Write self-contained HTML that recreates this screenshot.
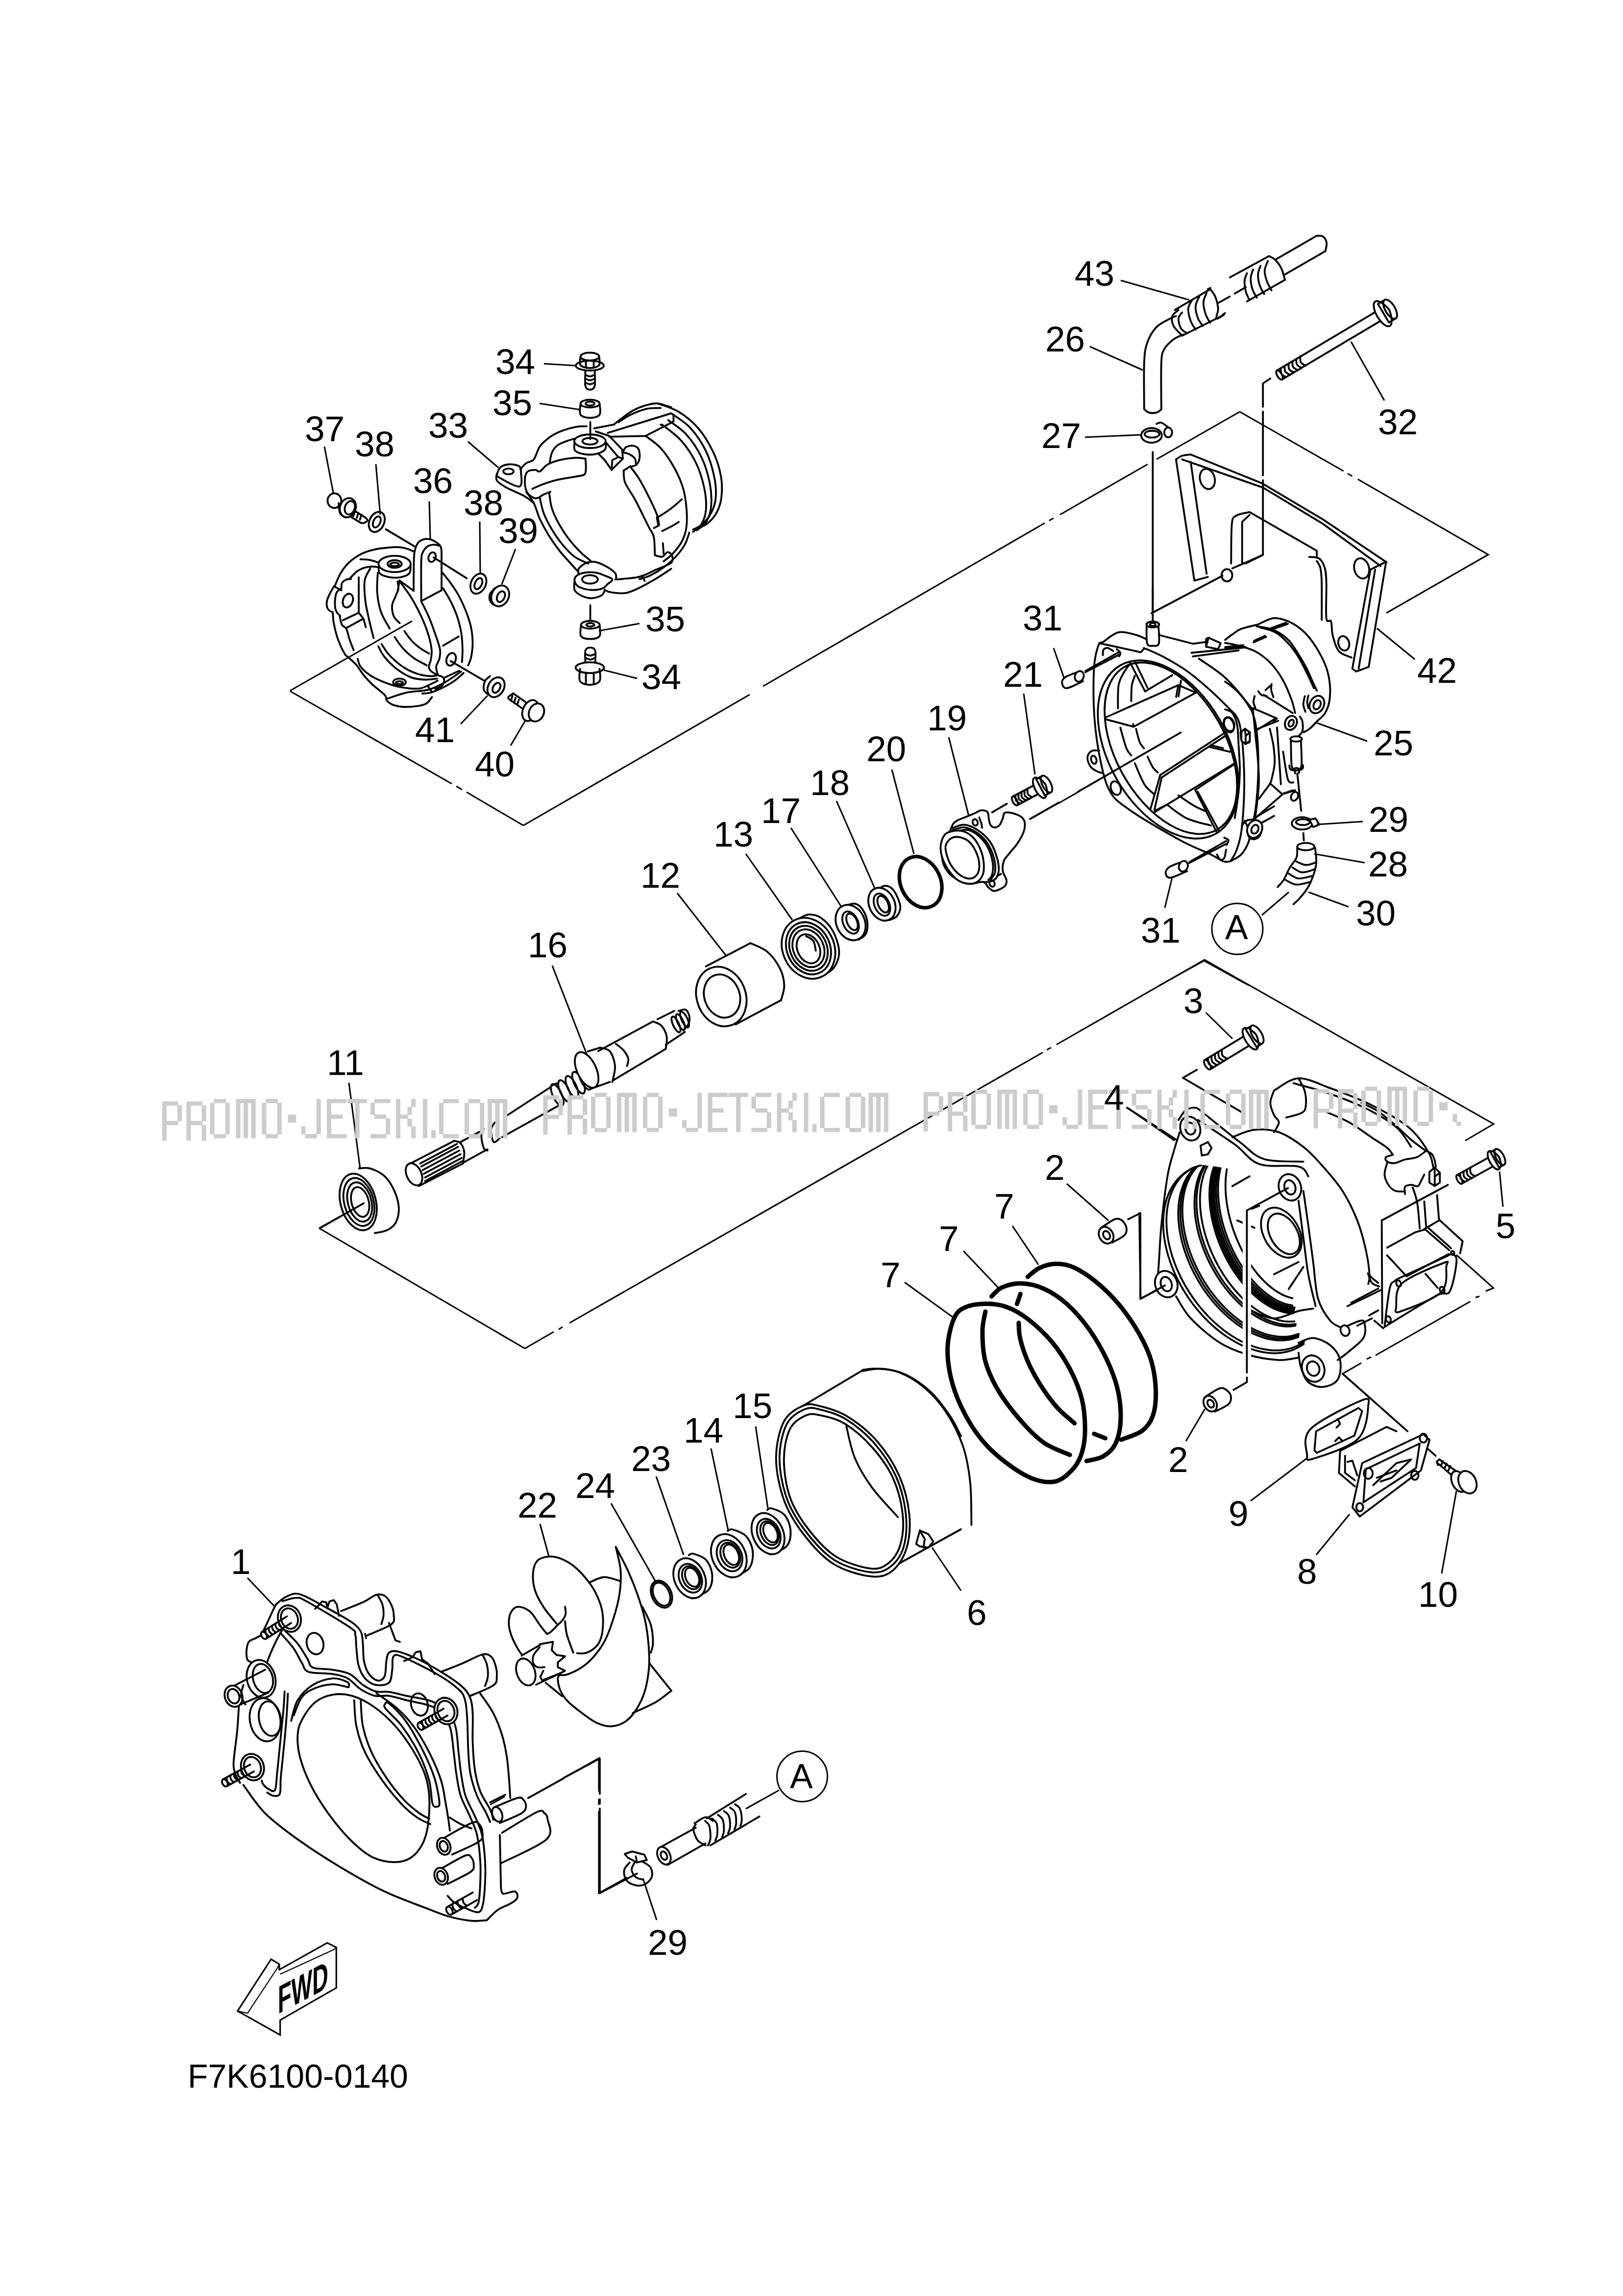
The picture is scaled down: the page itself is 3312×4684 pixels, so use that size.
<!DOCTYPE html>
<html><head><meta charset="utf-8"><style>
html,body{margin:0;padding:0;background:#fff;width:3312px;height:4684px;overflow:hidden}
svg{position:absolute;left:0;top:0}
text{font-family:"Liberation Sans",sans-serif;font-size:73px;fill:#000}
g.g path,g.g ellipse{fill:none;stroke:#000;stroke-linejoin:round;stroke-linecap:round}
g.g .f{fill:#fff}
.ld{fill:none;stroke:#000;stroke-width:3.1;stroke-linecap:butt}
</style></head><body>
<svg width="3312" height="4684" viewBox="0 0 3312 4684">
<rect width="3312" height="4684" fill="#fff"/>

<g class="g" transform="translate(1000,800) scale(0.30807)" stroke-width="12.33">
<path class="f" d="M48.0,540.0 C50.0,528.3 58.3,505.3 72.0,495.0 C85.7,484.7 110.0,478.8 130.0,478.0 C150.0,477.2 179.5,481.3 192.0,490.0 C204.5,498.7 204.5,507.5 205.0,530.0 C205.5,552.5 219.2,619.2 195.0,625.0 C170.8,630.8 84.5,579.2 60.0,565.0 C35.5,550.8 46.0,551.7 48.0,540.0 Z"/>
<ellipse cx="122" cy="525" rx="34" ry="19"/>
<path d="M45.0,540.0 C45.0,547.5 35.0,570.0 45.0,585.0 C55.0,600.0 74.2,612.5 105.0,630.0 C135.8,647.5 199.2,672.5 230.0,690.0 C260.8,707.5 280.0,727.5 290.0,735.0"/>
<path d="M200.0,510.0 C206.7,503.3 225.0,480.8 240.0,470.0 C255.0,459.2 275.0,463.3 290.0,445.0 C305.0,426.7 311.7,385.0 330.0,360.0 C348.3,335.0 375.0,312.5 400.0,295.0 C425.0,277.5 451.7,265.8 480.0,255.0 C508.3,244.2 543.3,234.8 570.0,230.0 C596.7,225.2 628.3,226.7 640.0,226.0"/>
<path d="M232.0,560.0 C235.0,554.2 238.7,532.5 250.0,525.0 C261.3,517.5 286.7,515.0 300.0,515.0 C313.3,515.0 316.7,530.8 330.0,525.0 C343.3,519.2 358.3,492.5 380.0,480.0 C401.7,467.5 430.0,457.5 460.0,450.0 C490.0,442.5 531.3,436.7 560.0,435.0 C588.7,433.3 620.0,439.2 632.0,440.0"/>
<path d="M280.0,640.0 C291.7,635.0 321.7,620.0 350.0,610.0 C378.3,600.0 415.0,588.3 450.0,580.0 C485.0,571.7 530.8,565.8 560.0,560.0 C589.2,554.2 612.5,555.0 625.0,545.0 C637.5,535.0 633.8,517.5 635.0,500.0 C636.2,482.5 632.5,450.0 632.0,440.0"/>
<path d="M232.0,560.0 C232.0,570.0 229.0,601.7 232.0,620.0 C235.0,638.3 240.3,656.7 250.0,670.0 C259.7,683.3 278.3,695.0 290.0,700.0 C301.7,705.0 310.0,703.3 320.0,700.0 C330.0,696.7 336.7,686.7 350.0,680.0 C363.3,673.3 391.7,663.3 400.0,660.0"/>
<path d="M240.0,660.0 C248.3,672.5 275.0,705.0 290.0,735.0 C305.0,765.0 313.3,804.2 330.0,840.0 C346.7,875.8 368.3,915.0 390.0,950.0 C411.7,985.0 436.7,1020.0 460.0,1050.0 C483.3,1080.0 509.2,1106.7 530.0,1130.0 C550.8,1153.3 575.8,1180.0 585.0,1190.0"/>
<path d="M330.0,700.0 C334.2,716.7 341.7,765.0 355.0,800.0 C368.3,835.0 389.2,875.0 410.0,910.0 C430.8,945.0 455.0,980.0 480.0,1010.0 C505.0,1040.0 531.7,1069.2 560.0,1090.0 C588.3,1110.8 635.0,1127.5 650.0,1135.0"/>
<path d="M392.0,670.0 C395.0,686.7 399.5,736.7 410.0,770.0 C420.5,803.3 436.7,836.7 455.0,870.0 C473.3,903.3 495.8,938.3 520.0,970.0 C544.2,1001.7 575.8,1035.8 600.0,1060.0 C624.2,1084.2 654.2,1105.8 665.0,1115.0"/>
<path d="M395.0,470.0 C397.5,458.3 400.8,420.0 410.0,400.0 C419.2,380.0 431.7,363.3 450.0,350.0 C468.3,336.7 499.2,327.5 520.0,320.0 C540.8,312.5 565.8,307.5 575.0,305.0"/>
<path d="M560.0,330.0 C560.3,339.2 552.0,371.7 562.0,385.0 C572.0,398.3 597.0,405.8 620.0,410.0 C643.0,414.2 676.3,415.0 700.0,410.0 C723.7,405.0 751.2,393.3 762.0,380.0 C772.8,366.7 764.5,338.3 765.0,330.0"/>
<ellipse class="f" cx="662" cy="325" rx="104" ry="45"/>
<ellipse cx="662" cy="325" rx="50" ry="22"/>
<path d="M700.0,260.0 L790.0,290.0 L875.0,380.0 L880.0,440.0 L805.0,515.0 L760.0,450.0 L720.0,410.0"/>
<path d="M765.0,330.0 L850.0,430.0 L880.0,440.0"/>
<path d="M805.0,515.0 L810.0,450.0 L850.0,430.0"/>
<path d="M880.0,400.0 C883.3,394.2 888.3,372.5 900.0,365.0 C911.7,357.5 935.8,352.5 950.0,355.0 C964.2,357.5 978.3,365.8 985.0,380.0 C991.7,394.2 992.5,423.3 990.0,440.0 C987.5,456.7 980.0,470.8 970.0,480.0 C960.0,489.2 936.7,492.5 930.0,495.0"/>
<path d="M880.0,400.0 C886.7,401.7 906.7,403.3 920.0,410.0 C933.3,416.7 952.5,430.0 960.0,440.0 C967.5,450.0 964.2,465.0 965.0,470.0"/>
<path d="M690.0,240.0 L820.0,215.0"/>
<path d="M780.0,270.0 L1200.0,140.0 L1215.0,150.0 L1215.0,195.0 L1030.0,290.0 L790.0,295.0"/>
<path d="M820.0,215.0 C828.3,208.3 848.3,190.8 870.0,175.0 C891.7,159.2 921.7,135.0 950.0,120.0 C978.3,105.0 1013.3,92.5 1040.0,85.0 C1066.7,77.5 1083.3,72.5 1110.0,75.0 C1136.7,77.5 1185.0,95.8 1200.0,100.0"/>
<path d="M850.0,200.0 C863.3,191.7 898.3,165.0 930.0,150.0 C961.7,135.0 1006.7,117.5 1040.0,110.0 C1073.3,102.5 1115.0,105.8 1130.0,105.0"/>
<path d="M1110.0,75.0 C1133.3,84.2 1205.0,102.5 1250.0,130.0 C1295.0,157.5 1341.7,195.0 1380.0,240.0 C1418.3,285.0 1455.0,346.7 1480.0,400.0 C1505.0,453.3 1521.3,510.0 1530.0,560.0 C1538.7,610.0 1537.0,660.0 1532.0,700.0 C1527.0,740.0 1515.3,771.7 1500.0,800.0 C1484.7,828.3 1461.7,852.5 1440.0,870.0 C1418.3,887.5 1381.7,899.2 1370.0,905.0"/>
<path d="M1215.0,150.0 C1234.2,165.0 1294.2,200.0 1330.0,240.0 C1365.8,280.0 1404.2,336.7 1430.0,390.0 C1455.8,443.3 1474.2,508.3 1485.0,560.0 C1495.8,611.7 1498.3,660.0 1495.0,700.0 C1491.7,740.0 1480.0,770.8 1465.0,800.0 C1450.0,829.2 1425.0,856.7 1405.0,875.0 C1385.0,893.3 1355.0,904.2 1345.0,910.0"/>
<path d="M1180.0,185.0 C1200.0,200.8 1263.3,239.2 1300.0,280.0 C1336.7,320.8 1374.2,376.7 1400.0,430.0 C1425.8,483.3 1444.2,546.7 1455.0,600.0 C1465.8,653.3 1468.3,707.5 1465.0,750.0 C1461.7,792.5 1450.8,827.5 1435.0,855.0 C1419.2,882.5 1380.8,905.0 1370.0,915.0"/>
<path d="M1140.0,215.0 C1160.8,232.5 1227.5,277.5 1265.0,320.0 C1302.5,362.5 1339.2,416.7 1365.0,470.0 C1390.8,523.3 1409.2,588.3 1420.0,640.0 C1430.8,691.7 1433.3,740.8 1430.0,780.0 C1426.7,819.2 1414.2,850.8 1400.0,875.0 C1385.8,899.2 1354.2,916.7 1345.0,925.0"/>
<path d="M1030.0,290.0 C1046.7,303.3 1098.3,335.0 1130.0,370.0 C1161.7,405.0 1195.0,455.0 1220.0,500.0 C1245.0,545.0 1266.3,593.3 1280.0,640.0 C1293.7,686.7 1298.7,736.7 1302.0,780.0 C1305.3,823.3 1305.3,865.0 1300.0,900.0 C1294.7,935.0 1285.0,961.7 1270.0,990.0 C1255.0,1018.3 1230.0,1048.3 1210.0,1070.0 C1190.0,1091.7 1160.0,1111.7 1150.0,1120.0"/>
<path d="M1130.0,215.0 L1150.0,225.0"/>
<path d="M1320.0,930.0 C1315.0,943.3 1305.0,983.3 1290.0,1010.0 C1275.0,1036.7 1253.3,1065.0 1230.0,1090.0 C1206.7,1115.0 1178.3,1139.2 1150.0,1160.0 C1121.7,1180.8 1086.7,1202.0 1060.0,1215.0 C1033.3,1228.0 1001.7,1234.2 990.0,1238.0"/>
<path d="M885.0,520.0 C886.7,533.3 882.5,568.3 895.0,600.0 C907.5,631.7 940.0,673.3 960.0,710.0 C980.0,746.7 999.2,788.3 1015.0,820.0 C1030.8,851.7 1043.3,876.7 1055.0,900.0 C1066.7,923.3 1078.8,930.0 1085.0,960.0 C1091.2,990.0 1090.8,1060.0 1092.0,1080.0"/>
<path d="M930.0,495.0 C939.2,507.5 965.0,537.5 985.0,570.0 C1005.0,602.5 1030.0,650.0 1050.0,690.0 C1070.0,730.0 1093.3,778.3 1105.0,810.0 C1116.7,841.7 1117.5,868.3 1120.0,880.0"/>
<path d="M885.0,520.0 L930.0,490.0"/>
<path d="M1085.0,900.0 L1115.0,885.0 L1105.0,830.0"/>
<path d="M1110.0,830.0 C1125.0,820.0 1173.3,790.0 1200.0,770.0 C1226.7,750.0 1258.3,720.0 1270.0,710.0"/>
<path d="M1140.0,920.0 C1150.0,915.0 1181.7,900.0 1200.0,890.0 C1218.3,880.0 1241.7,865.0 1250.0,860.0"/>
<path d="M1145.0,1000.0 L1150.0,1070.0"/>
<path d="M1092.0,1080.0 C1100.0,1081.7 1126.2,1093.3 1140.0,1090.0 C1153.8,1086.7 1164.2,1061.7 1175.0,1060.0 C1185.8,1058.3 1200.8,1068.3 1205.0,1080.0 C1209.2,1091.7 1217.5,1114.2 1200.0,1130.0 C1182.5,1145.8 1133.3,1160.0 1100.0,1175.0 C1066.7,1190.0 1033.3,1210.0 1000.0,1220.0 C966.7,1230.0 928.3,1231.7 900.0,1235.0 C871.7,1238.3 841.7,1239.2 830.0,1240.0"/>
<path d="M760.0,1310.0 C766.7,1312.5 776.7,1321.7 800.0,1325.0 C823.3,1328.3 866.7,1335.8 900.0,1330.0 C933.3,1324.2 966.7,1305.8 1000.0,1290.0 C1033.3,1274.2 1066.7,1255.0 1100.0,1235.0 C1133.3,1215.0 1183.3,1180.8 1200.0,1170.0"/>
<path d="M1005.0,1215.0 L1025.0,1250.0"/>
<path d="M585.0,1200.0 C585.8,1194.2 580.8,1176.7 590.0,1165.0 C599.2,1153.3 621.7,1136.7 640.0,1130.0 C658.3,1123.3 676.7,1120.0 700.0,1125.0 C723.3,1130.0 758.3,1147.5 780.0,1160.0 C801.7,1172.5 820.8,1188.3 830.0,1200.0 C839.2,1211.7 834.2,1225.0 835.0,1230.0"/>
<path d="M560.0,1250.0 C560.0,1260.0 553.3,1294.2 560.0,1310.0 C566.7,1325.8 581.7,1335.8 600.0,1345.0 C618.3,1354.2 646.7,1365.0 670.0,1365.0 C693.3,1365.0 725.0,1354.2 740.0,1345.0 C755.0,1335.8 756.7,1315.8 760.0,1310.0"/>
<path class="f" d="M560.0,1250.0 C557.5,1237.5 563.3,1224.2 575.0,1215.0 C586.7,1205.8 609.2,1198.3 630.0,1195.0 C650.8,1191.7 678.3,1191.7 700.0,1195.0 C721.7,1198.3 741.7,1207.5 760.0,1215.0 C778.3,1222.5 806.7,1230.8 810.0,1240.0 C813.3,1249.2 790.8,1260.0 780.0,1270.0 C769.2,1280.0 763.3,1293.3 745.0,1300.0 C726.7,1306.7 695.8,1311.7 670.0,1310.0 C644.2,1308.3 608.3,1300.0 590.0,1290.0 C571.7,1280.0 562.5,1262.5 560.0,1250.0 Z"/>
<ellipse cx="662" cy="1240" rx="52" ry="28"/>
</g>
<g class="g" transform="translate(640,1080) scale(0.22181)" stroke-width="17.13">
<path d="M920.0,565.0 C920.3,520.8 920.3,360.8 922.0,300.0 C923.7,239.2 923.7,229.2 930.0,200.0 C936.3,170.8 946.7,143.0 960.0,125.0 C973.3,107.0 992.5,97.8 1010.0,92.0 C1027.5,86.2 1048.3,87.3 1065.0,90.0 C1081.7,92.7 1095.0,99.7 1110.0,108.0 C1125.0,116.3 1144.2,128.0 1155.0,140.0 C1165.8,152.0 1171.3,153.3 1175.0,180.0 C1178.7,206.7 1176.7,236.7 1177.0,300.0 C1177.3,363.3 1177.0,516.7 1177.0,560.0"/>
<path d="M990.0,660.0 C990.0,600.0 987.5,375.0 990.0,300.0 C992.5,225.0 995.0,234.2 1005.0,210.0 C1015.0,185.8 1032.5,166.7 1050.0,155.0 C1067.5,143.3 1092.5,140.8 1110.0,140.0 C1127.5,139.2 1147.5,148.3 1155.0,150.0"/>
<path d="M990.0,660.0 L1177.0,560.0"/>
<ellipse cx="1090" cy="255" rx="33" ry="45" transform="rotate(20 1090 255)"/>
<path d="M920.0,565.0 L790.0,470.0"/>
<path d="M790.0,470.0 L775.0,560.0"/>
<path d="M600.0,330.0 C601.3,342.5 591.3,386.7 608.0,405.0 C624.7,423.3 668.0,434.2 700.0,440.0 C732.0,445.8 770.0,445.8 800.0,440.0 C830.0,434.2 864.7,423.3 880.0,405.0 C895.3,386.7 890.0,342.5 892.0,330.0"/>
<ellipse class="f" cx="745" cy="318" rx="148" ry="75"/>
<ellipse cx="745" cy="318" rx="65" ry="35"/>
<ellipse cx="745" cy="322" rx="40" ry="16"/>
<path d="M195.0,520.0 C204.2,500.0 227.5,436.7 250.0,400.0 C272.5,363.3 296.7,330.0 330.0,300.0 C363.3,270.0 411.7,239.2 450.0,220.0 C488.3,200.8 521.7,193.7 560.0,185.0 C598.3,176.3 643.3,171.7 680.0,168.0 C716.7,164.3 750.0,161.3 780.0,163.0 C810.0,164.7 835.8,171.0 860.0,178.0 C884.2,185.0 914.2,200.5 925.0,205.0"/>
<path d="M335.0,450.0 C345.8,439.2 377.5,401.3 400.0,385.0 C422.5,368.7 446.7,359.2 470.0,352.0 C493.3,344.8 519.2,342.7 540.0,342.0 C560.8,341.3 585.8,347.0 595.0,348.0"/>
<path d="M430.0,275.0 C445.0,276.2 492.5,277.0 520.0,282.0 C547.5,287.0 582.5,301.2 595.0,305.0"/>
<path d="M255.0,545.0 C256.2,536.2 254.5,505.8 262.0,492.0 C269.5,478.2 286.2,468.2 300.0,462.0 C313.8,455.8 337.5,456.2 345.0,455.0"/>
<path d="M190.0,520.0 C183.3,531.7 161.3,566.7 150.0,590.0 C138.7,613.3 126.2,638.3 122.0,660.0 C117.8,681.7 120.3,705.0 125.0,720.0 C129.7,735.0 141.7,743.3 150.0,750.0 C158.3,756.7 170.8,758.3 175.0,760.0"/>
<path d="M255.0,545.0 C248.3,550.0 224.5,559.2 215.0,575.0 C205.5,590.8 200.8,615.8 198.0,640.0 C195.2,664.2 195.2,699.2 198.0,720.0 C200.8,740.8 207.2,752.5 215.0,765.0 C222.8,777.5 240.0,790.0 245.0,795.0"/>
<ellipse cx="315" cy="655" rx="45" ry="65" transform="rotate(20 315 655)"/>
<path d="M190.0,525.0 L255.0,560.0"/>
<path d="M415.0,440.0 L415.0,765.0 L460.0,825.0 L480.0,900.0"/>
<path d="M270.0,835.0 L410.0,770.0"/>
<path d="M305.0,905.0 L450.0,825.0"/>
<path d="M175.0,760.0 C176.7,776.7 178.3,822.5 185.0,860.0 C191.7,897.5 203.3,947.5 215.0,985.0 C226.7,1022.5 242.2,1056.7 255.0,1085.0 C267.8,1113.3 285.8,1143.3 292.0,1155.0"/>
<path d="M240.0,800.0 C243.7,813.3 252.0,861.3 262.0,880.0 C272.0,898.7 288.7,890.3 300.0,912.0 C311.3,933.7 318.7,977.0 330.0,1010.0 C341.3,1043.0 361.7,1093.3 368.0,1110.0"/>
<path d="M520.0,360.0 C511.7,378.3 477.5,421.7 470.0,470.0 C462.5,518.3 468.3,590.0 475.0,650.0 C481.7,710.0 497.2,771.7 510.0,830.0 C522.8,888.3 545.0,971.7 552.0,1000.0"/>
<path d="M590.0,400.0 C589.2,430.0 580.0,520.0 585.0,580.0 C590.0,640.0 600.8,704.7 620.0,760.0 C639.2,815.3 686.7,886.7 700.0,912.0"/>
<path d="M772.0,480.0 C773.3,490.8 783.3,521.7 780.0,545.0 C776.7,568.3 761.7,594.2 752.0,620.0 C742.3,645.8 724.3,670.0 722.0,700.0 C719.7,730.0 726.3,773.0 738.0,800.0 C749.7,827.0 783.0,851.7 792.0,862.0"/>
<path d="M790.0,475.0 C808.3,500.8 866.7,575.8 900.0,630.0 C933.3,684.2 965.0,746.7 990.0,800.0 C1015.0,853.3 1034.2,900.0 1050.0,950.0 C1065.8,1000.0 1080.3,1058.3 1085.0,1100.0 C1089.7,1141.7 1082.2,1173.0 1078.0,1200.0 C1073.8,1227.0 1060.0,1245.0 1060.0,1262.0 C1060.0,1279.0 1067.2,1290.3 1078.0,1302.0 C1088.8,1313.7 1117.2,1327.0 1125.0,1332.0"/>
<path d="M990.0,662.0 C1001.3,685.0 1036.7,750.3 1058.0,800.0 C1079.3,849.7 1100.7,910.0 1118.0,960.0 C1135.3,1010.0 1155.3,1062.5 1162.0,1100.0 C1168.7,1137.5 1163.7,1158.0 1158.0,1185.0 C1152.3,1212.0 1131.0,1237.8 1128.0,1262.0 C1125.0,1286.2 1138.0,1318.7 1140.0,1330.0"/>
<path d="M835.0,935.0 C845.8,949.5 875.8,995.8 900.0,1022.0 C924.2,1048.2 953.0,1072.0 980.0,1092.0 C1007.0,1112.0 1048.3,1133.7 1062.0,1142.0"/>
<path d="M745.0,990.0 C757.5,1007.0 790.8,1060.0 820.0,1092.0 C849.2,1124.0 883.3,1155.7 920.0,1182.0 C956.7,1208.3 1020.0,1238.7 1040.0,1250.0"/>
<path d="M625.0,1055.0 C637.5,1072.5 665.8,1124.2 700.0,1160.0 C734.2,1195.8 786.7,1241.7 830.0,1270.0 C873.3,1298.3 918.3,1316.7 960.0,1330.0 C1001.7,1343.3 1050.0,1348.3 1080.0,1350.0 C1110.0,1351.7 1130.0,1341.7 1140.0,1340.0"/>
<path d="M595.0,1075.0 C604.2,1090.8 622.5,1135.8 650.0,1170.0 C677.5,1204.2 718.3,1248.0 760.0,1280.0 C801.7,1312.0 855.0,1345.0 900.0,1362.0 C945.0,1379.0 990.8,1380.3 1030.0,1382.0 C1069.2,1383.7 1117.5,1373.7 1135.0,1372.0"/>
<path d="M405.0,1190.0 C409.5,1202.0 412.8,1236.7 432.0,1262.0 C451.2,1287.3 485.3,1318.7 520.0,1342.0 C554.7,1365.3 600.0,1385.3 640.0,1402.0 C680.0,1418.7 720.0,1432.0 760.0,1442.0 C800.0,1452.0 843.3,1458.7 880.0,1462.0 C916.7,1465.3 950.0,1467.0 980.0,1462.0 C1010.0,1457.0 1033.3,1443.7 1060.0,1432.0 C1086.7,1420.3 1126.7,1398.7 1140.0,1392.0"/>
<path d="M292.0,1155.0 C308.2,1169.5 361.0,1211.2 389.0,1242.0 C417.0,1272.8 435.0,1309.5 460.0,1340.0 C485.0,1370.5 506.3,1394.2 539.0,1425.0 C571.7,1455.8 633.7,1500.0 656.0,1525.0 C678.3,1550.0 659.2,1559.7 673.0,1575.0 C686.8,1590.3 708.5,1607.3 739.0,1617.0 C769.5,1626.7 808.7,1634.5 856.0,1633.0 C903.3,1631.5 984.2,1623.2 1023.0,1608.0 C1061.8,1592.8 1078.0,1553.0 1089.0,1542.0"/>
<path d="M673.0,1558.0 C704.2,1548.3 796.2,1513.8 860.0,1500.0 C923.8,1486.2 998.3,1490.3 1056.0,1475.0 C1113.7,1459.7 1156.0,1435.8 1206.0,1408.0 C1256.0,1380.2 1331.0,1324.7 1356.0,1308.0"/>
<ellipse cx="790" cy="1405" rx="58" ry="33"/>
<ellipse cx="790" cy="1410" rx="32" ry="13"/>
<path d="M1177.0,390.0 C1189.2,405.0 1224.5,445.0 1250.0,480.0 C1275.5,515.0 1305.0,555.0 1330.0,600.0 C1355.0,645.0 1380.3,700.0 1400.0,750.0 C1419.7,800.0 1437.5,850.0 1448.0,900.0 C1458.5,950.0 1463.0,1003.3 1463.0,1050.0 C1463.0,1096.7 1454.8,1146.7 1448.0,1180.0 C1441.2,1213.3 1426.3,1238.3 1422.0,1250.0"/>
<path d="M1190.0,540.0 C1201.7,560.0 1238.3,616.7 1260.0,660.0 C1281.7,703.3 1303.7,751.7 1320.0,800.0 C1336.3,848.3 1349.7,900.0 1358.0,950.0 C1366.3,1000.0 1368.8,1055.0 1370.0,1100.0 C1371.2,1145.0 1365.8,1200.0 1365.0,1220.0"/>
<path d="M1190.0,1070.0 L1335.0,985.0"/>
<ellipse cx="1265" cy="1195" rx="42" ry="60" transform="rotate(20 1265 1195)"/>
<path d="M1380.0,1320.0 C1366.7,1331.7 1330.0,1368.3 1300.0,1390.0 C1270.0,1411.7 1236.7,1431.7 1200.0,1450.0 C1163.3,1468.3 1113.3,1490.0 1080.0,1500.0 C1046.7,1510.0 1013.3,1508.3 1000.0,1510.0"/>
<path d="M1210.0,1360.0 L1340.0,1300.0"/>
<path d="M1140.0,1340.0 C1148.3,1343.3 1180.0,1350.0 1190.0,1360.0 C1200.0,1370.0 1201.7,1386.7 1200.0,1400.0 C1198.3,1413.3 1193.3,1428.3 1180.0,1440.0 C1166.7,1451.7 1130.0,1465.0 1120.0,1470.0"/>
<path d="M1050.0,1440.0 L1085.0,1490.0"/>
</g>
<g class="g" transform="translate(560,680) scale(0.49969)" stroke-width="7.60">
<path d="M1270.0,150.0 C1270.0,160.8 1267.0,201.7 1270.0,215.0 C1273.0,228.3 1281.7,230.0 1288.0,230.0 C1294.3,230.0 1304.7,228.3 1308.0,215.0 C1311.3,201.7 1308.0,160.8 1308.0,150.0"/>
<path d="M1272.0,170.0 C1274.7,171.0 1282.3,176.0 1288.0,176.0 C1293.7,176.0 1303.0,171.0 1306.0,170.0"/>
<path d="M1272.0,186.0 C1274.7,187.0 1282.3,192.0 1288.0,192.0 C1293.7,192.0 1303.0,187.0 1306.0,186.0"/>
<path d="M1272.0,202.0 C1274.7,203.0 1282.3,208.0 1288.0,208.0 C1293.7,208.0 1303.0,203.0 1306.0,202.0"/>
<ellipse class="f" cx="1288" cy="132" rx="57" ry="20"/>
<path d="M1250.0,95.0 C1250.0,100.8 1243.7,122.2 1250.0,130.0 C1256.3,137.8 1275.3,142.0 1288.0,142.0 C1300.7,142.0 1319.7,137.8 1326.0,130.0 C1332.3,122.2 1326.0,100.8 1326.0,95.0"/>
<ellipse class="f" cx="1288" cy="95" rx="38" ry="16"/>
<path d="M1272.0,110.0 L1272.0,138.0"/>
<path d="M1304.0,110.0 L1304.0,138.0"/>
<path d="M1250.0,287.0 C1250.0,294.5 1243.5,322.3 1250.0,332.0 C1256.5,341.7 1276.0,345.0 1289.0,345.0 C1302.0,345.0 1321.5,341.7 1328.0,332.0 C1334.5,322.3 1328.0,294.5 1328.0,287.0"/>
<ellipse class="f" cx="1289" cy="287" rx="39" ry="16"/>
<ellipse cx="1289" cy="287" rx="18" ry="8"/>
<path d="M1290.0,362.0 L1290.0,432.0"/>
<path d="M1290.0,1110.0 L1290.0,1185.0"/>
<path d="M1252.0,1190.0 C1252.0,1197.7 1245.7,1226.3 1252.0,1236.0 C1258.3,1245.7 1277.3,1248.0 1290.0,1248.0 C1302.7,1248.0 1321.7,1245.7 1328.0,1236.0 C1334.3,1226.3 1328.0,1197.7 1328.0,1190.0"/>
<ellipse class="f" cx="1290" cy="1190" rx="38" ry="16"/>
<ellipse cx="1290" cy="1190" rx="16" ry="7"/>
<path d="M1270.0,1345.0 C1270.0,1336.7 1266.7,1305.3 1270.0,1295.0 C1273.3,1284.7 1283.3,1283.0 1290.0,1283.0 C1296.7,1283.0 1306.7,1284.7 1310.0,1295.0 C1313.3,1305.3 1310.0,1336.7 1310.0,1345.0"/>
<path d="M1272.0,1310.0 C1275.0,1311.0 1284.0,1316.0 1290.0,1316.0 C1296.0,1316.0 1305.0,1311.0 1308.0,1310.0"/>
<path d="M1272.0,1326.0 C1275.0,1327.0 1284.0,1332.0 1290.0,1332.0 C1296.0,1332.0 1305.0,1327.0 1308.0,1326.0"/>
<ellipse class="f" cx="1288" cy="1365" rx="58" ry="22"/>
<path d="M1248.0,1370.0 C1248.0,1378.3 1241.3,1409.2 1248.0,1420.0 C1254.7,1430.8 1274.7,1435.0 1288.0,1435.0 C1301.3,1435.0 1321.3,1430.8 1328.0,1420.0 C1334.7,1409.2 1328.0,1378.3 1328.0,1370.0"/>
<path d="M1272.0,1385.0 L1272.0,1428.0"/>
<path d="M1304.0,1385.0 L1304.0,1428.0"/>
<ellipse cx="245" cy="683" rx="28" ry="30"/>
<path d="M320.0,720.0 L372.0,752.0"/>
<path d="M300.0,742.0 L350.0,772.0"/>
<path d="M372.0,752.0 C373.3,754.2 381.7,761.2 380.0,765.0 C378.3,768.8 367.0,773.8 362.0,775.0 C357.0,776.2 352.0,772.5 350.0,772.0"/>
<path d="M316.0,718.0 L308.0,738.0"/>
<path d="M330.0,725.0 L322.0,746.0"/>
<path d="M343.0,733.0 L336.0,754.0"/>
<path d="M356.0,740.0 L349.0,761.0"/>
<ellipse class="f" cx="300" cy="712" rx="32" ry="40" transform="rotate(20 300 712)"/>
<path d="M262.0,693.0 C263.0,700.0 263.3,725.2 268.0,735.0 C272.7,744.8 286.3,749.2 290.0,752.0"/>
<ellipse cx="308" cy="712" rx="20" ry="28" transform="rotate(20 308 712)"/>
<ellipse class="f" cx="418" cy="770" rx="30" ry="43" transform="rotate(25 418 770)"/>
<ellipse cx="418" cy="770" rx="14" ry="24" transform="rotate(25 418 770)"/>
<path d="M455.0,800.0 L572.0,870.0"/>
<ellipse class="f" cx="833" cy="1022" rx="30" ry="43" transform="rotate(25 833 1022)"/>
<ellipse cx="833" cy="1022" rx="14" ry="24" transform="rotate(25 833 1022)"/>
<path d="M650.0,915.0 L785.0,1000.0"/>
<path d="M900.0,1040.0 C896.7,1044.2 883.3,1056.7 880.0,1065.0 C876.7,1073.3 877.5,1082.8 880.0,1090.0 C882.5,1097.2 890.0,1104.3 895.0,1108.0 C900.0,1111.7 907.5,1111.3 910.0,1112.0"/>
<ellipse class="f" cx="922" cy="1072" rx="35" ry="44" transform="rotate(25 922 1072)"/>
<ellipse cx="925" cy="1075" rx="15" ry="23" transform="rotate(25 925 1075)"/>
<path d="M720.0,1338.0 L860.0,1420.0"/>
<path d="M880.0,1400.0 C876.7,1403.3 864.2,1410.8 860.0,1420.0 C855.8,1429.2 852.5,1445.8 855.0,1455.0 C857.5,1464.2 867.5,1470.8 875.0,1475.0 C882.5,1479.2 895.8,1479.2 900.0,1480.0"/>
<ellipse class="f" cx="905" cy="1445" rx="32" ry="43" transform="rotate(30 905 1445)"/>
<ellipse cx="907" cy="1447" rx="14" ry="22" transform="rotate(30 907 1447)"/>
<path d="M960.0,1495.0 L1010.0,1530.0"/>
<path d="M975.0,1470.0 L1025.0,1505.0"/>
<path d="M960.0,1495.0 C959.2,1493.3 952.5,1489.2 955.0,1485.0 C957.5,1480.8 971.7,1472.5 975.0,1470.0"/>
<path d="M972.0,1480.0 L966.0,1500.0"/>
<path d="M985.0,1488.0 L979.0,1508.0"/>
<path d="M998.0,1496.0 L992.0,1516.0"/>
<ellipse class="f" cx="1045" cy="1540" rx="30" ry="45" transform="rotate(25 1045 1540)"/>
<ellipse class="f" cx="1070" cy="1548" rx="30" ry="38" transform="rotate(25 1070 1548)"/>
</g>
<g class="g" transform="translate(2150,440) scale(0.49969)" stroke-width="7.60">
<path d="M370.0,790.0 C370.0,758.3 368.0,645.0 370.0,600.0 C372.0,555.0 373.7,544.2 382.0,520.0 C390.3,495.8 403.7,472.0 420.0,455.0 C436.3,438.0 466.7,425.5 480.0,418.0 C493.3,410.5 496.7,411.3 500.0,410.0"/>
<path d="M440.0,790.0 C440.0,758.3 438.0,640.8 440.0,600.0 C442.0,559.2 443.7,560.8 452.0,545.0 C460.3,529.2 477.0,515.0 490.0,505.0 C503.0,495.0 523.3,488.3 530.0,485.0"/>
<path d="M370.0,790.0 C372.5,792.0 379.2,799.3 385.0,802.0 C390.8,804.7 398.3,806.0 405.0,806.0 C411.7,806.0 419.2,804.7 425.0,802.0 C430.8,799.3 437.5,792.0 440.0,790.0"/>
<path d="M495.0,385.0 L640.0,300.0"/>
<path d="M525.0,490.0 L695.0,405.0"/>
<path d="M510.0,385.0 C505.8,389.2 488.3,399.2 485.0,410.0 C481.7,420.8 483.3,436.7 490.0,450.0 C496.7,463.3 519.2,483.3 525.0,490.0"/>
<path d="M525.0,395.0 C522.5,399.2 510.8,409.2 510.0,420.0 C509.2,430.8 514.2,450.0 520.0,460.0 C525.8,470.0 540.8,476.7 545.0,480.0"/>
<path d="M565.0,345.0 C562.5,350.8 550.8,365.8 550.0,380.0 C549.2,394.2 555.0,415.8 560.0,430.0 C565.0,444.2 576.7,459.2 580.0,465.0"/>
<path d="M595.0,330.0 C592.5,336.7 580.8,355.0 580.0,370.0 C579.2,385.0 585.0,406.7 590.0,420.0 C595.0,433.3 606.7,445.0 610.0,450.0"/>
<path d="M625.0,315.0 C622.8,321.7 612.5,340.0 612.0,355.0 C611.5,370.0 617.3,391.3 622.0,405.0 C626.7,418.7 637.0,431.7 640.0,437.0"/>
<path d="M640.0,300.0 C643.3,305.0 654.7,316.7 660.0,330.0 C665.3,343.3 671.2,365.0 672.0,380.0 C672.8,395.0 661.2,415.8 665.0,420.0 C668.8,424.2 690.0,407.5 695.0,405.0"/>
<path d="M675.0,355.0 L720.0,330.0"/>
<path d="M740.0,318.0 L785.0,292.0"/>
<path d="M630.0,300.0 L640.0,295.0"/>
<path d="M690.0,405.0 L700.0,398.0"/>
<path d="M720.0,252.0 L880.0,165.0"/>
<path d="M790.0,350.0 L945.0,262.0"/>
<path d="M790.0,235.0 C788.3,240.0 780.8,252.5 780.0,265.0 C779.2,277.5 781.7,296.7 785.0,310.0 C788.3,323.3 797.5,339.2 800.0,345.0"/>
<path d="M815.0,220.0 C813.3,225.8 805.5,241.7 805.0,255.0 C804.5,268.3 807.8,286.7 812.0,300.0 C816.2,313.3 827.0,329.2 830.0,335.0"/>
<path d="M845.0,205.0 C843.3,210.8 835.5,226.7 835.0,240.0 C834.5,253.3 837.8,271.7 842.0,285.0 C846.2,298.3 857.0,314.2 860.0,320.0"/>
<path d="M875.0,185.0 C872.8,191.7 862.5,210.8 862.0,225.0 C861.5,239.2 867.3,256.7 872.0,270.0 C876.7,283.3 887.0,299.2 890.0,305.0"/>
<path d="M880.0,165.0 C884.2,167.5 896.7,171.7 905.0,180.0 C913.3,188.3 923.3,201.3 930.0,215.0 C936.7,228.7 942.5,254.2 945.0,262.0"/>
<path d="M905.0,180.0 L1075.0,82.0"/>
<path d="M945.0,240.0 L1110.0,145.0"/>
<path d="M1075.0,82.0 C1079.2,82.5 1093.3,80.3 1100.0,85.0 C1106.7,89.7 1113.3,100.0 1115.0,110.0 C1116.7,120.0 1110.8,139.2 1110.0,145.0"/>
<ellipse class="f" cx="400" cy="897" rx="42" ry="30"/>
<ellipse cx="402" cy="892" rx="30" ry="14"/>
<path d="M420.0,850.0 C423.3,849.2 431.7,842.5 440.0,845.0 C448.3,847.5 465.0,861.7 470.0,865.0"/>
<ellipse class="f" cx="468" cy="885" rx="16" ry="20"/>
<path d="M405.0,965.0 L405.0,1623.0"/>
<path d="M885.0,665.0 L855.0,685.0 L855.0,780.0"/>
<path d="M855.0,800.0 L855.0,1060.0"/>
<path d="M855.0,1080.0 L855.0,1385.0 L785.0,1420.0"/>
<path d="M500.0,995.0 C504.2,992.5 515.0,983.3 525.0,980.0 C535.0,976.7 554.2,975.8 560.0,975.0"/>
<path d="M560.0,975.0 L850.0,1092.0 L1100.0,1240.0 L1360.0,1415.0"/>
<path d="M525.0,995.0 L855.0,1110.0 L1100.0,1258.0 L1335.0,1430.0"/>
<path d="M500.0,995.0 L575.0,1490.0 L630.0,1475.0"/>
<path d="M560.0,1005.0 L625.0,1462.0"/>
<ellipse cx="628" cy="1075" rx="30" ry="42" transform="rotate(-15 628 1075)"/>
<ellipse cx="1258" cy="1440" rx="30" ry="42" transform="rotate(-15 1258 1440)"/>
<path d="M725.0,1420.0 C725.5,1393.3 724.7,1292.5 728.0,1260.0 C731.3,1227.5 733.0,1233.3 745.0,1225.0 C757.0,1216.7 790.8,1212.5 800.0,1210.0"/>
<path d="M800.0,1210.0 L1075.0,1368.0 L1075.0,1395.0"/>
<path d="M770.0,1420.0 L770.0,1250.0 L800.0,1222.0"/>
<path d="M1044.0,1393.0 C1050.8,1394.2 1074.3,1392.2 1085.0,1400.0 C1095.7,1407.8 1103.2,1423.3 1108.0,1440.0 C1112.8,1456.7 1113.0,1466.2 1114.0,1500.0 C1115.0,1533.8 1110.8,1617.0 1114.0,1643.0 C1117.2,1669.0 1128.7,1644.2 1133.0,1656.0 C1137.3,1667.8 1134.7,1693.7 1140.0,1714.0 C1145.3,1734.3 1152.2,1763.0 1165.0,1778.0 C1177.8,1793.0 1208.3,1799.7 1217.0,1804.0"/>
<path d="M1075.0,1410.0 C1077.5,1415.0 1086.7,1425.0 1090.0,1440.0 C1093.3,1455.0 1094.2,1465.0 1095.0,1500.0 C1095.8,1535.0 1095.0,1625.0 1095.0,1650.0"/>
<path d="M1358.0,1413.0 L1294.0,1445.0 L1220.0,1849.0 L1236.0,1861.0 L1287.0,1842.0 L1358.0,1413.0"/>
<path d="M1313.0,1445.0 L1246.0,1849.0"/>
<ellipse cx="1185" cy="1746" rx="22" ry="30" transform="rotate(-15 1185 1746)"/>
<ellipse cx="708" cy="1468" rx="22" ry="25"/>
<path d="M400.0,1623.0 L690.0,1470.0"/>
<path d="M730.0,1440.0 L855.0,1385.0"/>
</g>
<g class="g" transform="translate(2150,1200) scale(0.49969)" stroke-width="7.60">
<path d="M380.0,150.0 C380.3,162.5 377.8,210.8 382.0,225.0 C386.2,239.2 397.0,235.0 405.0,235.0 C413.0,235.0 426.2,239.2 430.0,225.0 C433.8,210.8 428.3,162.5 428.0,150.0"/>
<ellipse class="f" cx="405" cy="148" rx="26" ry="12"/>
<ellipse cx="405" cy="148" rx="12" ry="6"/>
<path d="M405.0,0.0 L405.0,132.0"/>
<path d="M90.0,345.0 C82.5,348.3 54.2,357.5 45.0,365.0 C35.8,372.5 33.3,382.8 35.0,390.0 C36.7,397.2 40.8,409.7 55.0,408.0 C69.2,406.3 109.2,384.7 120.0,380.0"/>
<ellipse class="f" cx="105" cy="360" rx="18" ry="22" transform="rotate(20 105 360)"/>
<path d="M130.0,338.0 L265.0,262.0"/>
<path d="M515.0,1120.0 C507.5,1123.3 479.5,1132.5 470.0,1140.0 C460.5,1147.5 456.7,1158.0 458.0,1165.0 C459.3,1172.0 463.5,1183.7 478.0,1182.0 C492.5,1180.3 533.8,1159.5 545.0,1155.0"/>
<ellipse class="f" cx="530" cy="1135" rx="18" ry="22" transform="rotate(20 530 1135)"/>
<path d="M555.0,1118.0 L705.0,1032.0"/>
<ellipse class="f" cx="1015" cy="960" rx="42" ry="25"/>
<ellipse cx="1018" cy="955" rx="28" ry="12"/>
<path class="f" d="M1045.0,945.0 L1070.0,940.0 L1085.0,965.0 L1060.0,975.0 Z"/>
<path d="M1020.0,1000.0 L1022.0,1030.0"/>
<path d="M995.0,1060.0 C994.5,1066.7 997.0,1086.7 992.0,1100.0 C987.0,1113.3 973.7,1125.0 965.0,1140.0 C956.3,1155.0 948.3,1176.7 940.0,1190.0 C931.7,1203.3 919.2,1215.0 915.0,1220.0"/>
<path d="M1068.0,1060.0 C1068.7,1071.7 1075.8,1105.0 1072.0,1130.0 C1068.2,1155.0 1055.3,1188.3 1045.0,1210.0 C1034.7,1231.7 1020.8,1246.7 1010.0,1260.0 C999.2,1273.3 985.0,1285.0 980.0,1290.0"/>
<ellipse class="f" cx="1030" cy="1055" rx="35" ry="15"/>
<path d="M990.0,1115.0 C996.7,1117.5 1016.7,1129.2 1030.0,1130.0 C1043.3,1130.8 1063.3,1121.7 1070.0,1120.0"/>
<path d="M975.0,1140.0 C981.7,1143.3 1000.0,1158.7 1015.0,1160.0 C1030.0,1161.3 1056.7,1150.0 1065.0,1148.0"/>
<path d="M960.0,1165.0 C966.7,1168.3 984.2,1183.3 1000.0,1185.0 C1015.8,1186.7 1045.8,1176.7 1055.0,1175.0"/>
<path d="M945.0,1190.0 C952.5,1193.3 973.3,1208.3 990.0,1210.0 C1006.7,1211.7 1035.8,1201.7 1045.0,1200.0"/>
</g>
<g class="g" transform="translate(2200,1280) scale(0.24646)" stroke-width="15.42">
<ellipse cx="746" cy="1010" rx="492" ry="801" transform="rotate(150.4 746 1010)"/>
<ellipse cx="768" cy="1000" rx="452" ry="775" transform="rotate(150.4 768 1000)"/>
<path d="M150.0,210.0 C147.5,225.0 138.7,260.0 135.0,300.0 C131.3,340.0 128.8,391.7 128.0,450.0 C127.2,508.3 127.2,583.3 130.0,650.0 C132.8,716.7 137.5,783.3 145.0,850.0 C152.5,916.7 163.3,986.7 175.0,1050.0 C186.7,1113.3 202.5,1183.3 215.0,1230.0 C227.5,1276.7 235.8,1300.0 250.0,1330.0 C264.2,1360.0 280.0,1386.7 300.0,1410.0 C320.0,1433.3 336.7,1445.0 370.0,1470.0 C403.3,1495.0 445.0,1525.0 500.0,1560.0 C555.0,1595.0 633.3,1641.7 700.0,1680.0 C766.7,1718.3 833.3,1756.7 900.0,1790.0 C966.7,1823.3 1050.0,1855.8 1100.0,1880.0 C1150.0,1904.2 1175.0,1925.3 1200.0,1935.0 C1225.0,1944.7 1241.7,1937.5 1250.0,1938.0"/>
<path d="M150.0,210.0 C154.2,197.5 165.0,150.3 175.0,135.0 C185.0,119.7 183.3,133.8 210.0,118.0 C236.7,102.2 290.0,49.3 335.0,40.0 C380.0,30.7 442.5,52.8 480.0,62.0 C517.5,71.2 546.7,89.5 560.0,95.0"/>
<path d="M175.0,130.0 L520.0,205.0 L545.0,178.0"/>
<path d="M545.0,170.0 C570.8,181.7 640.8,208.3 700.0,240.0 C759.2,271.7 833.3,312.5 900.0,360.0 C966.7,407.5 1033.3,465.0 1100.0,525.0 C1166.7,585.0 1266.7,687.5 1300.0,720.0"/>
<path d="M1300.0,720.0 C1305.8,731.7 1325.0,751.7 1335.0,790.0 C1345.0,828.3 1353.3,881.7 1360.0,950.0 C1366.7,1018.3 1373.0,1116.7 1375.0,1200.0 C1377.0,1283.3 1376.2,1366.7 1372.0,1450.0 C1367.8,1533.3 1360.3,1633.3 1350.0,1700.0 C1339.7,1766.7 1324.7,1810.8 1310.0,1850.0 C1295.3,1889.2 1270.0,1920.8 1262.0,1935.0"/>
<path d="M1000.0,258.0 C1033.3,281.7 1141.7,349.7 1200.0,400.0 C1258.3,450.3 1310.0,510.8 1350.0,560.0 C1390.0,609.2 1425.0,672.5 1440.0,695.0"/>
<path d="M1440.0,695.0 C1445.0,712.5 1461.7,749.2 1470.0,800.0 C1478.3,850.8 1486.7,925.0 1490.0,1000.0 C1493.3,1075.0 1493.3,1166.7 1490.0,1250.0 C1486.7,1333.3 1478.3,1433.3 1470.0,1500.0 C1461.7,1566.7 1445.0,1625.0 1440.0,1650.0"/>
<path d="M1380.0,1600.0 C1386.7,1616.7 1415.0,1670.0 1420.0,1700.0 C1425.0,1730.0 1421.7,1750.0 1410.0,1780.0 C1398.3,1810.0 1374.7,1854.2 1350.0,1880.0 C1325.3,1905.8 1276.7,1925.8 1262.0,1935.0"/>
<path d="M175.0,1020.0 C165.8,1020.0 135.0,1015.0 120.0,1020.0 C105.0,1025.0 91.7,1036.7 85.0,1050.0 C78.3,1063.3 75.8,1081.7 80.0,1100.0 C84.2,1118.3 95.8,1144.2 110.0,1160.0 C124.2,1175.8 150.0,1187.5 165.0,1195.0 C180.0,1202.5 194.2,1203.3 200.0,1205.0"/>
<ellipse cx="130" cy="1095" rx="22" ry="34" transform="rotate(-15 130 1095)"/>
<ellipse cx="1250" cy="800" rx="42" ry="60" transform="rotate(-20 1250 800)"/>
<ellipse cx="312" cy="1330" rx="40" ry="58" transform="rotate(-20 312 1330)"/>
<path d="M205.0,230.0 C205.8,222.5 203.3,195.0 210.0,185.0 C216.7,175.0 231.7,168.3 245.0,170.0 C258.3,171.7 282.5,190.8 290.0,195.0"/>
<path d="M320.0,180.0 C325.0,185.0 346.7,200.0 350.0,210.0 C353.3,220.0 341.7,235.0 340.0,240.0"/>
<path d="M1150.0,1880.0 C1154.2,1886.7 1165.0,1915.0 1175.0,1920.0 C1185.0,1925.0 1201.7,1923.3 1210.0,1910.0 C1218.3,1896.7 1222.5,1851.7 1225.0,1840.0"/>
<path d="M1210.0,1740.0 C1215.8,1743.3 1241.7,1750.0 1245.0,1760.0 C1248.3,1770.0 1232.5,1793.3 1230.0,1800.0"/>
<path d="M60.0,370.0 L350.0,220.0"/>
<path d="M920.0,1950.0 L1230.0,1790.0"/>
<path class="f" d="M1345.0,870.0 L1380.0,845.0 L1420.0,885.0 L1420.0,950.0 L1385.0,965.0 L1350.0,925.0 Z"/>
<path d="M1380.0,845.0 L1390.0,900.0 L1420.0,885.0"/>
<path d="M1390.0,900.0 L1385.0,965.0"/>
<ellipse class="f" cx="1460" cy="1690" rx="55" ry="65" transform="rotate(20 1460 1690)"/>
<ellipse cx="1462" cy="1692" rx="25" ry="32" transform="rotate(20 1462 1692)"/>
<path d="M1480.0,850.0 L1623.0,760.0"/>
<path d="M1490.0,1560.0 L1623.0,1480.0"/>
<path d="M1480.0,1640.0 L1623.0,1560.0"/>
<path class="f" d="M1060.0,95.0 L1080.0,85.0 L1180.0,130.0 L1160.0,180.0 L1060.0,160.0 Z"/>
<path d="M1080.0,85.0 L1060.0,160.0"/>
<path d="M680.0,65.0 L950.0,135.0 L1060.0,120.0"/>
<path d="M940.0,210.0 L1390.0,165.0"/>
<path d="M950.0,240.0 L1330.0,190.0"/>
<path d="M430.0,290.0 L555.0,530.0 L780.0,395.0"/>
<path d="M470.0,282.0 L575.0,500.0"/>
<path d="M228.0,745.0 L830.0,478.0 L975.0,540.0 L460.0,822.0 L228.0,760.0"/>
<path d="M460.0,822.0 L455.0,800.0"/>
<path d="M830.0,478.0 L812.0,575.0"/>
<path d="M852.0,440.0 L832.0,570.0"/>
<path d="M330.0,670.0 C330.8,638.3 327.5,528.3 335.0,480.0 C342.5,431.7 359.2,410.0 375.0,380.0 C390.8,350.0 420.8,313.3 430.0,300.0"/>
<path d="M440.0,610.0 C440.8,588.3 440.0,515.0 445.0,480.0 C450.0,445.0 465.8,413.3 470.0,400.0"/>
<path d="M350.0,830.0 C358.3,858.3 385.0,961.7 400.0,1000.0 C415.0,1038.3 433.3,1050.0 440.0,1060.0"/>
<path d="M480.0,840.0 C485.0,858.3 499.2,923.3 510.0,950.0 C520.8,976.7 539.2,991.7 545.0,1000.0"/>
<path d="M470.0,1125.0 C483.3,1154.2 523.3,1257.5 550.0,1300.0 C576.7,1342.5 616.7,1366.7 630.0,1380.0"/>
<path d="M575.0,1070.0 C582.5,1085.0 605.8,1138.3 620.0,1160.0 C634.2,1181.7 653.3,1193.3 660.0,1200.0"/>
<path d="M680.0,1222.0 L1200.0,882.0"/>
<path d="M692.0,1242.0 L1212.0,902.0"/>
<path d="M680.0,1222.0 L600.0,1500.0"/>
<path d="M692.0,1242.0 L632.0,1512.0"/>
<path d="M1090.0,990.0 L1260.0,1030.0"/>
<path d="M1100.0,975.0 L1200.0,1000.0"/>
<path d="M632.0,1530.0 L1290.0,1128.0"/>
<path d="M640.0,1515.0 L730.0,1470.0"/>
<path d="M970.0,1345.0 L1150.0,1700.0"/>
<path d="M990.0,1360.0 L1170.0,1690.0"/>
<path d="M970.0,1345.0 L1290.0,1135.0"/>
<path d="M830.0,1390.0 C850.0,1403.3 913.3,1448.3 950.0,1470.0 C986.7,1491.7 1033.3,1511.7 1050.0,1520.0"/>
<path d="M740.0,1470.0 C766.7,1488.3 840.0,1551.7 900.0,1580.0 C960.0,1608.3 1066.7,1630.0 1100.0,1640.0"/>
<path d="M0.0,1360.0 L850.0,870.0"/>
</g>
<g class="g" transform="translate(1350,1250) scale(0.49969)" stroke-width="7.60">
<path d="M1410.0,780.0 L1350.0,815.0"/>
<path d="M1505.0,842.0 L1623.0,775.0"/>
<ellipse cx="1058" cy="1100" rx="85" ry="112" transform="rotate(-25 1058 1100)"/>
<ellipse cx="1058" cy="1100" rx="78" ry="105" transform="rotate(-25 1058 1100)"/>
<path d="M885.0,1130.0 C889.2,1127.5 900.8,1115.8 910.0,1115.0 C919.2,1114.2 930.8,1116.7 940.0,1125.0 C949.2,1133.3 959.2,1151.7 965.0,1165.0 C970.8,1178.3 975.8,1192.5 975.0,1205.0 C974.2,1217.5 967.5,1231.7 960.0,1240.0 C952.5,1248.3 935.0,1252.5 930.0,1255.0"/>
<ellipse class="f" cx="900" cy="1190" rx="52" ry="70" transform="rotate(-25 900 1190)"/>
<ellipse cx="900" cy="1192" rx="30" ry="48" transform="rotate(-25 900 1192)"/>
<ellipse cx="905" cy="1190" rx="20" ry="36" transform="rotate(-25 905 1190)"/>
<path d="M755.0,1195.0 C760.8,1193.8 779.2,1185.5 790.0,1188.0 C800.8,1190.5 811.7,1198.0 820.0,1210.0 C828.3,1222.0 837.5,1243.3 840.0,1260.0 C842.5,1276.7 840.8,1297.5 835.0,1310.0 C829.2,1322.5 810.0,1330.8 805.0,1335.0"/>
<ellipse class="f" cx="772" cy="1265" rx="58" ry="75" transform="rotate(-25 772 1265)"/>
<ellipse cx="772" cy="1265" rx="30" ry="48" transform="rotate(-25 772 1265)"/>
<ellipse cx="778" cy="1262" rx="20" ry="36" transform="rotate(-25 778 1262)"/>
<path d="M560.0,1250.0 C566.7,1247.0 585.0,1232.8 600.0,1232.0 C615.0,1231.2 633.3,1233.7 650.0,1245.0 C666.7,1256.3 687.5,1277.5 700.0,1300.0 C712.5,1322.5 723.3,1356.7 725.0,1380.0 C726.7,1403.3 719.2,1424.2 710.0,1440.0 C700.8,1455.8 685.0,1467.5 670.0,1475.0 C655.0,1482.5 628.3,1483.3 620.0,1485.0"/>
<ellipse class="f" cx="600" cy="1370" rx="105" ry="128" transform="rotate(-25 600 1370)"/>
<ellipse cx="600" cy="1370" rx="88" ry="110" transform="rotate(-25 600 1370)"/>
<ellipse cx="600" cy="1370" rx="75" ry="95" transform="rotate(-25 600 1370)"/>
<ellipse cx="600" cy="1370" rx="62" ry="80" transform="rotate(-25 600 1370)"/>
<ellipse cx="600" cy="1372" rx="45" ry="62" transform="rotate(-25 600 1372)"/>
<path d="M590.0,1320.0 C595.0,1323.3 613.3,1330.0 620.0,1340.0 C626.7,1350.0 628.3,1373.3 630.0,1380.0"/>
<path d="M181.0,1444.0 L363.0,1349.0"/>
<path d="M302.0,1681.0 L488.0,1582.0"/>
<path d="M363.0,1349.0 C374.5,1354.8 411.8,1366.7 432.0,1384.0 C452.2,1401.3 472.5,1430.0 484.0,1453.0 C495.5,1476.0 500.3,1500.5 501.0,1522.0 C501.7,1543.5 490.2,1572.0 488.0,1582.0"/>
<ellipse class="f" cx="244" cy="1567" rx="100" ry="124" transform="rotate(-20 244 1567)"/>
<ellipse cx="247" cy="1565" rx="72" ry="90" transform="rotate(-20 247 1565)"/>
</g>
<g class="g" transform="translate(600,1850) scale(0.49969)" stroke-width="7.60">
<ellipse class="f" cx="490" cy="1092" rx="30" ry="48" transform="rotate(-25 490 1092)"/>
<path d="M475.0,1048.0 L655.0,955.0"/>
<path d="M510.0,1140.0 L690.0,1048.0"/>
<path d="M655.0,955.0 C659.2,956.7 673.3,957.5 680.0,965.0 C686.7,972.5 693.3,986.2 695.0,1000.0 C696.7,1013.8 690.8,1040.0 690.0,1048.0"/>
<path d="M520.0,1060.0 L670.0,980.0"/>
<path d="M525.0,1075.0 L675.0,995.0"/>
<path d="M530.0,1090.0 L680.0,1010.0"/>
<path d="M535.0,1105.0 L685.0,1025.0"/>
<path d="M535.0,1120.0 L688.0,1038.0"/>
<path d="M515.0,1048.0 L665.0,968.0"/>
<path d="M680.0,960.0 L770.0,912.0"/>
<path d="M690.0,1045.0 L790.0,990.0"/>
<path d="M860.0,858.0 L1045.0,738.0"/>
<path d="M850.0,940.0 L1080.0,812.0"/>
<path d="M775.0,905.0 C773.3,910.0 765.0,921.7 765.0,935.0 C765.0,948.3 770.8,975.0 775.0,985.0 C779.2,995.0 787.5,993.3 790.0,995.0"/>
<path d="M820.0,880.0 C817.5,885.0 805.8,896.7 805.0,910.0 C804.2,923.3 809.2,954.2 815.0,960.0 C820.8,965.8 835.8,947.5 840.0,945.0"/>
<path d="M1045.0,738.0 C1047.5,735.8 1054.2,728.0 1060.0,725.0 C1065.8,722.0 1076.7,720.8 1080.0,720.0"/>
<ellipse cx="1075" cy="768" rx="18" ry="48" transform="rotate(-25 1075 768)"/>
<ellipse cx="1105" cy="752" rx="18" ry="48" transform="rotate(-25 1105 752)"/>
<ellipse cx="1135" cy="735" rx="18" ry="48" transform="rotate(-25 1135 735)"/>
<ellipse cx="1162" cy="718" rx="18" ry="48" transform="rotate(-25 1162 718)"/>
<ellipse cx="1188" cy="702" rx="18" ry="48" transform="rotate(-25 1188 702)"/>
<ellipse class="f" cx="1195" cy="666" rx="39" ry="78" transform="rotate(-25 1195 666)"/>
<path d="M1200.0,590.0 L1250.0,575.0"/>
<path d="M1215.0,742.0 L1290.0,715.0"/>
<path d="M1250.0,575.0 C1256.7,577.5 1279.8,577.5 1290.0,590.0 C1300.2,602.5 1309.3,629.2 1311.0,650.0 C1312.7,670.8 1301.8,704.2 1300.0,715.0"/>
<path d="M1242.0,589.0 L1466.0,468.0"/>
<path d="M1302.0,709.0 L1518.0,580.0"/>
<path d="M1315.0,560.0 C1320.0,564.2 1336.7,575.0 1345.0,585.0 C1353.3,595.0 1362.5,609.2 1365.0,620.0 C1367.5,630.8 1360.8,645.0 1360.0,650.0"/>
<path d="M1466.0,468.0 C1471.7,470.8 1490.7,474.7 1500.0,485.0 C1509.3,495.3 1519.0,514.2 1522.0,530.0 C1525.0,545.8 1518.7,571.7 1518.0,580.0"/>
<path d="M1484.0,459.0 L1553.0,425.0"/>
<path d="M1518.0,563.0 L1596.0,511.0"/>
<ellipse cx="1560" cy="480" rx="12" ry="35" transform="rotate(-25 1560 480)"/>
<ellipse cx="1578" cy="470" rx="12" ry="35" transform="rotate(-25 1578 470)"/>
<ellipse cx="1595" cy="460" rx="12" ry="35" transform="rotate(-25 1595 460)"/>
<path d="M1570.0,425.0 C1575.0,424.2 1592.5,415.8 1600.0,420.0 C1607.5,424.2 1613.3,440.0 1615.0,450.0 C1616.7,460.0 1614.2,470.8 1610.0,480.0 C1605.8,489.2 1593.3,500.8 1590.0,505.0"/>
<path d="M265.0,1068.0 C272.5,1068.0 292.5,1062.7 310.0,1068.0 C327.5,1073.3 353.3,1084.7 370.0,1100.0 C386.7,1115.3 400.3,1138.3 410.0,1160.0 C419.7,1181.7 427.2,1208.3 428.0,1230.0 C428.8,1251.7 423.0,1275.0 415.0,1290.0 C407.0,1305.0 394.2,1313.0 380.0,1320.0 C365.8,1327.0 338.3,1330.0 330.0,1332.0"/>
<ellipse class="f" cx="262" cy="1205" rx="72" ry="118" transform="rotate(-15 262 1205)"/>
<ellipse cx="265" cy="1205" rx="60" ry="100" transform="rotate(-15 265 1205)"/>
<ellipse cx="268" cy="1205" rx="48" ry="82" transform="rotate(-15 268 1205)"/>
<ellipse cx="270" cy="1205" rx="35" ry="62" transform="rotate(-15 270 1205)"/>
<path d="M105.0,1312.0 L285.0,1210.0"/>
</g>
<g class="g" transform="translate(2300,2050) scale(0.49969)" stroke-width="7.60">
<path d="M285.0,265.0 L228.0,298.0 L480.0,445.0"/>
<path d="M1310.0,735.0 L1040.0,880.0 L1042.0,1300.0"/>
<path d="M150.0,1150.0 L55.0,1200.0 L50.0,850.0"/>
<path d="M0.0,420.0 L200.0,550.0"/>
<path d="M430.0,540.0 C445.0,535.0 488.3,513.3 520.0,510.0 C551.7,506.7 586.7,508.3 620.0,520.0 C653.3,531.7 690.0,556.7 720.0,580.0 C750.0,603.3 773.3,630.0 800.0,660.0 C826.7,690.0 856.7,723.3 880.0,760.0 C903.3,796.7 924.2,840.0 940.0,880.0 C955.8,920.0 966.7,963.3 975.0,1000.0 C983.3,1036.7 988.3,1076.7 990.0,1100.0 C991.7,1123.3 985.8,1133.3 985.0,1140.0"/>
<path d="M985.0,1100.0 C987.5,1105.8 992.5,1126.7 1000.0,1135.0 C1007.5,1143.3 1025.0,1147.5 1030.0,1150.0"/>
<path d="M600.0,350.0 C616.7,341.7 661.7,301.7 700.0,300.0 C738.3,298.3 780.0,321.7 830.0,340.0 C880.0,358.3 946.7,383.3 1000.0,410.0 C1053.3,436.7 1111.7,468.3 1150.0,500.0 C1188.3,531.7 1213.3,573.3 1230.0,600.0 C1246.7,626.7 1245.8,643.3 1250.0,660.0 C1254.2,676.7 1254.2,693.3 1255.0,700.0"/>
<path d="M680.0,320.0 C703.3,326.7 770.0,342.5 820.0,360.0 C870.0,377.5 933.3,401.7 980.0,425.0 C1026.7,448.3 1070.0,474.2 1100.0,500.0 C1130.0,525.8 1150.0,566.7 1160.0,580.0"/>
<path d="M600.0,350.0 C597.5,358.3 585.0,383.3 585.0,400.0 C585.0,416.7 594.2,436.7 600.0,450.0 C605.8,463.3 620.0,468.3 620.0,480.0 C620.0,491.7 603.3,513.3 600.0,520.0"/>
<path d="M700.0,300.0 C704.2,308.3 720.0,331.7 725.0,350.0 C730.0,368.3 731.7,395.0 730.0,410.0 C728.3,425.0 728.3,431.7 715.0,440.0 C701.7,448.3 660.8,456.7 650.0,460.0"/>
<path d="M510.0,1250.0 C525.0,1255.0 568.3,1280.0 600.0,1280.0 C631.7,1280.0 673.3,1256.7 700.0,1250.0 C726.7,1243.3 750.0,1241.7 760.0,1240.0"/>
<ellipse cx="630" cy="930" rx="72" ry="110" transform="rotate(-30 630 930)"/>
<ellipse cx="640" cy="935" rx="55" ry="90" transform="rotate(-30 640 935)"/>
<path d="M430.0,740.0 L500.0,700.0"/>
<path d="M450.0,880.0 L520.0,910.0"/>
<path d="M600.0,1100.0 L700.0,1050.0"/>
<path d="M660.0,1160.0 L720.0,1070.0"/>
<path d="M290.0,470.0 C315.0,486.7 398.3,540.0 440.0,570.0 C481.7,600.0 496.7,635.0 540.0,650.0 C583.3,665.0 666.7,651.7 700.0,660.0 C733.3,668.3 733.3,693.3 740.0,700.0"/>
<path d="M310.0,440.0 C335.0,460.0 418.3,528.3 460.0,560.0 C501.7,591.7 516.7,616.7 560.0,630.0 C603.3,643.3 693.3,638.3 720.0,640.0"/>
<path d="M720.0,760.0 C723.3,783.3 733.3,851.7 740.0,900.0 C746.7,948.3 753.3,1000.0 760.0,1050.0 C766.7,1100.0 768.3,1160.0 780.0,1200.0 C791.7,1240.0 813.3,1270.0 830.0,1290.0 C846.7,1310.0 871.7,1315.0 880.0,1320.0"/>
<path d="M700.0,800.0 C703.3,825.0 713.3,900.0 720.0,950.0 C726.7,1000.0 731.7,1053.3 740.0,1100.0 C748.3,1146.7 765.0,1208.3 770.0,1230.0"/>
<path d="M215.0,520.0 C210.8,533.3 198.3,570.0 190.0,600.0 C181.7,630.0 173.3,650.0 165.0,700.0 C156.7,750.0 145.8,841.7 140.0,900.0 C134.2,958.3 132.5,1013.3 130.0,1050.0 C127.5,1086.7 125.8,1108.3 125.0,1120.0"/>
<path d="M200.0,1190.0 C210.0,1205.0 230.0,1248.3 260.0,1280.0 C290.0,1311.7 340.0,1355.0 380.0,1380.0 C420.0,1405.0 460.0,1418.3 500.0,1430.0 C540.0,1441.7 586.7,1448.3 620.0,1450.0 C653.3,1451.7 686.7,1441.7 700.0,1440.0"/>
<path d="M880.0,1320.0 C891.7,1315.0 935.0,1293.3 950.0,1290.0 C965.0,1286.7 967.5,1288.3 970.0,1300.0 C972.5,1311.7 976.7,1340.0 965.0,1360.0 C953.3,1380.0 917.5,1405.0 900.0,1420.0 C882.5,1435.0 866.7,1445.0 860.0,1450.0"/>
<path d="M900.0,1230.0 L1035.0,1165.0"/>
<path d="M940.0,1310.0 L1000.0,1280.0"/>
<ellipse class="f" cx="258" cy="505" rx="40" ry="50" transform="rotate(-20 258 505)"/>
<ellipse cx="258" cy="505" rx="20" ry="25" transform="rotate(-20 258 505)"/>
<ellipse class="f" cx="665" cy="745" rx="45" ry="55" transform="rotate(-20 665 745)"/>
<ellipse cx="665" cy="745" rx="22" ry="30" transform="rotate(-20 665 745)"/>
<ellipse class="f" cx="160" cy="1140" rx="45" ry="55" transform="rotate(-20 160 1140)"/>
<ellipse cx="160" cy="1140" rx="22" ry="30" transform="rotate(-20 160 1140)"/>
<path d="M700.0,1380.0 C710.0,1376.7 738.3,1358.3 760.0,1360.0 C781.7,1361.7 811.7,1375.0 830.0,1390.0 C848.3,1405.0 865.0,1426.7 870.0,1450.0 C875.0,1473.3 871.7,1511.7 860.0,1530.0 C848.3,1548.3 820.0,1558.3 800.0,1560.0 C780.0,1561.7 755.0,1553.3 740.0,1540.0 C725.0,1526.7 716.7,1500.0 710.0,1480.0 C703.3,1460.0 701.7,1430.0 700.0,1420.0"/>
<ellipse class="f" cx="760" cy="1485" rx="45" ry="55" transform="rotate(-20 760 1485)"/>
<ellipse cx="760" cy="1485" rx="25" ry="30" transform="rotate(-20 760 1485)"/>
<ellipse class="f" cx="890" cy="1330" rx="18" ry="22" transform="rotate(-20 890 1330)"/>
<path class="f" d="M300.0,575.0 L330.0,560.0 L345.0,585.0 L330.0,610.0 L305.0,615.0 Z"/>
<path d="M210.0,470.0 C215.0,463.3 228.3,438.3 240.0,430.0 C251.7,421.7 268.3,418.3 280.0,420.0 C291.7,421.7 305.0,436.7 310.0,440.0"/>
</g>
<g class="g" transform="translate(1760,2300) scale(0.49969)" stroke-width="7.60">
<g stroke-width="18">
<path d="M502.0,720.0 C530.7,719.5 559.2,722.7 588.0,733.0 C616.8,743.3 644.2,758.3 675.0,782.0 C705.8,805.7 744.3,841.0 773.0,875.0 C801.7,909.0 826.5,947.0 847.0,986.0 C867.5,1025.0 885.7,1068.0 896.0,1109.0 C906.3,1150.0 908.8,1196.0 909.0,1232.0 C909.2,1268.0 904.8,1298.3 897.0,1325.0 C889.2,1351.7 879.8,1372.0 862.0,1392.0 C844.2,1412.0 818.7,1438.3 790.0,1445.0 C761.3,1451.7 726.7,1446.8 690.0,1432.0 C653.3,1417.2 605.5,1384.2 570.0,1356.0 C534.5,1327.8 504.8,1299.0 477.0,1263.0 C449.2,1227.0 422.5,1181.0 403.0,1140.0 C383.5,1099.0 369.2,1058.2 360.0,1017.0 C350.8,975.8 345.8,932.2 348.0,893.0 C350.2,853.8 361.7,808.2 373.0,782.0 C384.3,755.8 394.5,746.3 416.0,736.0 C437.5,725.7 473.3,720.5 502.0,720.0 Z"/>
<path d="M527.0,690.0 C534.2,683.8 549.5,661.8 570.0,653.0 C590.5,644.2 621.3,636.0 650.0,637.0 C678.7,638.0 711.2,645.0 742.0,659.0 C772.8,673.0 804.2,693.2 835.0,721.0 C865.8,748.8 899.3,787.0 927.0,826.0 C954.7,865.0 981.5,913.0 1001.0,955.0 C1020.5,997.0 1035.2,1037.0 1044.0,1078.0 C1052.8,1119.0 1056.0,1165.0 1054.0,1201.0 C1052.0,1237.0 1043.8,1270.3 1032.0,1294.0 C1020.2,1317.7 1002.5,1331.7 983.0,1343.0 C963.5,1354.3 926.3,1358.8 915.0,1362.0"/>
<path d="M502.0,752.0 C500.0,765.3 490.0,798.2 490.0,832.0 C490.0,865.8 490.8,914.0 502.0,955.0 C513.2,996.0 532.3,1037.0 557.0,1078.0 C581.7,1119.0 619.2,1166.0 650.0,1201.0 C680.8,1236.0 709.2,1265.3 742.0,1288.0 C774.8,1310.7 829.5,1328.8 847.0,1337.0"/>
<path d="M631.0,721.0 L645.0,680.0"/>
<path d="M675.0,610.0 C683.2,603.8 704.5,581.8 724.0,573.0 C743.5,564.2 768.3,557.0 792.0,557.0 C815.7,557.0 838.3,560.2 866.0,573.0 C893.7,585.8 927.2,608.3 958.0,634.0 C988.8,659.7 1022.2,692.0 1051.0,727.0 C1079.8,762.0 1109.5,806.0 1131.0,844.0 C1152.5,882.0 1168.8,916.0 1180.0,955.0 C1191.2,994.0 1197.0,1041.0 1198.0,1078.0 C1199.0,1115.0 1195.2,1150.3 1186.0,1177.0 C1176.8,1203.7 1164.5,1221.7 1143.0,1238.0 C1121.5,1254.3 1071.3,1268.8 1057.0,1275.0"/>
<path d="M638.0,798.0 C639.0,808.7 637.8,835.8 644.0,862.0 C650.2,888.2 661.7,924.2 675.0,955.0 C688.3,985.8 704.5,1016.2 724.0,1047.0 C743.5,1077.8 768.3,1113.2 792.0,1140.0 C815.7,1166.8 853.7,1196.7 866.0,1208.0"/>
<path d="M946.0,1251.0 L992.0,1269.0"/>
</g>
<path d="M975.0,410.0 C984.2,404.2 1015.8,380.0 1030.0,375.0 C1044.2,370.0 1052.0,374.2 1060.0,380.0 C1068.0,385.8 1076.3,400.0 1078.0,410.0 C1079.7,420.0 1079.7,430.0 1070.0,440.0 C1060.3,450.0 1028.3,465.0 1020.0,470.0"/>
<ellipse class="f" cx="995" cy="440" rx="28" ry="36" transform="rotate(-30 995 440)"/>
<ellipse cx="997" cy="440" rx="13" ry="18" transform="rotate(-30 997 440)"/>
<path d="M1085.0,375.0 L1135.0,350.0 L1135.0,700.0 L1235.0,645.0"/>
<path d="M1400.0,1100.0 C1410.0,1094.2 1445.0,1069.2 1460.0,1065.0 C1475.0,1060.8 1482.5,1069.2 1490.0,1075.0 C1497.5,1080.8 1504.2,1090.8 1505.0,1100.0 C1505.8,1109.2 1505.8,1120.0 1495.0,1130.0 C1484.2,1140.0 1449.2,1155.0 1440.0,1160.0"/>
<ellipse class="f" cx="1420" cy="1128" rx="25" ry="34" transform="rotate(-30 1420 1128)"/>
<ellipse cx="1422" cy="1128" rx="12" ry="17" transform="rotate(-30 1422 1128)"/>
<path d="M1515.0,1072.0 L1570.0,1040.0 L1570.0,340.0 L1620.0,320.0"/>
<path d="M0.0,990.0 C10.0,989.2 35.0,983.3 60.0,985.0 C85.0,986.7 118.3,987.5 150.0,1000.0 C181.7,1012.5 218.3,1033.3 250.0,1060.0 C281.7,1086.7 313.3,1120.0 340.0,1160.0 C366.7,1200.0 393.3,1251.7 410.0,1300.0 C426.7,1348.3 434.2,1396.2 440.0,1450.0 C445.8,1503.8 444.2,1594.2 445.0,1623.0"/>
</g>
<g class="g" transform="translate(1150,2750) scale(0.49969)" stroke-width="7.60">
<path d="M831.6,661.0 C834.7,660.0 838.2,651.6 850.0,655.0 C861.8,658.4 889.4,666.7 902.2,681.4 C915.0,696.1 925.5,721.7 927.0,743.0 C928.5,764.3 925.3,792.3 911.5,809.0 C897.7,825.7 855.2,837.3 844.0,843.0"/>
<ellipse class="f" cx="835" cy="758" rx="62" ry="88" transform="rotate(-25 835 758)"/>
<ellipse cx="838" cy="758" rx="44.64" ry="63.36" transform="rotate(-25 838 758)"/>
<ellipse cx="841" cy="756" rx="34.1" ry="51.04" transform="rotate(-25 841 756)"/>
<ellipse cx="845" cy="754" rx="26.04" ry="42.239999999999995" transform="rotate(-25 845 754)"/>
<path d="M670.4,747.0 C673.7,746.0 677.4,737.4 690.0,741.0 C702.6,744.6 732.0,753.3 745.8,768.6 C759.6,783.9 771.3,810.8 773.0,833.0 C774.7,855.2 770.8,884.7 756.0,902.0 C741.2,919.3 696.0,931.2 684.0,937.0"/>
<ellipse class="f" cx="675" cy="848" rx="68" ry="92" transform="rotate(-25 675 848)"/>
<ellipse cx="678" cy="848" rx="48.96" ry="66.24" transform="rotate(-25 678 848)"/>
<ellipse cx="681" cy="846" rx="37.400000000000006" ry="53.36" transform="rotate(-25 681 846)"/>
<ellipse cx="685" cy="844" rx="28.56" ry="44.16" transform="rotate(-25 685 844)"/>
<path d="M511.6,846.0 C514.7,845.0 518.2,836.8 530.0,840.0 C541.8,843.2 569.4,851.3 582.2,865.5 C595.0,879.7 605.5,904.5 607.0,925.0 C608.5,945.5 605.3,972.6 591.5,988.8 C577.7,1004.9 535.2,1016.5 524.0,1022.0"/>
<ellipse class="f" cx="515" cy="940" rx="62" ry="85" transform="rotate(-25 515 940)"/>
<ellipse cx="518" cy="940" rx="44.64" ry="61.199999999999996" transform="rotate(-25 518 940)"/>
<ellipse cx="521" cy="938" rx="34.1" ry="49.3" transform="rotate(-25 521 938)"/>
<ellipse cx="525" cy="936" rx="26.04" ry="40.8" transform="rotate(-25 525 936)"/>
<ellipse cx="400" cy="1005" rx="40" ry="58" transform="rotate(-25 400 1005)"/>
<ellipse cx="400" cy="1005" rx="32" ry="50" transform="rotate(-25 400 1005)"/>
<path d="M1215.0,95.0 C1229.2,93.3 1269.2,82.5 1300.0,85.0 C1330.8,87.5 1366.7,94.2 1400.0,110.0 C1433.3,125.8 1470.0,151.7 1500.0,180.0 C1530.0,208.3 1559.5,250.0 1580.0,280.0 C1600.5,310.0 1615.8,346.7 1623.0,360.0"/>
<path d="M980.0,235.0 L1215.0,95.0"/>
<path d="M1370.0,880.0 L1623.0,740.0"/>
<path d="M980.0,235.0 C955.0,245.3 918.7,264.2 900.0,300.0 C881.3,335.8 868.0,396.7 868.0,450.0 C868.0,503.3 881.3,568.3 900.0,620.0 C918.7,671.7 946.7,716.7 980.0,760.0 C1013.3,803.3 1055.0,851.3 1100.0,880.0 C1145.0,908.7 1210.0,926.7 1250.0,932.0 C1290.0,937.3 1315.0,930.7 1340.0,912.0 C1365.0,893.3 1388.0,858.7 1400.0,820.0 C1412.0,781.3 1417.0,730.0 1412.0,680.0 C1407.0,630.0 1392.0,570.0 1370.0,520.0 C1348.0,470.0 1315.0,420.0 1280.0,380.0 C1245.0,340.0 1198.3,303.7 1160.0,280.0 C1121.7,256.3 1080.0,245.5 1050.0,238.0 C1020.0,230.5 1005.0,224.7 980.0,235.0 Z"/>
<path d="M985.0,250.0 C962.0,259.7 929.2,276.7 912.0,310.0 C894.8,343.3 882.0,399.2 882.0,450.0 C882.0,500.8 894.0,565.0 912.0,615.0 C930.0,665.0 957.8,708.3 990.0,750.0 C1022.2,791.7 1061.7,837.5 1105.0,865.0 C1148.3,892.5 1212.2,910.0 1250.0,915.0 C1287.8,920.0 1309.0,911.7 1332.0,895.0 C1355.0,878.3 1377.0,850.8 1388.0,815.0 C1399.0,779.2 1403.0,728.3 1398.0,680.0 C1393.0,631.7 1379.3,573.3 1358.0,525.0 C1336.7,476.7 1303.8,428.8 1270.0,390.0 C1236.2,351.2 1191.7,315.0 1155.0,292.0 C1118.3,269.0 1078.3,259.0 1050.0,252.0 C1021.7,245.0 1008.0,240.3 985.0,250.0 Z"/>
<path d="M990.0,275.0 C969.2,284.2 940.0,300.0 925.0,330.0 C910.0,360.0 900.0,408.3 900.0,455.0 C900.0,501.7 908.3,562.5 925.0,610.0 C941.7,657.5 969.2,700.0 1000.0,740.0 C1030.8,780.0 1068.3,823.3 1110.0,850.0 C1151.7,876.7 1214.2,895.0 1250.0,900.0 C1285.8,905.0 1304.2,895.8 1325.0,880.0 C1345.8,864.2 1365.0,838.3 1375.0,805.0 C1385.0,771.7 1390.0,725.8 1385.0,680.0 C1380.0,634.2 1365.8,575.8 1345.0,530.0 C1324.2,484.2 1292.5,441.7 1260.0,405.0 C1227.5,368.3 1185.0,331.7 1150.0,310.0 C1115.0,288.3 1076.7,280.8 1050.0,275.0 C1023.3,269.2 1010.8,265.8 990.0,275.0 Z"/>
<path d="M1155.0,320.0 C1160.8,341.7 1172.5,408.3 1190.0,450.0 C1207.5,491.7 1230.8,530.0 1260.0,570.0 C1289.2,610.0 1347.5,670.0 1365.0,690.0"/>
<path class="f" d="M1440.0,800.0 L1455.0,745.0 L1490.0,760.0 L1510.0,790.0 L1490.0,815.0 L1455.0,810.0 Z"/>
<path d="M1455.0,745.0 L1475.0,780.0 L1470.0,815.0"/>
</g>
<g class="g" transform="translate(1020,3130) scale(0.24646)" stroke-width="15.42">
<path d="M470.0,740.0 C451.7,716.7 390.0,646.7 360.0,600.0 C330.0,553.3 304.2,506.7 290.0,460.0 C275.8,413.3 271.7,360.0 275.0,320.0 C278.3,280.0 289.2,242.5 310.0,220.0 C330.8,197.5 368.3,188.3 400.0,185.0 C431.7,181.7 463.3,185.8 500.0,200.0 C536.7,214.2 580.0,236.7 620.0,270.0 C660.0,303.3 708.3,358.3 740.0,400.0 C771.7,441.7 791.7,478.3 810.0,520.0 C828.3,561.7 843.3,603.3 850.0,650.0 C856.7,696.7 855.0,758.3 850.0,800.0 C845.0,841.7 835.0,873.3 820.0,900.0 C805.0,926.7 780.0,945.8 760.0,960.0 C740.0,974.2 720.0,980.8 700.0,985.0 C680.0,989.2 650.0,985.0 640.0,985.0"/>
<path d="M740.0,400.0 C760.0,392.5 818.3,357.5 860.0,355.0 C901.7,352.5 968.3,380.0 990.0,385.0"/>
<path d="M390.0,825.0 C380.0,812.5 353.3,780.8 330.0,750.0 C306.7,719.2 280.0,665.0 250.0,640.0 C220.0,615.0 176.7,598.3 150.0,600.0 C123.3,601.7 102.5,625.0 90.0,650.0 C77.5,675.0 73.3,716.7 75.0,750.0 C76.7,783.3 87.5,816.7 100.0,850.0 C112.5,883.3 135.8,925.0 150.0,950.0 C164.2,975.0 179.2,991.7 185.0,1000.0"/>
<path d="M390.0,825.0 C395.0,822.5 406.7,820.8 420.0,810.0 C433.3,799.2 453.3,776.7 470.0,760.0 C486.7,743.3 507.5,726.7 520.0,710.0 C532.5,693.3 541.7,678.3 545.0,660.0 C548.3,641.7 540.8,610.0 540.0,600.0"/>
<path d="M540.0,720.0 C542.5,738.3 543.7,786.7 555.0,830.0 C566.3,873.3 599.2,955.0 608.0,980.0"/>
<path d="M960.0,105.0 C966.7,137.5 995.0,234.2 1000.0,300.0 C1005.0,365.8 1000.0,433.3 990.0,500.0 C980.0,566.7 960.0,636.7 940.0,700.0 C920.0,763.3 896.7,828.3 870.0,880.0 C843.3,931.7 811.7,973.3 780.0,1010.0 C748.3,1046.7 716.7,1075.0 680.0,1100.0 C643.3,1125.0 590.0,1149.2 560.0,1160.0 C530.0,1170.8 510.0,1164.2 500.0,1165.0"/>
<path d="M960.0,105.0 C976.7,137.5 1030.0,234.2 1060.0,300.0 C1090.0,365.8 1116.7,433.3 1140.0,500.0 C1163.3,566.7 1185.0,633.3 1200.0,700.0 C1215.0,766.7 1224.2,833.3 1230.0,900.0 C1235.8,966.7 1240.0,1033.3 1235.0,1100.0 C1230.0,1166.7 1217.5,1241.7 1200.0,1300.0 C1182.5,1358.3 1156.7,1408.3 1130.0,1450.0 C1103.3,1491.7 1075.0,1526.7 1040.0,1550.0 C1005.0,1573.3 960.0,1588.3 920.0,1590.0 C880.0,1591.7 840.0,1578.3 800.0,1560.0 C760.0,1541.7 720.0,1510.0 680.0,1480.0 C640.0,1450.0 590.0,1411.7 560.0,1380.0 C530.0,1348.3 513.3,1320.0 500.0,1290.0 C486.7,1260.0 481.7,1220.0 480.0,1200.0 C478.3,1180.0 488.3,1175.0 490.0,1170.0"/>
<path d="M1180.0,600.0 C1191.7,625.0 1235.3,700.0 1250.0,750.0 C1264.7,800.0 1268.0,861.7 1268.0,900.0 C1268.0,938.3 1253.0,966.7 1250.0,980.0"/>
<path d="M1240.0,1070.0 L1420.0,1295.0"/>
<path d="M1420.0,1295.0 C1398.3,1310.8 1343.3,1359.2 1290.0,1390.0 C1236.7,1420.8 1131.7,1465.0 1100.0,1480.0"/>
<path d="M380.0,1230.0 L515.0,1340.0"/>
<path d="M180.0,1005.0 L335.0,915.0"/>
<path d="M300.0,1245.0 L500.0,1150.0"/>
<path d="M330.0,910.0 L440.0,890.0 L430.0,960.0 L470.0,1000.0 L540.0,1010.0 L480.0,1060.0 L480.0,1100.0 L540.0,1130.0 L500.0,1150.0 L350.0,1210.0 L335.0,1180.0 L360.0,1130.0"/>
<path d="M330.0,935.0 C321.7,945.8 289.2,979.2 280.0,1000.0 C270.8,1020.8 270.0,1043.3 275.0,1060.0 C280.0,1076.7 294.2,1093.3 310.0,1100.0 C325.8,1106.7 360.0,1100.0 370.0,1100.0"/>
<ellipse class="f" cx="215" cy="1140" rx="75" ry="115" transform="rotate(-20 215 1140)"/>
</g>
<g class="g" transform="translate(2350,2750) scale(0.49969)" stroke-width="7.60">
<path d="M780.0,105.0 L1045.0,340.0"/>
<path d="M1115.0,400.0 L1160.0,440.0"/>
<path d="M650.0,330.0 C686.7,293.3 815.8,230.8 855.0,215.0 C894.2,199.2 887.2,208.8 885.0,235.0 C882.8,261.2 879.5,335.8 842.0,372.0 C804.5,408.2 694.5,441.5 660.0,452.0 C625.5,462.5 636.7,455.3 635.0,435.0 C633.3,414.7 613.3,366.7 650.0,330.0 Z"/>
<path d="M672.0,340.0 L845.0,245.0 L860.0,258.0 L828.0,358.0 L675.0,428.0 L665.0,418.0 L672.0,340.0"/>
<path d="M760.0,290.0 L770.0,310.0 L755.0,325.0"/>
<path d="M750.0,380.0 L765.0,365.0 L780.0,380.0"/>
<path d="M770.0,420.0 L960.0,322.0 L1000.0,340.0"/>
<path d="M770.0,420.0 L765.0,510.0 L830.0,565.0"/>
<path d="M790.0,440.0 L790.0,510.0 L830.0,540.0"/>
<path d="M800.0,465.0 L820.0,460.0 L840.0,520.0"/>
<path class="f" d="M860.0,470.0 L1110.0,352.0 L1135.0,375.0 L1100.0,500.0 L850.0,688.0 L820.0,650.0 Z"/>
<path d="M875.0,495.0 L1095.0,390.0 L1080.0,490.0 L865.0,630.0 L875.0,495.0"/>
<path d="M905.0,560.0 L1000.0,470.0 L1060.0,455.0 L980.0,530.0 L935.0,545.0"/>
<path d="M920.0,530.0 L1000.0,500.0"/>
<ellipse cx="885" cy="512" rx="18" ry="22"/>
<ellipse cx="1075" cy="520" rx="15" ry="18"/>
<ellipse cx="850" cy="650" rx="14" ry="17"/>
<ellipse cx="1110" cy="368" rx="15" ry="18"/>
<path d="M1175.0,455.0 L1240.0,500.0"/>
<path d="M1168.0,470.0 L1232.0,525.0"/>
<path d="M1175.0,455.0 C1173.3,456.7 1165.8,461.2 1165.0,465.0 C1164.2,468.8 1169.2,475.8 1170.0,478.0"/>
<path d="M1190.0,462.0 L1182.0,480.0"/>
<path d="M1205.0,472.0 L1197.0,490.0"/>
<path d="M1220.0,482.0 L1212.0,500.0"/>
<ellipse class="f" cx="1255" cy="545" rx="28" ry="45" transform="rotate(-25 1255 545)"/>
<ellipse class="f" cx="1290" cy="548" rx="35" ry="48" transform="rotate(-25 1290 548)"/>
</g>
<g class="g" transform="translate(1150,3250) scale(0.49969)" stroke-width="7.60">
<path d="M0.0,755.0 L148.0,675.0 L148.0,820.0"/>
<path d="M148.0,842.0 L148.0,860.0"/>
<path d="M148.0,880.0 L148.0,1225.0 L300.0,1145.0"/>
<path d="M270.0,1100.0 C266.3,1105.0 250.5,1118.3 248.0,1130.0 C245.5,1141.7 248.0,1159.7 255.0,1170.0 C262.0,1180.3 277.5,1188.7 290.0,1192.0 C302.5,1195.3 318.3,1195.3 330.0,1190.0 C341.7,1184.7 355.8,1171.7 360.0,1160.0 C364.2,1148.3 361.7,1130.8 355.0,1120.0 C348.3,1109.2 325.8,1099.2 320.0,1095.0"/>
<path d="M290.0,1100.0 C288.0,1105.0 277.2,1120.0 278.0,1130.0 C278.8,1140.0 287.2,1153.3 295.0,1160.0 C302.8,1166.7 320.0,1168.3 325.0,1170.0"/>
<path class="f" d="M250.0,1065.0 L280.0,1055.0 L330.0,1068.0 L340.0,1090.0 L300.0,1100.0 L262.0,1080.0 Z"/>
<path d="M295.0,1075.0 L300.0,1100.0"/>
<ellipse class="f" cx="410" cy="1072" rx="25" ry="38" transform="rotate(-25 410 1072)"/>
<ellipse cx="410" cy="1072" rx="12" ry="18" transform="rotate(-25 410 1072)"/>
<path d="M400.0,1035.0 L540.0,958.0"/>
<path d="M425.0,1110.0 L580.0,1022.0"/>
<path d="M540.0,945.0 C538.3,948.3 528.7,954.2 530.0,965.0 C531.3,975.8 539.7,999.2 548.0,1010.0 C556.3,1020.8 574.7,1026.7 580.0,1030.0"/>
<path d="M535.0,940.0 C542.5,935.8 567.5,916.7 580.0,915.0 C592.5,913.3 605.0,927.5 610.0,930.0"/>
<path d="M578.0,930.0 C580.8,933.3 591.3,938.3 595.0,950.0 C598.7,961.7 600.8,986.7 600.0,1000.0 C599.2,1013.3 591.7,1025.0 590.0,1030.0"/>
<path d="M605.0,920.0 C608.3,923.3 621.2,929.2 625.0,940.0 C628.8,950.8 628.8,973.3 628.0,985.0 C627.2,996.7 621.3,1005.8 620.0,1010.0"/>
<path d="M630.0,905.0 C633.3,908.3 645.8,914.2 650.0,925.0 C654.2,935.8 655.3,958.3 655.0,970.0 C654.7,981.7 649.2,990.8 648.0,995.0"/>
<path d="M655.0,890.0 C658.3,893.3 670.8,899.2 675.0,910.0 C679.2,920.8 680.5,943.3 680.0,955.0 C679.5,966.7 673.3,975.8 672.0,980.0"/>
<path d="M680.0,876.0 C683.3,879.2 695.8,884.3 700.0,895.0 C704.2,905.7 705.3,928.3 705.0,940.0 C704.7,951.7 699.2,960.8 698.0,965.0"/>
<path d="M700.0,862.0 C703.3,865.0 715.3,869.5 720.0,880.0 C724.7,890.5 727.7,913.3 728.0,925.0 C728.3,936.7 723.0,945.8 722.0,950.0"/>
<path d="M585.0,920.0 L745.0,820.0"/>
<path d="M600.0,1030.0 L800.0,912.0"/>
</g>
<g class="g" transform="translate(2330,2250) scale(0.24646)" stroke-width="15.42">
<clipPath id="cp4"><path d="M0,760 L150,700 L250,600 L350,550 L480,512 L600,525 L720,545 L860,598 L950,678 L1050,758 L1200,850 L1623,900 L1623,2232 L0,2232 Z"/></clipPath><g clip-path="url(#cp4)">
<path d="M1340.7,1995.5 C1332.8,2000.5 1310.0,2016.6 1293.6,2025.3 C1277.2,2034.0 1259.9,2041.6 1242.1,2047.9 C1224.3,2054.2 1205.7,2059.3 1186.7,2063.1 C1167.7,2066.9 1148.0,2069.4 1128.0,2070.7 C1108.0,2072.0 1087.4,2072.0 1066.6,2070.7 C1045.8,2069.4 1024.5,2066.8 1003.1,2063.0 C981.7,2059.2 959.9,2054.0 938.0,2047.7 C916.1,2041.4 894.0,2033.8 872.0,2025.0 C850.0,2016.2 827.8,2006.2 805.8,1995.1 C783.8,1984.0 761.8,1971.6 740.0,1958.3 C718.2,1945.0 696.5,1930.5 675.2,1915.0 C653.9,1899.5 632.8,1882.9 612.1,1865.5 C591.5,1848.1 571.1,1829.6 551.3,1810.4 C531.5,1791.2 512.1,1770.9 493.4,1750.1 C474.7,1729.3 456.4,1707.6 438.9,1685.4 C421.4,1663.2 404.6,1640.2 388.5,1616.8 C372.4,1593.4 357.0,1569.3 342.5,1544.9 C328.0,1520.5 314.2,1495.7 301.4,1470.6 C288.6,1445.5 276.6,1420.0 265.7,1394.4 C254.8,1368.8 244.7,1343.0 235.7,1317.2 C226.7,1291.4 218.6,1265.5 211.6,1239.8 C204.6,1214.1 198.7,1188.3 193.8,1162.8 C188.9,1137.3 185.1,1111.9 182.3,1087.0 C179.6,1062.1 177.9,1037.4 177.3,1013.2 C176.7,989.1 177.3,965.2 178.9,942.1 C180.5,919.0 183.2,896.2 187.0,874.3 C190.8,852.4 195.7,831.0 201.6,810.6 C207.5,790.2 214.4,770.4 222.4,751.6 C230.4,732.8 239.4,714.8 249.4,697.8 C259.4,680.8 270.3,664.8 282.2,649.8 C294.1,634.8 306.9,620.8 320.5,608.0 C334.1,595.2 348.7,583.4 364.0,572.9 C379.3,562.4 395.4,552.9 412.2,544.7 C429.0,536.5 446.5,529.5 464.6,523.8 C482.7,518.1 501.5,513.6 520.8,510.4 C540.1,507.2 570.3,505.6 580.2,504.6"/>
<path d="M1343.1,1977.1 C1335.3,1981.9 1312.6,1997.5 1296.3,2005.9 C1280.0,2014.3 1262.8,2021.5 1245.2,2027.5 C1227.6,2033.5 1209.3,2038.2 1190.5,2041.7 C1171.7,2045.2 1152.3,2047.4 1132.5,2048.3 C1112.7,2049.2 1092.5,2049.0 1071.9,2047.4 C1051.4,2045.8 1030.3,2042.9 1009.2,2038.8 C988.1,2034.7 966.7,2029.4 945.2,2022.8 C923.7,2016.2 901.9,2008.3 880.2,1999.3 C858.5,1990.3 836.8,1980.1 815.2,1968.8 C793.6,1957.5 772.0,1945.0 750.6,1931.4 C729.2,1917.9 707.9,1903.1 687.0,1887.5 C666.1,1871.9 645.4,1855.1 625.2,1837.6 C605.0,1820.0 585.1,1801.5 565.7,1782.2 C546.4,1762.9 527.4,1742.6 509.1,1721.7 C490.8,1700.8 473.1,1679.2 456.0,1656.9 C438.9,1634.7 422.4,1611.6 406.8,1588.2 C391.2,1564.8 376.2,1540.8 362.1,1516.5 C348.0,1492.2 334.7,1467.3 322.3,1442.3 C309.9,1417.3 298.4,1391.9 287.8,1366.4 C277.2,1341.0 267.5,1315.2 258.8,1289.6 C250.1,1264.0 242.5,1238.2 235.8,1212.6 C229.2,1187.0 223.5,1161.5 218.9,1136.2 C214.3,1110.9 210.8,1085.7 208.3,1061.0 C205.8,1036.3 204.4,1011.9 204.1,988.0 C203.8,964.1 204.5,940.5 206.3,917.6 C208.1,894.7 211.0,872.3 214.9,850.7 C218.8,829.1 223.8,808.0 229.8,787.9 C235.8,767.8 242.9,748.3 251.0,729.8 C259.1,711.3 268.1,693.6 278.1,677.0 C288.1,660.4 299.1,644.6 310.9,630.0 C322.7,615.4 335.5,601.7 349.1,589.2 C362.7,576.7 377.2,565.3 392.4,555.1 C407.6,544.9 423.6,535.8 440.2,528.0 C456.8,520.2 474.2,513.5 492.1,508.1 C510.0,502.7 528.7,498.6 547.7,495.7 C566.7,492.8 596.5,491.6 606.3,490.8"/>
<path d="M1295.7,1938.3 C1287.5,1941.0 1263.5,1950.2 1246.7,1954.4 C1229.9,1958.6 1212.5,1961.7 1194.7,1963.5 C1176.9,1965.3 1158.6,1966.0 1140.0,1965.4 C1121.4,1964.9 1102.4,1963.1 1083.2,1960.2 C1064.0,1957.3 1044.5,1953.1 1024.9,1947.8 C1005.3,1942.5 985.4,1936.0 965.6,1928.4 C945.8,1920.8 925.8,1912.1 905.9,1902.3 C886.0,1892.5 866.1,1881.5 846.3,1869.6 C826.5,1857.6 806.8,1844.6 787.3,1830.6 C767.8,1816.6 748.5,1801.6 729.6,1785.7 C710.7,1769.8 692.0,1753.0 673.7,1735.4 C655.4,1717.8 637.4,1699.2 620.0,1680.0 C602.6,1660.8 585.6,1640.8 569.2,1620.2 C552.8,1599.6 536.8,1578.3 521.6,1556.5 C506.4,1534.7 491.7,1512.2 477.8,1489.4 C463.9,1466.6 450.6,1443.3 438.1,1419.7 C425.6,1396.1 413.8,1372.1 402.9,1347.9 C392.0,1323.8 381.9,1299.3 372.6,1274.8 C363.4,1250.3 354.9,1225.6 347.4,1201.0 C339.9,1176.4 333.3,1151.8 327.6,1127.3 C321.9,1102.8 317.1,1078.3 313.3,1054.2 C309.5,1030.1 306.6,1006.1 304.7,982.6 C302.8,959.1 301.9,935.8 301.9,913.0 C301.9,890.2 302.9,867.8 304.8,846.1 C306.7,824.4 309.6,803.2 313.5,782.7 C317.4,762.2 322.2,742.2 327.9,723.1 C333.6,704.0 340.3,685.6 347.9,668.1 C355.4,650.6 363.9,633.9 373.2,618.1 C382.5,602.4 392.8,587.5 403.7,573.6 C414.6,559.8 426.4,546.8 438.9,535.0 C451.4,523.2 464.8,512.5 478.7,502.8 C492.6,493.1 507.3,484.4 522.6,477.0 C537.9,469.6 553.9,463.3 570.3,458.2 C586.7,453.1 603.8,449.1 621.2,446.3 C638.6,443.5 656.6,441.9 674.9,441.5 C693.2,441.1 721.5,443.5 730.8,443.9"/>
<path d="M1297.9,1925.2 C1289.8,1927.8 1265.9,1936.7 1249.2,1940.7 C1232.5,1944.7 1215.2,1947.5 1197.6,1949.1 C1180.0,1950.7 1161.8,1951.2 1143.4,1950.5 C1125.0,1949.8 1106.2,1947.8 1087.2,1944.7 C1068.2,1941.6 1048.9,1937.3 1029.5,1931.9 C1010.1,1926.5 990.4,1919.8 970.8,1912.1 C951.2,1904.4 931.4,1895.5 911.8,1885.6 C892.1,1875.7 872.4,1864.6 852.9,1852.5 C833.4,1840.4 813.9,1827.3 794.7,1813.2 C775.5,1799.1 756.5,1784.0 737.8,1768.1 C719.1,1752.2 700.7,1735.3 682.7,1717.6 C664.7,1699.9 647.0,1681.3 629.9,1662.1 C612.8,1642.9 596.0,1622.8 579.9,1602.2 C563.8,1581.6 548.1,1560.3 533.1,1538.5 C518.1,1516.7 503.8,1494.3 490.1,1471.5 C476.5,1448.7 463.4,1425.3 451.2,1401.8 C439.0,1378.2 427.4,1354.3 416.7,1330.2 C406.0,1306.1 396.1,1281.7 387.1,1257.3 C378.1,1232.9 369.9,1208.3 362.6,1183.8 C355.3,1159.3 348.9,1134.8 343.4,1110.4 C337.9,1086.1 333.2,1061.7 329.6,1037.7 C326.0,1013.7 323.2,989.9 321.5,966.5 C319.8,943.1 318.9,919.9 319.1,897.3 C319.3,874.7 320.4,852.5 322.5,831.0 C324.6,809.5 327.6,788.3 331.5,768.0 C335.4,747.7 340.3,728.0 346.1,709.1 C351.9,690.2 358.6,671.9 366.2,654.6 C373.8,637.3 382.3,620.8 391.6,605.2 C400.9,589.7 411.1,574.9 422.0,561.3 C432.9,547.7 444.7,535.0 457.2,523.4 C469.7,511.8 482.9,501.2 496.8,491.7 C510.7,482.2 525.2,473.8 540.4,466.6 C555.5,459.4 571.4,453.2 587.7,448.3 C604.0,443.4 620.9,439.6 638.2,437.0 C655.5,434.4 673.4,433.0 691.5,432.8 C709.6,432.6 737.7,435.2 746.9,435.7"/>
<path d="M1300.0,1911.9 C1292.0,1914.4 1268.3,1923.0 1251.7,1926.8 C1235.1,1930.6 1218.0,1933.2 1200.5,1934.7 C1183.0,1936.2 1165.0,1936.5 1146.8,1935.6 C1128.6,1934.7 1110.0,1932.6 1091.2,1929.3 C1072.4,1926.0 1053.3,1921.6 1034.1,1916.0 C1014.9,1910.4 995.5,1903.7 976.1,1895.8 C956.7,1887.9 937.2,1878.9 917.8,1868.8 C898.4,1858.7 879.0,1847.6 859.7,1835.4 C840.5,1823.2 821.2,1810.0 802.3,1795.8 C783.4,1781.6 764.5,1766.5 746.1,1750.5 C727.7,1734.5 709.5,1717.5 691.8,1699.8 C674.1,1682.1 656.7,1663.5 639.8,1644.2 C622.9,1624.9 606.5,1604.8 590.6,1584.2 C574.8,1563.6 559.4,1542.3 544.7,1520.5 C530.0,1498.7 515.8,1476.2 502.4,1453.5 C489.0,1430.8 476.3,1407.5 464.3,1384.0 C452.3,1360.5 441.0,1336.6 430.6,1312.6 C420.2,1288.6 410.5,1264.2 401.7,1239.9 C392.9,1215.6 384.9,1191.1 377.8,1166.7 C370.7,1142.3 364.5,1117.8 359.2,1093.5 C353.9,1069.2 349.5,1045.0 346.0,1021.2 C342.5,997.4 340.0,973.6 338.4,950.4 C336.8,927.2 336.1,904.2 336.4,881.8 C336.7,859.4 337.9,837.3 340.1,815.9 C342.3,794.5 345.4,773.6 349.4,753.5 C353.4,733.4 358.4,713.8 364.3,695.1 C370.2,676.4 376.9,658.3 384.5,641.2 C392.1,624.1 400.6,607.7 409.9,592.4 C419.2,577.1 429.4,562.6 440.3,549.2 C451.2,535.8 463.0,523.2 475.4,511.8 C487.8,500.4 501.0,490.0 514.8,480.7 C528.6,471.4 543.1,463.2 558.2,456.2 C573.3,449.2 589.0,443.2 605.2,438.5 C621.4,433.8 638.2,430.2 655.3,427.8 C672.4,425.4 690.0,424.2 708.0,424.1 C726.0,424.1 753.8,426.9 763.0,427.5"/>
<path d="M1272.1,1844.6 C1264.1,1845.5 1240.5,1849.4 1224.2,1850.1 C1207.9,1850.8 1191.1,1850.4 1174.2,1848.8 C1157.3,1847.2 1140.0,1844.5 1122.6,1840.7 C1105.2,1836.9 1087.5,1831.9 1069.8,1825.9 C1052.1,1819.9 1034.2,1812.8 1016.3,1804.6 C998.4,1796.4 980.5,1787.1 962.6,1776.8 C944.8,1766.5 926.9,1755.2 909.2,1743.0 C891.5,1730.8 873.9,1717.4 856.6,1703.3 C839.3,1689.2 822.1,1674.1 805.3,1658.2 C788.5,1642.3 771.9,1625.6 755.8,1608.1 C739.6,1590.6 723.8,1572.3 708.4,1553.4 C693.0,1534.5 678.1,1514.9 663.7,1494.7 C649.3,1474.5 635.4,1453.7 622.1,1432.4 C608.8,1411.2 595.9,1389.3 583.8,1367.2 C571.7,1345.1 560.2,1322.5 549.4,1299.7 C538.6,1276.9 528.5,1253.7 519.1,1230.4 C509.7,1207.1 501.1,1183.6 493.2,1160.1 C485.3,1136.6 478.2,1112.9 471.9,1089.3 C465.6,1065.7 460.1,1042.1 455.4,1018.7 C450.7,995.3 446.9,972.0 443.9,949.0 C440.9,926.0 438.7,903.1 437.4,880.7 C436.1,858.3 435.8,836.3 436.2,814.7 C436.6,793.1 437.9,771.9 440.0,751.3 C442.1,730.7 445.2,710.6 449.0,691.3 C452.8,671.9 457.5,653.2 463.0,635.2 C468.5,617.2 474.8,599.8 481.9,583.4 C489.0,567.0 496.9,551.3 505.5,536.6 C514.1,521.9 523.6,507.9 533.7,495.0 C543.8,482.1 554.7,470.1 566.1,459.1 C577.5,448.2 589.7,438.2 602.4,429.3 C615.1,420.4 628.5,412.5 642.4,405.7 C656.3,398.9 670.7,393.2 685.6,388.6 C700.5,384.0 715.9,380.5 731.7,378.2 C747.5,375.9 763.7,374.7 780.2,374.6 C796.7,374.5 813.6,375.6 830.7,377.8 C847.8,380.0 874.0,386.1 882.7,387.7"/>
<path d="M1275.0,1830.3 C1267.1,1831.1 1243.7,1834.8 1227.5,1835.3 C1211.3,1835.8 1194.8,1835.2 1178.0,1833.5 C1161.2,1831.8 1144.2,1829.0 1127.0,1825.0 C1109.8,1821.0 1092.3,1816.0 1074.8,1809.8 C1057.3,1803.6 1039.6,1796.4 1022.0,1788.1 C1004.4,1779.8 986.6,1770.4 969.0,1760.0 C951.4,1749.6 933.8,1738.2 916.4,1725.9 C899.0,1713.6 881.6,1700.2 864.5,1686.0 C847.4,1671.8 830.5,1656.7 814.0,1640.8 C797.5,1624.9 781.1,1608.0 765.2,1590.5 C749.3,1573.0 733.8,1554.7 718.7,1535.8 C703.6,1516.9 688.9,1497.2 674.8,1477.0 C660.7,1456.8 646.9,1436.0 633.9,1414.8 C620.9,1393.6 608.4,1371.8 596.5,1349.7 C584.6,1327.6 573.3,1305.0 562.8,1282.3 C552.2,1259.5 542.4,1236.4 533.2,1213.2 C524.1,1190.0 515.6,1166.5 507.9,1143.1 C500.2,1119.7 493.3,1096.0 487.2,1072.6 C481.1,1049.1 475.8,1025.7 471.3,1002.4 C466.8,979.1 463.1,955.9 460.3,933.0 C457.5,910.1 455.5,887.4 454.4,865.2 C453.3,843.0 452.9,821.0 453.5,799.6 C454.1,778.2 455.5,757.2 457.7,736.8 C459.9,716.4 463.0,696.5 466.9,677.3 C470.8,658.1 475.6,639.5 481.1,621.7 C486.6,603.9 493.0,586.8 500.1,570.5 C507.2,554.2 515.2,538.8 523.8,524.2 C532.4,509.7 541.8,495.9 551.9,483.2 C562.0,470.5 572.7,458.7 584.1,447.9 C595.5,437.1 607.6,427.3 620.3,418.6 C632.9,409.9 646.2,402.2 660.0,395.6 C673.8,389.0 688.1,383.5 702.9,379.1 C717.7,374.7 733.0,371.4 748.6,369.2 C764.2,367.0 780.3,366.0 796.6,366.1 C812.9,366.2 829.6,367.4 846.5,369.7 C863.4,372.0 889.4,378.4 898.0,380.1"/>
<path d="M1263.1,1808.7 C1255.3,1809.0 1232.1,1810.9 1216.2,1810.4 C1200.3,1809.9 1184.0,1808.3 1167.5,1805.6 C1151.0,1802.9 1134.3,1799.1 1117.5,1794.2 C1100.7,1789.3 1083.7,1783.4 1066.7,1776.4 C1049.7,1769.4 1032.5,1761.3 1015.4,1752.3 C998.3,1743.2 981.2,1733.1 964.2,1722.1 C947.2,1711.1 930.2,1699.1 913.5,1686.2 C896.8,1673.3 880.1,1659.5 863.8,1644.8 C847.5,1630.1 831.3,1614.6 815.5,1598.3 C799.7,1582.0 784.2,1564.9 769.1,1547.2 C754.0,1529.5 739.3,1511.0 725.0,1491.9 C710.7,1472.8 696.8,1453.0 683.5,1432.8 C670.2,1412.6 657.3,1391.8 645.1,1370.6 C632.9,1349.4 621.2,1327.8 610.1,1305.8 C599.0,1283.8 588.6,1261.4 578.8,1238.9 C569.0,1216.4 559.9,1193.6 551.5,1170.7 C543.1,1147.8 535.4,1124.7 528.5,1101.6 C521.6,1078.5 515.3,1055.3 509.9,1032.3 C504.5,1009.3 499.8,986.3 495.9,963.5 C492.0,940.7 489.0,918.0 486.7,895.7 C484.4,873.4 482.9,851.2 482.3,829.6 C481.7,808.0 481.8,786.6 482.8,765.8 C483.8,745.0 485.5,724.6 488.1,704.9 C490.7,685.1 494.0,665.8 498.2,647.3 C502.4,628.8 507.4,610.8 513.1,593.6 C518.8,576.5 525.4,560.0 532.6,544.4 C539.8,528.8 547.9,513.9 556.5,500.0 C565.1,486.1 574.5,472.9 584.5,460.8 C594.5,448.7 605.3,437.4 616.6,427.2 C627.9,417.0 639.8,407.8 652.2,399.6 C664.7,391.4 677.8,384.2 691.3,378.1 C704.8,372.0 718.9,366.9 733.3,362.9 C747.7,358.9 762.7,356.0 777.9,354.2 C793.1,352.4 808.8,351.7 824.7,352.1 C840.6,352.5 856.9,353.9 873.3,356.5 C889.7,359.1 914.9,365.7 923.2,367.5"/>
<path d="M1253.7,1742.3 C1246.1,1741.7 1223.6,1740.8 1208.3,1738.4 C1193.0,1736.1 1177.5,1732.7 1161.8,1728.2 C1146.1,1723.8 1130.2,1718.2 1114.3,1711.7 C1098.4,1705.2 1082.5,1697.6 1066.5,1689.1 C1050.5,1680.6 1034.5,1671.0 1018.6,1660.6 C1002.7,1650.2 986.9,1638.8 971.2,1626.5 C955.6,1614.2 940.0,1601.0 924.7,1587.0 C909.4,1573.0 894.2,1558.1 879.4,1542.5 C864.6,1526.9 850.0,1510.5 835.8,1493.4 C821.6,1476.4 807.7,1458.6 794.2,1440.2 C780.8,1421.8 767.7,1402.8 755.1,1383.3 C742.5,1363.8 730.4,1343.7 718.8,1323.2 C707.2,1302.7 696.1,1281.8 685.6,1260.5 C675.1,1239.2 665.1,1217.5 655.8,1195.7 C646.5,1173.9 637.7,1151.7 629.6,1129.4 C621.5,1107.2 614.1,1084.7 607.4,1062.2 C600.7,1039.8 594.6,1017.2 589.3,994.7 C584.0,972.2 579.3,949.8 575.4,927.5 C571.5,905.2 568.4,883.1 566.0,861.2 C563.6,839.3 561.9,817.6 561.0,796.3 C560.1,775.0 559.9,754.1 560.5,733.6 C561.1,713.1 562.4,693.0 564.5,673.5 C566.6,654.0 569.5,634.9 573.1,616.5 C576.7,598.1 581.0,580.3 586.0,563.2 C591.0,546.1 596.8,529.7 603.3,514.1 C609.8,498.5 616.9,483.6 624.7,469.6 C632.5,455.6 640.9,442.3 650.0,430.0 C659.1,417.7 668.8,406.3 679.1,395.8 C689.4,385.3 700.2,375.7 711.6,367.2 C723.0,358.7 734.9,351.1 747.3,344.6 C759.7,338.1 772.5,332.5 785.8,328.0 C799.1,323.5 812.8,320.1 826.9,317.7 C841.0,315.3 855.4,314.0 870.1,313.7 C884.8,313.4 899.9,314.2 915.1,316.1 C930.3,318.0 945.8,320.9 961.4,324.9 C977.0,328.9 1000.8,337.5 1008.7,340.0"/>
<path d="M1256.6,1730.5 C1249.1,1729.8 1226.8,1728.8 1211.6,1726.3 C1196.4,1723.8 1181.0,1720.3 1165.5,1715.8 C1150.0,1711.2 1134.3,1705.6 1118.6,1699.0 C1102.9,1692.4 1087.1,1684.8 1071.3,1676.2 C1055.5,1667.6 1039.7,1658.0 1024.0,1647.5 C1008.3,1637.0 992.6,1625.5 977.1,1613.2 C961.6,1600.9 946.2,1587.6 931.1,1573.6 C916.0,1559.6 901.1,1544.6 886.5,1529.0 C871.9,1513.4 857.4,1497.0 843.4,1479.9 C829.4,1462.8 815.7,1445.0 802.5,1426.6 C789.3,1408.2 776.4,1389.2 764.0,1369.7 C751.6,1350.2 739.6,1330.1 728.2,1309.7 C716.8,1289.3 705.9,1268.3 695.6,1247.1 C685.3,1225.9 675.4,1204.3 666.3,1182.5 C657.1,1160.7 648.6,1138.5 640.7,1116.3 C632.8,1094.1 625.6,1071.7 619.0,1049.3 C612.4,1026.9 606.5,1004.5 601.3,982.1 C596.1,959.8 591.6,937.4 587.9,915.2 C584.1,893.1 581.1,871.0 578.8,849.2 C576.5,827.5 574.9,805.9 574.1,784.7 C573.3,763.6 573.2,742.7 573.9,722.3 C574.6,701.9 576.0,681.9 578.2,662.5 C580.4,643.1 583.3,624.2 586.9,606.0 C590.5,587.8 594.9,570.0 600.0,553.1 C605.1,536.2 610.8,519.9 617.3,504.4 C623.8,488.9 630.9,474.2 638.7,460.3 C646.5,446.4 655.0,433.3 664.0,421.1 C673.0,408.9 682.8,397.6 693.0,387.3 C703.2,377.0 714.0,367.6 725.3,359.2 C736.6,350.8 748.5,343.3 760.8,336.9 C773.1,330.5 785.9,325.0 799.1,320.7 C812.3,316.4 826.0,313.1 839.9,310.8 C853.8,308.6 868.1,307.4 882.7,307.2 C897.3,307.0 912.2,307.9 927.3,309.9 C942.4,311.9 957.7,314.9 973.1,319.0 C988.5,323.1 1012.1,331.8 1019.9,334.4"/>
<path d="M1259.5,1718.7 C1252.1,1718.0 1230.0,1716.8 1215.0,1714.2 C1200.0,1711.7 1184.6,1708.0 1169.3,1703.4 C1154.0,1698.8 1138.4,1693.1 1122.9,1686.4 C1107.4,1679.7 1091.7,1672.0 1076.1,1663.3 C1060.5,1654.6 1044.8,1645.0 1029.3,1634.4 C1013.8,1623.8 998.3,1612.3 983.0,1599.9 C967.7,1587.5 952.6,1574.3 937.7,1560.2 C922.8,1546.1 908.0,1531.1 893.6,1515.5 C879.2,1499.9 865.0,1483.5 851.2,1466.4 C837.4,1449.3 823.8,1431.5 810.8,1413.1 C797.8,1394.7 785.1,1375.7 772.9,1356.2 C760.7,1336.7 748.9,1316.7 737.7,1296.3 C726.5,1275.9 715.8,1255.0 705.7,1233.8 C695.6,1212.6 685.9,1191.0 676.9,1169.3 C667.9,1147.5 659.6,1125.4 651.9,1103.3 C644.2,1081.2 637.0,1058.9 630.6,1036.6 C624.2,1014.3 618.4,991.9 613.4,969.6 C608.4,947.3 604.0,925.0 600.4,902.9 C596.8,880.8 593.9,858.8 591.7,837.2 C589.5,815.6 588.0,794.1 587.3,773.1 C586.6,752.1 586.6,731.2 587.4,711.0 C588.2,690.8 589.7,671.0 591.9,651.7 C594.1,632.5 597.1,613.6 600.8,595.5 C604.5,577.4 608.9,559.8 614.0,543.0 C619.1,526.2 624.9,510.0 631.4,494.7 C637.9,479.4 645.0,464.7 652.8,451.0 C660.6,437.3 669.0,424.3 678.0,412.3 C687.0,400.3 696.7,389.1 706.9,378.9 C717.1,368.7 727.9,359.5 739.1,351.2 C750.3,342.9 762.1,335.6 774.3,329.3 C786.5,323.0 799.2,317.7 812.3,313.5 C825.4,309.3 839.0,306.1 852.8,304.0 C866.6,301.9 880.9,300.7 895.3,300.7 C909.7,300.7 924.5,301.7 939.4,303.8 C954.3,305.9 969.6,309.0 984.9,313.2 C1000.2,317.4 1023.5,326.2 1031.2,328.8"/>
<path d="M1262.5,1706.9 C1255.2,1706.1 1233.3,1704.8 1218.4,1702.1 C1203.5,1699.4 1188.4,1695.7 1173.2,1691.0 C1158.0,1686.3 1142.6,1680.5 1127.2,1673.7 C1111.8,1666.9 1096.3,1659.1 1080.9,1650.4 C1065.5,1641.7 1050.0,1631.9 1034.7,1621.3 C1019.4,1610.7 1004.1,1599.1 989.0,1586.7 C973.9,1574.3 958.9,1560.9 944.2,1546.8 C929.5,1532.7 914.9,1517.8 900.7,1502.1 C886.5,1486.4 872.5,1469.9 858.9,1452.8 C845.3,1435.7 832.1,1417.9 819.2,1399.6 C806.4,1381.3 793.8,1362.2 781.8,1342.8 C769.8,1323.3 758.3,1303.3 747.3,1282.9 C736.3,1262.5 725.7,1241.6 715.7,1220.5 C705.8,1199.4 696.4,1177.8 687.6,1156.1 C678.8,1134.4 670.6,1112.5 663.0,1090.4 C655.4,1068.4 648.5,1046.0 642.2,1023.8 C636.0,1001.6 630.4,979.3 625.5,957.1 C620.6,934.9 616.4,912.7 612.9,890.7 C609.4,868.7 606.6,846.8 604.5,825.3 C602.4,803.8 601.1,782.4 600.5,761.5 C599.9,740.6 600.0,719.9 600.9,699.8 C601.8,679.7 603.3,659.9 605.6,640.8 C607.9,621.7 611.0,603.1 614.7,585.1 C618.4,567.1 622.9,549.7 628.0,533.0 C633.1,516.3 638.9,500.3 645.4,485.1 C651.9,469.9 659.0,455.4 666.8,441.8 C674.6,428.2 683.0,415.4 692.0,403.5 C701.0,391.6 710.6,380.7 720.7,370.6 C730.8,360.6 741.6,351.3 752.8,343.2 C764.0,335.1 775.7,327.9 787.8,321.8 C799.9,315.7 812.6,310.5 825.6,306.4 C838.6,302.3 852.0,299.2 865.7,297.2 C879.4,295.2 893.5,294.2 907.8,294.3 C922.1,294.4 936.7,295.5 951.5,297.7 C966.3,299.9 981.4,303.1 996.5,307.3 C1011.6,311.6 1034.7,320.6 1042.3,323.2"/>
<path d="M1265.9,1693.4 C1258.6,1692.5 1237.0,1691.0 1222.3,1688.2 C1207.6,1685.4 1192.6,1681.5 1177.6,1676.7 C1162.6,1671.9 1147.4,1666.1 1132.2,1659.2 C1117.0,1652.3 1101.7,1644.4 1086.5,1635.6 C1071.3,1626.8 1056.1,1617.0 1041.0,1606.3 C1025.9,1595.6 1010.8,1584.0 995.9,1571.5 C981.0,1559.0 966.3,1545.6 951.8,1531.5 C937.3,1517.4 922.9,1502.4 908.9,1486.7 C894.9,1471.0 881.1,1454.5 867.8,1437.4 C854.4,1420.3 841.4,1402.5 828.8,1384.2 C816.2,1365.9 803.9,1346.8 792.1,1327.4 C780.3,1308.0 769.0,1287.9 758.2,1267.6 C747.4,1247.2 737.0,1226.4 727.3,1205.3 C717.6,1184.2 708.4,1162.8 699.8,1141.2 C691.2,1119.6 683.2,1097.6 675.8,1075.6 C668.4,1053.6 661.7,1031.4 655.6,1009.3 C649.5,987.2 644.0,965.0 639.3,942.9 C634.6,920.8 630.5,898.6 627.2,876.8 C623.9,854.9 621.2,833.2 619.3,811.8 C617.4,790.4 616.1,769.2 615.6,748.4 C615.1,727.6 615.3,707.1 616.3,687.1 C617.2,667.1 618.9,647.6 621.3,628.6 C623.7,609.6 626.7,591.0 630.5,573.2 C634.3,555.4 638.8,538.1 643.9,521.6 C649.0,505.1 654.9,489.2 661.4,474.2 C667.9,459.2 675.0,444.8 682.8,431.4 C690.5,418.0 698.9,405.3 707.9,393.6 C716.9,381.9 726.4,371.0 736.5,361.1 C746.6,351.2 757.3,342.2 768.4,334.2 C779.5,326.2 791.2,319.2 803.2,313.2 C815.2,307.2 827.7,302.2 840.6,298.2 C853.5,294.2 866.8,291.3 880.4,289.4 C894.0,287.5 907.9,286.7 922.0,286.9 C936.1,287.1 950.7,288.4 965.3,290.7 C979.9,293.0 994.8,296.3 1009.8,300.7 C1024.8,305.1 1047.5,314.1 1055.0,316.8"/>
<path d="M1245.9,1676.6 C1238.7,1675.1 1217.4,1671.7 1202.9,1667.8 C1188.4,1663.9 1173.7,1658.9 1159.0,1653.0 C1144.3,1647.1 1129.6,1640.2 1114.8,1632.4 C1100.0,1624.6 1085.1,1615.8 1070.4,1606.1 C1055.7,1596.4 1041.0,1585.8 1026.4,1574.4 C1011.9,1563.0 997.4,1550.6 983.1,1537.5 C968.9,1524.4 954.7,1510.5 940.9,1495.8 C927.1,1481.1 913.4,1465.7 900.1,1449.6 C886.8,1433.5 873.8,1416.8 861.2,1399.4 C848.6,1382.1 836.2,1364.0 824.3,1345.5 C812.4,1327.0 801.0,1308.0 790.0,1288.5 C779.0,1269.0 768.4,1249.0 758.4,1228.7 C748.4,1208.4 738.8,1187.8 729.8,1166.9 C720.8,1146.0 712.4,1124.7 704.5,1103.3 C696.6,1081.9 689.3,1060.4 682.6,1038.8 C675.9,1017.2 669.9,995.4 664.5,973.7 C659.1,952.0 654.3,930.2 650.2,908.6 C646.1,887.0 642.6,865.5 639.9,844.2 C637.1,822.9 635.1,801.7 633.7,780.9 C632.3,760.1 631.5,739.4 631.5,719.3 C631.5,699.1 632.1,679.3 633.5,660.0 C634.9,640.7 636.9,621.8 639.6,603.5 C642.3,585.2 645.7,567.4 649.7,550.2 C653.7,533.1 658.4,516.4 663.8,500.6 C669.1,484.8 675.2,469.6 681.8,455.2 C688.4,440.8 695.6,427.1 703.4,414.3 C711.2,401.5 719.7,389.4 728.6,378.3 C737.5,367.2 747.0,356.9 757.0,347.5 C767.0,338.1 777.5,329.7 788.5,322.2 C799.5,314.7 811.0,308.1 822.8,302.5 C834.6,296.9 846.9,292.4 859.5,288.8 C872.1,285.2 885.1,282.6 898.4,281.0 C911.7,279.4 925.3,278.8 939.1,279.2 C952.9,279.6 967.0,281.1 981.2,283.5 C995.4,285.9 1010.0,289.5 1024.5,293.9 C1039.0,298.3 1061.2,307.4 1068.5,310.1"/>
<path d="M1246.5,1617.2 C1239.7,1615.2 1219.4,1610.0 1205.7,1605.0 C1192.0,1600.0 1178.1,1594.0 1164.3,1587.2 C1150.5,1580.4 1136.6,1572.6 1122.8,1563.9 C1109.0,1555.2 1095.2,1545.7 1081.5,1535.3 C1067.8,1524.9 1054.2,1513.6 1040.7,1501.6 C1027.2,1489.6 1013.8,1476.7 1000.7,1463.1 C987.6,1449.5 974.6,1435.2 962.0,1420.2 C949.4,1405.2 937.0,1389.4 924.9,1373.1 C912.8,1356.8 900.9,1339.9 889.5,1322.4 C878.1,1305.0 867.0,1286.9 856.4,1268.4 C845.8,1249.9 835.5,1230.9 825.7,1211.6 C815.9,1192.3 806.6,1172.4 797.7,1152.4 C788.9,1132.4 780.5,1111.9 772.6,1091.4 C764.8,1070.9 757.4,1050.1 750.6,1029.2 C743.8,1008.3 737.6,987.2 732.0,966.1 C726.4,945.0 721.3,923.8 716.9,902.8 C712.5,881.8 708.7,860.7 705.5,839.8 C702.3,818.9 699.7,798.1 697.7,777.6 C695.7,757.1 694.4,736.7 693.7,716.7 C693.0,696.7 692.9,677.0 693.5,657.7 C694.1,638.4 695.3,619.5 697.2,601.1 C699.1,582.7 701.6,564.8 704.7,547.4 C707.8,530.0 711.5,513.1 715.8,496.9 C720.1,480.7 725.1,465.1 730.6,450.2 C736.1,435.3 742.2,421.1 748.9,407.6 C755.6,394.2 762.9,381.4 770.6,369.5 C778.4,357.6 786.6,346.4 795.4,336.2 C804.2,325.9 813.5,316.5 823.2,308.0 C832.9,299.5 843.1,291.8 853.7,285.1 C864.3,278.4 875.4,272.6 886.7,267.8 C898.1,263.0 909.8,259.0 921.8,256.1 C933.8,253.2 946.2,251.2 958.8,250.2 C971.4,249.2 984.3,249.2 997.4,250.2 C1010.5,251.1 1023.9,253.0 1037.3,255.9 C1050.7,258.8 1064.3,262.6 1078.0,267.4 C1091.7,272.2 1112.4,281.7 1119.3,284.6"/>
</g>
<path d="M870,880 L870,2232" style="stroke:#fff;stroke-width:70"/>
<path d="M1210.0,705.0 L870.0,890.0 L870.0,2232.0"/>
</g>
<g class="g" transform="translate(430,3220) scale(0.44362)" stroke-width="8.57">
<path d="M300.0,120.0 C297.5,125.0 291.3,136.7 285.0,150.0 C278.7,163.3 270.8,181.3 262.0,200.0 C253.2,218.7 237.0,251.7 232.0,262.0"/>
<path d="M232.0,262.0 C226.7,264.7 209.5,273.0 200.0,278.0 C190.5,283.0 180.8,283.3 175.0,292.0 C169.2,300.7 166.2,316.7 165.0,330.0 C163.8,343.3 164.7,362.8 168.0,372.0 C171.3,381.2 182.2,382.8 185.0,385.0"/>
<path d="M130.0,580.0 C128.7,600.0 125.3,663.3 122.0,700.0 C118.7,736.7 112.8,773.3 110.0,800.0 C107.2,826.7 104.2,842.5 105.0,860.0 C105.8,877.5 110.0,891.7 115.0,905.0 C120.0,918.3 131.7,934.2 135.0,940.0"/>
<path d="M150.0,950.0 C166.7,971.7 208.3,1038.3 250.0,1080.0 C291.7,1121.7 341.7,1158.3 400.0,1200.0 C458.3,1241.7 533.3,1290.0 600.0,1330.0 C666.7,1370.0 733.3,1408.3 800.0,1440.0 C866.7,1471.7 950.0,1500.7 1000.0,1520.0 C1050.0,1539.3 1066.7,1546.8 1100.0,1556.0 C1133.3,1565.2 1171.7,1572.3 1200.0,1575.0 C1228.3,1577.7 1258.3,1572.5 1270.0,1572.0"/>
<path d="M1270.0,1572.0 C1278.3,1564.2 1301.7,1537.8 1320.0,1525.0 C1338.3,1512.2 1365.0,1504.2 1380.0,1495.0 C1395.0,1485.8 1406.7,1479.2 1410.0,1470.0 C1413.3,1460.8 1410.8,1443.3 1400.0,1440.0 C1389.2,1436.7 1355.8,1453.3 1345.0,1450.0 C1334.2,1446.7 1336.7,1425.0 1335.0,1420.0"/>
<path d="M1335.0,1420.0 L1330.0,1180.0"/>
<path d="M1240.0,530.0 C1250.0,545.0 1283.3,588.3 1300.0,620.0 C1316.7,651.7 1329.7,686.7 1340.0,720.0 C1350.3,753.3 1356.7,786.7 1362.0,820.0 C1367.3,853.3 1369.3,888.3 1372.0,920.0 C1374.7,951.7 1377.0,995.0 1378.0,1010.0"/>
<path d="M300.0,120.0 C306.7,114.7 325.0,96.3 340.0,88.0 C355.0,79.7 373.3,70.5 390.0,70.0 C406.7,69.5 418.3,75.3 440.0,85.0 C461.7,94.7 493.3,113.5 520.0,128.0 C546.7,142.5 576.7,158.3 600.0,172.0 C623.3,185.7 644.7,197.3 660.0,210.0 C675.3,222.7 685.3,233.0 692.0,248.0 C698.7,263.0 697.8,278.0 700.0,300.0 C702.2,322.0 700.3,356.7 705.0,380.0 C709.7,403.3 717.5,425.0 728.0,440.0 C738.5,455.0 756.0,468.3 768.0,470.0 C780.0,471.7 793.3,465.0 800.0,450.0 C806.7,435.0 804.7,398.0 808.0,380.0 C811.3,362.0 811.3,349.3 820.0,342.0 C828.7,334.7 838.3,331.3 860.0,336.0 C881.7,340.7 916.7,354.3 950.0,370.0 C983.3,385.7 1026.7,409.7 1060.0,430.0 C1093.3,450.3 1128.0,472.8 1150.0,492.0 C1172.0,511.2 1182.8,523.7 1192.0,545.0 C1201.2,566.3 1202.8,585.8 1205.0,620.0 C1207.2,654.2 1203.3,706.7 1205.0,750.0 C1206.7,793.3 1209.2,841.7 1215.0,880.0 C1220.8,918.3 1228.3,949.7 1240.0,980.0 C1251.7,1010.3 1275.0,1040.3 1285.0,1062.0 C1295.0,1083.7 1297.5,1102.0 1300.0,1110.0"/>
<path d="M330.0,105.0 C340.0,102.5 371.7,90.0 390.0,90.0 C408.3,90.0 398.3,82.5 440.0,105.0 C481.7,127.5 602.5,199.2 640.0,225.0 C677.5,250.8 660.0,244.2 665.0,260.0 C670.0,275.8 667.5,296.7 670.0,320.0 C672.5,343.3 673.3,376.7 680.0,400.0 C686.7,423.3 696.7,445.0 710.0,460.0 C723.3,475.0 741.7,486.7 760.0,490.0 C778.3,493.3 807.5,491.7 820.0,480.0 C832.5,468.3 831.7,440.0 835.0,420.0 C838.3,400.0 832.5,370.0 840.0,360.0 C847.5,350.0 846.7,346.7 880.0,360.0 C913.3,373.3 996.7,415.0 1040.0,440.0 C1083.3,465.0 1118.3,490.0 1140.0,510.0 C1161.7,530.0 1163.3,536.7 1170.0,560.0 C1176.7,583.3 1177.5,610.0 1180.0,650.0 C1182.5,690.0 1182.5,758.3 1185.0,800.0 C1187.5,841.7 1188.3,866.7 1195.0,900.0 C1201.7,933.3 1213.3,970.8 1225.0,1000.0 C1236.7,1029.2 1255.0,1055.0 1265.0,1075.0 C1275.0,1095.0 1281.7,1112.5 1285.0,1120.0"/>
<path d="M600.0,150.0 C616.7,143.3 673.3,122.3 700.0,110.0 C726.7,97.7 743.3,81.0 760.0,76.0 C776.7,71.0 788.3,72.7 800.0,80.0 C811.7,87.3 823.0,105.0 830.0,120.0 C837.0,135.0 842.0,154.7 842.0,170.0 C842.0,185.3 850.3,196.7 830.0,212.0 C809.7,227.3 738.3,253.7 720.0,262.0"/>
<path d="M770.0,80.0 C773.3,86.7 785.8,105.0 790.0,120.0 C794.2,135.0 795.8,155.0 795.0,170.0 C794.2,185.0 786.7,203.3 785.0,210.0"/>
<path d="M1060.0,430.0 C1076.7,423.3 1128.3,403.3 1160.0,390.0 C1191.7,376.7 1228.3,355.0 1250.0,350.0 C1271.7,345.0 1280.0,351.7 1290.0,360.0 C1300.0,368.3 1305.7,385.0 1310.0,400.0 C1314.3,415.0 1317.7,434.7 1316.0,450.0 C1314.3,465.3 1321.0,476.7 1300.0,492.0 C1279.0,507.3 1208.3,533.7 1190.0,542.0"/>
<path d="M1250.0,350.0 C1253.3,357.5 1265.8,378.3 1270.0,395.0 C1274.2,411.7 1276.3,433.3 1275.0,450.0 C1273.7,466.7 1264.2,487.5 1262.0,495.0"/>
<path d="M820.0,205.0 L850.0,285.0 L870.0,292.0"/>
<path d="M710.0,255.0 L715.0,275.0"/>
<path d="M480.0,140.0 L500.0,120.0 L512.0,106.0 L532.0,110.0 L536.0,138.0 L546.0,106.0 L566.0,100.0 L580.0,120.0 L590.0,172.0"/>
<path d="M890.0,380.0 L930.0,362.0 L942.0,340.0 L965.0,335.0 L972.0,372.0 L1000.0,392.0 L1012.0,412.0 L1030.0,440.0"/>
<path d="M335.0,235.0 C345.8,245.8 381.7,277.5 400.0,300.0 C418.3,322.5 433.3,351.7 445.0,370.0 C456.7,388.3 450.8,401.7 470.0,410.0 C489.2,418.3 531.7,415.0 560.0,420.0 C588.3,425.0 616.7,428.3 640.0,440.0 C663.3,451.7 680.0,476.7 700.0,490.0 C720.0,503.3 740.0,514.7 760.0,520.0 C780.0,525.3 796.7,518.7 820.0,522.0 C843.3,525.3 870.0,533.7 900.0,540.0 C930.0,546.3 974.2,552.5 1000.0,560.0 C1025.8,567.5 1038.3,574.2 1055.0,585.0 C1071.7,595.8 1087.8,607.5 1100.0,625.0 C1112.2,642.5 1121.3,660.8 1128.0,690.0 C1134.7,719.2 1136.0,765.0 1140.0,800.0 C1144.0,835.0 1146.7,866.7 1152.0,900.0 C1157.3,933.3 1161.0,966.7 1172.0,1000.0 C1183.0,1033.3 1205.3,1070.0 1218.0,1100.0 C1230.7,1130.0 1240.7,1146.7 1248.0,1180.0 C1255.3,1213.3 1259.7,1263.3 1262.0,1300.0 C1264.3,1336.7 1263.7,1366.7 1262.0,1400.0 C1260.3,1433.3 1257.0,1477.5 1252.0,1500.0 C1247.0,1522.5 1244.0,1531.7 1232.0,1535.0 C1220.0,1538.3 1198.7,1527.5 1180.0,1520.0 C1161.3,1512.5 1135.0,1500.0 1120.0,1490.0 C1105.0,1480.0 1095.0,1465.0 1090.0,1460.0"/>
<path d="M320.0,250.0 C330.0,261.7 363.3,296.7 380.0,320.0 C396.7,343.3 408.3,371.7 420.0,390.0 C431.7,408.3 426.7,421.7 450.0,430.0 C473.3,438.3 530.0,435.0 560.0,440.0 C590.0,445.0 608.3,448.3 630.0,460.0 C651.7,471.7 669.2,496.7 690.0,510.0 C710.8,523.3 733.3,535.0 755.0,540.0 C776.7,545.0 795.8,536.7 820.0,540.0 C844.2,543.3 871.7,553.3 900.0,560.0 C928.3,566.7 966.7,573.3 990.0,580.0 C1013.3,586.7 1025.0,590.0 1040.0,600.0 C1055.0,610.0 1069.2,623.3 1080.0,640.0 C1090.8,656.7 1098.7,673.3 1105.0,700.0 C1111.3,726.7 1113.8,766.7 1118.0,800.0 C1122.2,833.3 1124.7,866.7 1130.0,900.0 C1135.3,933.3 1139.2,966.7 1150.0,1000.0 C1160.8,1033.3 1182.5,1070.0 1195.0,1100.0 C1207.5,1130.0 1217.5,1146.7 1225.0,1180.0 C1232.5,1213.3 1237.5,1263.3 1240.0,1300.0 C1242.5,1336.7 1241.3,1368.3 1240.0,1400.0 C1238.7,1431.7 1236.2,1470.8 1232.0,1490.0 C1227.8,1509.2 1217.8,1510.8 1215.0,1515.0"/>
<path d="M330.0,235.0 C325.0,244.2 310.8,267.5 300.0,290.0 C289.2,312.5 273.3,348.3 265.0,370.0 C256.7,391.7 252.5,411.7 250.0,420.0"/>
<path d="M340.0,520.0 C339.2,533.3 337.5,570.0 335.0,600.0 C332.5,630.0 328.3,666.7 325.0,700.0 C321.7,733.3 318.3,766.7 315.0,800.0 C311.7,833.3 308.3,870.8 305.0,900.0 C301.7,929.2 302.5,964.2 295.0,975.0 C287.5,985.8 269.2,970.0 260.0,965.0 C250.8,960.0 244.2,950.8 240.0,945.0 C235.8,939.2 235.8,932.5 235.0,930.0"/>
<path d="M355.0,530.0 C354.2,545.0 352.2,588.3 350.0,620.0 C347.8,651.7 345.0,686.7 342.0,720.0 C339.0,753.3 335.3,786.7 332.0,820.0 C328.7,853.3 324.3,891.7 322.0,920.0 C319.7,948.3 323.3,976.7 318.0,990.0 C312.7,1003.3 299.7,1000.8 290.0,1000.0 C280.3,999.2 265.0,987.5 260.0,985.0"/>
<path d="M420.0,650.0 C433.3,625.0 456.7,589.2 480.0,570.0 C503.3,550.8 531.7,540.0 560.0,535.0 C588.3,530.0 618.3,530.8 650.0,540.0 C681.7,549.2 716.7,566.7 750.0,590.0 C783.3,613.3 820.0,646.7 850.0,680.0 C880.0,713.3 907.5,753.3 930.0,790.0 C952.5,826.7 972.5,865.0 985.0,900.0 C997.5,935.0 1002.5,961.7 1005.0,1000.0 C1007.5,1038.3 1005.0,1093.3 1000.0,1130.0 C995.0,1166.7 988.3,1194.2 975.0,1220.0 C961.7,1245.8 942.5,1270.8 920.0,1285.0 C897.5,1299.2 870.0,1305.8 840.0,1305.0 C810.0,1304.2 773.3,1297.5 740.0,1280.0 C706.7,1262.5 673.3,1233.3 640.0,1200.0 C606.7,1166.7 570.0,1121.7 540.0,1080.0 C510.0,1038.3 481.7,993.3 460.0,950.0 C438.3,906.7 420.0,858.3 410.0,820.0 C400.0,781.7 398.3,748.3 400.0,720.0 C401.7,691.7 406.7,675.0 420.0,650.0 Z"/>
<path d="M660.0,560.0 C661.7,580.0 661.7,640.0 670.0,680.0 C678.3,720.0 690.0,758.3 710.0,800.0 C730.0,841.7 761.7,890.0 790.0,930.0 C818.3,970.0 853.3,1011.7 880.0,1040.0 C906.7,1068.3 928.3,1085.0 950.0,1100.0 C971.7,1115.0 1000.0,1125.0 1010.0,1130.0"/>
<path d="M690.0,560.0 C691.7,580.0 691.7,640.0 700.0,680.0 C708.3,720.0 721.7,760.0 740.0,800.0 C758.3,840.0 785.0,883.3 810.0,920.0 C835.0,956.7 865.0,993.3 890.0,1020.0 C915.0,1046.7 940.8,1065.8 960.0,1080.0 C979.2,1094.2 997.5,1100.8 1005.0,1105.0"/>
<path d="M370.0,655.0 C375.0,639.2 383.3,587.5 400.0,560.0 C416.7,532.5 443.3,506.7 470.0,490.0 C496.7,473.3 533.3,462.0 560.0,460.0 C586.7,458.0 617.5,471.3 630.0,478.0 C642.5,484.7 634.2,496.3 635.0,500.0"/>
<path d="M382.0,630.0 C388.3,615.8 403.7,565.8 420.0,545.0 C436.3,524.2 456.7,514.7 480.0,505.0 C503.3,495.3 535.0,487.8 560.0,487.0 C585.0,486.2 618.3,497.8 630.0,500.0"/>
<path d="M800.0,580.0 C803.3,579.2 803.3,561.7 820.0,575.0 C836.7,588.3 873.3,622.5 900.0,660.0 C926.7,697.5 958.3,756.7 980.0,800.0 C1001.7,843.3 1018.0,881.7 1030.0,920.0 C1042.0,958.3 1050.3,1008.3 1052.0,1030.0 C1053.7,1051.7 1045.3,1049.2 1040.0,1050.0 C1034.7,1050.8 1025.8,1055.0 1020.0,1035.0 C1014.2,1015.0 1015.0,967.5 1005.0,930.0 C995.0,892.5 980.8,851.7 960.0,810.0 C939.2,768.3 905.8,715.0 880.0,680.0 C854.2,645.0 818.3,616.7 805.0,600.0 C791.7,583.3 800.8,583.3 800.0,580.0"/>
<path d="M762.0,528.0 C778.3,540.0 830.3,573.0 860.0,600.0 C889.7,627.0 915.0,655.0 940.0,690.0 C965.0,725.0 990.0,770.0 1010.0,810.0 C1030.0,850.0 1048.3,893.3 1060.0,930.0 C1071.7,966.7 1074.7,1001.7 1080.0,1030.0 C1085.3,1058.3 1088.7,1078.3 1092.0,1100.0 C1095.3,1121.7 1098.7,1150.0 1100.0,1160.0"/>
<path d="M1100.0,1100.0 C1108.3,1105.0 1133.3,1121.7 1150.0,1130.0 C1166.7,1138.3 1191.7,1146.7 1200.0,1150.0"/>
<ellipse cx="480" cy="300" rx="38" ry="50" transform="rotate(-15 480 300)"/>
<ellipse cx="960" cy="580" rx="38" ry="52" transform="rotate(-15 960 580)"/>
<ellipse cx="250" cy="650" rx="70" ry="100" transform="rotate(-10 250 650)"/>
<ellipse cx="272" cy="645" rx="50" ry="80" transform="rotate(-10 272 645)"/>
<ellipse class="f" cx="362" cy="185" rx="52" ry="62" transform="rotate(-20 362 185)"/>
<ellipse cx="362" cy="185" rx="38" ry="48" transform="rotate(-20 362 185)"/>
<path d="M254.6,277.3 L369.6,205.3"/>
<path d="M235.4,246.7 L350.4,174.7"/>
<ellipse class="f" cx="245" cy="262" rx="11.700000000000001" ry="18" transform="rotate(-32.050145526721174 245 262)"/>
<path d="M269.9,267.7 C267.4,265.6 258.4,260.7 255.2,255.6 C252.1,250.5 251.5,240.2 250.8,237.1"/>
<path d="M285.2,258.1 C282.8,256.0 273.8,251.1 270.6,246.0 C267.4,240.9 266.9,230.6 266.1,227.5"/>
<path d="M300.6,248.5 C298.1,246.4 289.1,241.5 285.9,236.4 C282.7,231.3 282.2,221.0 281.4,217.9"/>
<path d="M315.9,238.9 C313.4,236.8 304.4,231.9 301.2,226.8 C298.1,221.7 297.5,211.4 296.8,208.3"/>
<path d="M331.2,229.3 C328.8,227.2 319.8,222.3 316.6,217.2 C313.4,212.1 312.9,201.8 312.1,198.7"/>
<ellipse class="f" cx="192" cy="868" rx="52" ry="62" transform="rotate(-20 192 868)"/>
<ellipse cx="192" cy="868" rx="38" ry="48" transform="rotate(-20 192 868)"/>
<path d="M73.6,955.8 L198.6,887.8"/>
<path d="M56.4,924.2 L181.4,856.2"/>
<ellipse class="f" cx="65" cy="940" rx="11.700000000000001" ry="18" transform="rotate(-28.54619073104337 65 940)"/>
<path d="M90.3,946.7 C88.0,944.6 79.3,939.1 76.4,933.8 C73.5,928.5 73.6,918.2 73.1,915.1"/>
<path d="M106.9,937.7 C104.6,935.5 95.9,930.0 93.1,924.7 C90.2,919.5 90.3,909.2 89.7,906.1"/>
<path d="M123.6,928.6 C121.3,926.5 112.6,920.9 109.7,915.7 C106.9,910.4 107.0,900.1 106.4,897.0"/>
<path d="M140.3,919.5 C138.0,917.4 129.3,911.9 126.4,906.6 C123.5,901.3 123.6,891.0 123.1,887.9"/>
<path d="M156.9,910.5 C154.6,908.3 145.9,902.8 143.1,897.5 C140.2,892.3 140.3,882.0 139.7,878.9"/>
<ellipse class="f" cx="1082" cy="610" rx="52" ry="62" transform="rotate(-20 1082 610)"/>
<ellipse cx="1082" cy="610" rx="38" ry="48" transform="rotate(-20 1082 610)"/>
<path d="M973.9,695.7 L1088.9,630.7"/>
<path d="M956.1,664.3 L1071.1,599.3"/>
<ellipse class="f" cx="965" cy="680" rx="11.700000000000001" ry="18" transform="rotate(-29.475889003245747 965 680)"/>
<path d="M989.2,687.0 C986.8,684.9 978.1,679.5 975.1,674.3 C972.2,669.1 972.1,658.8 971.5,655.7"/>
<path d="M1004.5,678.3 C1002.2,676.2 993.4,670.8 990.4,665.6 C987.5,660.4 987.4,650.1 986.8,647.0"/>
<path d="M1019.9,669.7 C1017.5,667.6 1008.7,662.2 1005.8,657.0 C1002.8,651.7 1002.7,641.4 1002.1,638.3"/>
<path d="M1035.2,661.0 C1032.8,658.9 1024.1,653.5 1021.1,648.3 C1018.2,643.1 1018.1,632.8 1017.5,629.7"/>
<path d="M1050.5,652.3 C1048.2,650.2 1039.4,644.8 1036.4,639.6 C1033.5,634.4 1033.4,624.1 1032.8,621.0"/>
<ellipse class="f" cx="232" cy="462" rx="65" ry="88" transform="rotate(-15 232 462)"/>
<ellipse cx="240" cy="460" rx="45" ry="68" transform="rotate(-15 240 460)"/>
<path d="M105.0,495.0 L250.0,420.0"/>
<path d="M125.0,585.0 L265.0,525.0"/>
<ellipse class="f" cx="105" cy="542" rx="40" ry="50" transform="rotate(-20 105 542)"/>
<ellipse cx="105" cy="542" rx="26" ry="34" transform="rotate(-20 105 542)"/>
<path d="M150.0,490.0 C148.3,498.3 138.3,525.0 140.0,540.0 C141.7,555.0 156.7,573.3 160.0,580.0"/>
<path d="M1070.0,1195.0 C1091.7,1183.3 1172.5,1135.8 1200.0,1125.0 C1227.5,1114.2 1226.7,1122.5 1235.0,1130.0 C1243.3,1137.5 1250.0,1156.7 1250.0,1170.0 C1250.0,1183.3 1258.3,1193.3 1235.0,1210.0 C1211.7,1226.7 1130.8,1260.0 1110.0,1270.0"/>
<ellipse class="f" cx="1072" cy="1232" rx="30" ry="40" transform="rotate(-20 1072 1232)"/>
<ellipse cx="1072" cy="1232" rx="18" ry="25" transform="rotate(-20 1072 1232)"/>
<path d="M1060.0,1335.0 C1078.3,1325.0 1146.7,1283.3 1170.0,1275.0 C1193.3,1266.7 1193.3,1277.5 1200.0,1285.0 C1206.7,1292.5 1210.8,1309.2 1210.0,1320.0 C1209.2,1330.8 1215.0,1335.8 1195.0,1350.0 C1175.0,1364.2 1107.5,1395.8 1090.0,1405.0"/>
<ellipse class="f" cx="1060" cy="1370" rx="30" ry="40" transform="rotate(-20 1060 1370)"/>
<ellipse cx="1060" cy="1370" rx="18" ry="25" transform="rotate(-20 1060 1370)"/>
<path d="M1107.8,1545.4 L1224.8,1479.4"/>
<path d="M1088.2,1510.6 L1205.2,1444.6"/>
<ellipse class="f" cx="1098" cy="1528" rx="13.0" ry="20" transform="rotate(-29.427456403189737 1098 1528)"/>
<path d="M1131.2,1532.2 C1128.7,1529.8 1119.4,1523.6 1116.2,1517.7 C1112.9,1511.9 1112.3,1500.8 1111.6,1497.4"/>
<path d="M1154.6,1519.0 C1152.1,1516.6 1142.8,1510.4 1139.6,1504.5 C1136.3,1498.7 1135.7,1487.6 1135.0,1484.2"/>
<path d="M1178.0,1505.8 C1175.5,1503.4 1166.2,1497.2 1163.0,1491.3 C1159.7,1485.5 1159.1,1474.4 1158.4,1471.0"/>
<path d="M1300.0,1055.0 C1318.3,1047.5 1386.7,1015.8 1410.0,1010.0 C1433.3,1004.2 1433.3,1013.3 1440.0,1020.0 C1446.7,1026.7 1451.7,1040.0 1450.0,1050.0 C1448.3,1060.0 1450.0,1067.5 1430.0,1080.0 C1410.0,1092.5 1346.7,1117.5 1330.0,1125.0"/>
<ellipse class="f" cx="1318" cy="1085" rx="22" ry="35" transform="rotate(-20 1318 1085)"/>
<path d="M1340.0,1170.0 C1366.7,1154.2 1467.5,1090.0 1500.0,1075.0 C1532.5,1060.0 1526.7,1074.2 1535.0,1080.0 C1543.3,1085.8 1548.3,1090.0 1550.0,1110.0 C1551.7,1130.0 1580.8,1166.7 1545.0,1200.0 C1509.2,1233.3 1370.0,1291.7 1335.0,1310.0"/>
<path d="M1285.0,1030.0 L1355.0,995.0"/>
<path d="M1460.0,1010.0 L1623.0,920.0"/>
</g>
<g class="g" transform="translate(0,0) scale(1.00000)" stroke-width="3.80">
<path d="M2616.4,774.0 L2823.4,651.0"/>
<path d="M2605.6,756.0 L2812.6,633.0"/>
<ellipse class="f" cx="2611" cy="765" rx="4.7250000000000005" ry="10.5" transform="rotate(-30.718904264029174 2611 765)"/>
<path d="M2624.3,769.3 C2622.7,768.2 2616.7,765.7 2614.9,762.7 C2613.1,759.7 2613.8,753.2 2613.6,751.3"/>
<path d="M2632.2,764.6 C2630.7,763.5 2624.6,761.0 2622.8,758.0 C2621.0,755.0 2621.7,748.4 2621.5,746.5"/>
<path d="M2640.2,759.9 C2638.6,758.8 2632.5,756.3 2630.7,753.3 C2629.0,750.3 2629.7,743.7 2629.4,741.8"/>
<path d="M2648.1,755.2 C2646.5,754.1 2640.5,751.6 2638.7,748.6 C2636.9,745.5 2637.6,739.0 2637.4,737.1"/>
<path d="M2656.0,750.5 C2654.5,749.3 2648.4,746.8 2646.6,743.8 C2644.8,740.8 2645.5,734.3 2645.3,732.4"/>
<path d="M2664.0,745.7 C2662.4,744.6 2656.3,742.1 2654.6,739.1 C2652.8,736.1 2653.5,729.6 2653.2,727.7"/>
<ellipse class="f" cx="2821.4387351016994" cy="639.9566936352222" rx="12.18" ry="29" transform="rotate(-30.718904264029174 2821.4387351016994 639.9566936352222)"/>
<path class="f" d="M2834.4,657.8 L2848.2,649.7 L2825.7,611.8 L2811.9,620.0 Z"/>
<ellipse class="f" cx="2836.913043059346" cy="630.761814993722" rx="9.9" ry="22" transform="rotate(-30.718904264029174 2836.913043059346 630.761814993722)"/>
<path d="M2840.4,654.3 C2839.5,650.6 2838.6,638.3 2834.8,632.0 C2831.1,625.7 2820.8,619.0 2817.9,616.4"/>
</g>
<g class="g" transform="translate(2500,1250) scale(0.24646)" stroke-width="15.42">
<path d="M0.0,225.0 C10.0,217.5 38.3,195.0 60.0,180.0 C81.7,165.0 95.0,148.7 130.0,135.0 C165.0,121.3 246.7,104.2 270.0,98.0"/>
<path d="M270.0,98.0 C291.7,89.2 358.3,49.7 400.0,45.0 C441.7,40.3 483.3,55.8 520.0,70.0 C556.7,84.2 590.0,106.7 620.0,130.0 C650.0,153.3 673.3,176.7 700.0,210.0 C726.7,243.3 756.7,288.3 780.0,330.0 C803.3,371.7 825.3,415.0 840.0,460.0 C854.7,505.0 864.3,553.3 868.0,600.0 C871.7,646.7 869.2,700.8 862.0,740.0 C854.8,779.2 841.2,809.2 825.0,835.0 C808.8,860.8 785.8,874.2 765.0,895.0 C744.2,915.8 719.2,944.2 700.0,960.0 C680.8,975.8 658.3,985.0 650.0,990.0"/>
<path d="M260.0,112.0 C283.3,117.0 356.7,123.7 400.0,142.0 C443.3,160.3 486.7,190.3 520.0,222.0 C553.3,253.7 573.3,290.7 600.0,332.0 C626.7,373.3 660.0,432.0 680.0,470.0 C700.0,508.0 706.7,530.8 720.0,560.0 C733.3,589.2 753.3,630.8 760.0,645.0"/>
<path d="M290.0,122.0 C310.8,128.7 377.5,141.5 415.0,162.0 C452.5,182.5 484.2,212.8 515.0,245.0 C545.8,277.2 572.5,311.7 600.0,355.0 C627.5,398.3 657.5,460.0 680.0,505.0 C702.5,550.0 725.8,605.0 735.0,625.0"/>
<path d="M0.0,250.0 C16.7,253.3 58.3,258.3 100.0,270.0 C141.7,281.7 203.3,295.0 250.0,320.0 C296.7,345.0 341.7,380.0 380.0,420.0 C418.3,460.0 451.7,510.0 480.0,560.0 C508.3,610.0 533.3,675.0 550.0,720.0 C566.7,765.0 575.0,811.7 580.0,830.0"/>
<path d="M0.0,570.0 C16.7,583.3 63.3,613.3 100.0,650.0 C136.7,686.7 200.0,766.7 220.0,790.0"/>
<path d="M235.0,245.0 L340.0,200.0"/>
<path d="M240.0,232.0 L330.0,192.0"/>
<path d="M385.0,140.0 L520.0,92.0"/>
<path d="M380.0,128.0 L505.0,82.0"/>
<path d="M0.0,300.0 L160.0,280.0"/>
<path d="M0.0,285.0 L150.0,268.0"/>
<path d="M660.0,690.0 C658.0,701.7 647.2,738.3 648.0,760.0 C648.8,781.7 662.2,810.0 665.0,820.0"/>
<path d="M690.0,685.0 C688.3,694.2 680.0,722.5 680.0,740.0 C680.0,757.5 688.3,781.7 690.0,790.0"/>
<ellipse class="f" cx="760" cy="760" rx="58" ry="75" transform="rotate(25 760 760)"/>
<ellipse cx="762" cy="762" rx="28" ry="40" transform="rotate(25 762 762)"/>
<ellipse class="f" cx="545" cy="912" rx="48" ry="60" transform="rotate(25 545 912)"/>
<ellipse cx="547" cy="914" rx="20" ry="30" transform="rotate(25 547 914)"/>
<path d="M620.0,860.0 C623.3,866.7 636.7,880.0 640.0,900.0 C643.3,920.0 646.7,958.3 640.0,980.0 C633.3,1001.7 606.7,1021.7 600.0,1030.0"/>
<path d="M545.0,1060.0 C546.2,1095.0 544.5,1232.5 552.0,1270.0 C559.5,1307.5 576.7,1285.0 590.0,1285.0 C603.3,1285.0 625.7,1307.5 632.0,1270.0 C638.3,1232.5 628.7,1095.0 628.0,1060.0"/>
<ellipse class="f" cx="588" cy="1045" rx="48" ry="22"/>
<path d="M532.0,1265.0 C533.3,1270.0 530.7,1288.3 540.0,1295.0 C549.3,1301.7 571.3,1305.5 588.0,1305.0 C604.7,1304.5 630.5,1299.2 640.0,1292.0 C649.5,1284.8 644.2,1267.0 645.0,1262.0"/>
<path d="M575.0,1300.0 L580.0,1330.0"/>
<path d="M615.0,1300.0 L612.0,1325.0"/>
<path d="M598.0,1330.0 L630.0,1640.0"/>
<path d="M245.0,690.0 C243.3,698.3 234.2,724.2 235.0,740.0 C235.8,755.8 247.5,777.5 250.0,785.0"/>
<path d="M275.0,650.0 C279.2,655.0 288.3,673.3 300.0,680.0 C311.7,686.7 337.5,688.3 345.0,690.0"/>
<path d="M335.0,640.0 L380.0,600.0"/>
<path d="M385.0,590.0 C384.5,598.3 379.5,621.7 382.0,640.0 C384.5,658.3 397.0,690.0 400.0,700.0"/>
<path d="M320.0,680.0 L560.0,830.0"/>
<path d="M232.0,790.0 L430.0,875.0 L400.0,900.0"/>
<path d="M260.0,965.0 L440.0,895.0"/>
<path d="M230.0,800.0 C233.3,833.3 243.3,933.3 250.0,1000.0 C256.7,1066.7 265.0,1133.3 270.0,1200.0 C275.0,1266.7 281.3,1333.3 280.0,1400.0 C278.7,1466.7 268.7,1540.0 262.0,1600.0 C255.3,1660.0 243.7,1733.3 240.0,1760.0"/>
<path d="M370.0,960.0 C375.0,983.3 393.3,1051.7 400.0,1100.0 C406.7,1148.3 413.3,1200.0 410.0,1250.0 C406.7,1300.0 385.0,1375.0 380.0,1400.0"/>
<path d="M430.0,950.0 L462.0,1420.0"/>
<path d="M480.0,1150.0 C486.7,1188.3 505.8,1337.5 520.0,1380.0 C534.2,1422.5 557.5,1400.8 565.0,1405.0"/>
<path d="M370.0,1410.0 L470.0,1500.0 L560.0,1470.0"/>
<path d="M280.0,1540.0 L370.0,1420.0"/>
<path d="M250.0,1700.0 L480.0,1500.0 L580.0,1470.0"/>
<ellipse class="f" cx="575" cy="1520" rx="28" ry="38" transform="rotate(25 575 1520)"/>
<path d="M0.0,800.0 C10.0,805.0 43.3,808.3 60.0,830.0 C76.7,851.7 91.3,885.0 100.0,930.0 C108.7,975.0 108.3,1038.3 112.0,1100.0 C115.7,1161.7 122.3,1233.3 122.0,1300.0 C121.7,1366.7 117.0,1433.3 110.0,1500.0 C103.0,1566.7 85.0,1666.7 80.0,1700.0"/>
<ellipse cx="32" cy="930" rx="40" ry="62" transform="rotate(-15 32 930)"/>
<path class="f" d="M135.0,985.0 L165.0,960.0 L205.0,990.0 L205.0,1060.0 L170.0,1085.0 L135.0,1060.0 Z"/>
<path d="M165.0,960.0 L170.0,1020.0 L205.0,990.0"/>
<path d="M170.0,1020.0 L170.0,1085.0"/>
<ellipse class="f" cx="245" cy="1790" rx="60" ry="75" transform="rotate(25 245 1790)"/>
<ellipse cx="247" cy="1792" rx="28" ry="38" transform="rotate(25 247 1792)"/>
<path d="M140.0,1760.0 C146.7,1753.3 161.7,1728.3 180.0,1720.0 C198.3,1711.7 238.3,1711.7 250.0,1710.0"/>
</g>
<g class="g" transform="translate(0,0) scale(1.00000)" stroke-width="3.80">
<path d="M2469.7,2181.4 L2553.7,2130.4"/>
<path d="M2458.3,2162.6 L2542.3,2111.6"/>
<ellipse class="f" cx="2464" cy="2172" rx="4.95" ry="11" transform="rotate(-31.263731694377434 2464 2172)"/>
<path d="M2476.7,2177.2 C2475.0,2176.0 2468.7,2173.5 2466.8,2170.3 C2464.9,2167.2 2465.5,2160.3 2465.3,2158.4"/>
<path d="M2483.7,2172.9 C2482.0,2171.8 2475.7,2169.2 2473.8,2166.1 C2471.9,2162.9 2472.5,2156.1 2472.3,2154.1"/>
<path d="M2490.7,2168.7 C2489.0,2167.5 2482.7,2165.0 2480.7,2161.8 C2478.8,2158.7 2479.5,2151.9 2479.3,2149.9"/>
<path d="M2497.7,2164.4 C2496.0,2163.3 2489.6,2160.7 2487.7,2157.6 C2485.8,2154.4 2486.5,2147.6 2486.3,2145.6"/>
<path d="M2504.7,2160.2 C2503.0,2159.0 2496.6,2156.5 2494.7,2153.3 C2492.8,2150.2 2493.5,2143.4 2493.3,2141.4"/>
<ellipse class="f" cx="2551.4191500608867" cy="2118.9240874630327" rx="10.5" ry="25" transform="rotate(-31.263731694377434 2551.4191500608867 2118.9240874630327)"/>
<path class="f" d="M2564.0,2135.8 L2576.0,2128.6 L2554.2,2092.7 L2542.2,2099.9 Z"/>
<ellipse class="f" cx="2565.0957503044347" cy="2110.6204373151645" rx="9.450000000000001" ry="21" transform="rotate(-31.263731694377434 2565.0957503044347 2110.6204373151645)"/>
<path d="M2569.2,2132.7 C2568.2,2129.2 2567.3,2117.5 2563.6,2111.5 C2560.0,2105.5 2550.1,2099.3 2547.4,2096.8"/>
<path d="M2982.8,2414.8 L3049.8,2377.8"/>
<path d="M2973.2,2397.2 L3040.2,2360.2"/>
<ellipse class="f" cx="2978" cy="2406" rx="4.5" ry="10" transform="rotate(-28.90918365114783 2978 2406)"/>
<path d="M2989.6,2411.0 C2988.2,2409.9 2982.5,2407.3 2980.9,2404.4 C2979.3,2401.5 2980.1,2395.3 2980.0,2393.5"/>
<path d="M2996.5,2407.2 C2995.0,2406.1 2989.3,2403.6 2987.7,2400.7 C2986.1,2397.7 2986.9,2391.5 2986.8,2389.7"/>
<path d="M3003.3,2403.5 C3001.8,2402.4 2996.1,2399.8 2994.5,2396.9 C2992.9,2394.0 2993.7,2387.8 2993.6,2386.0"/>
<path d="M3010.1,2399.7 C3008.6,2398.6 3002.9,2396.1 3001.3,2393.1 C2999.7,2390.2 3000.5,2384.0 3000.4,2382.2"/>
<ellipse class="f" cx="3048.5015482114477" cy="2367.0663091966635" rx="8.82" ry="21" transform="rotate(-28.90918365114783 3048.5015482114477 2367.0663091966635)"/>
<path class="f" d="M3059.0,2381.9 L3069.5,2376.1 L3052.1,2344.5 L3041.6,2350.3 Z"/>
<ellipse class="f" cx="3060.7569669515137" cy="2360.298391384985" rx="8.1" ry="18" transform="rotate(-28.90918365114783 3060.7569669515137 2360.298391384985)"/>
<path d="M3063.3,2379.4 C3062.7,2376.4 3062.3,2366.3 3059.4,2361.1 C3056.5,2355.8 3048.2,2350.1 3045.9,2347.9"/>
</g>
<g class="g" transform="translate(2700,2250) scale(0.26128)" stroke-width="14.54">
<path d="M300.0,0.0 C320.0,10.0 376.7,31.7 420.0,60.0 C463.3,88.3 515.0,131.7 560.0,170.0 C605.0,208.3 650.0,256.3 690.0,290.0 C730.0,323.7 781.7,358.3 800.0,372.0"/>
<path d="M0.0,60.0 C33.3,75.0 136.7,115.0 200.0,150.0 C263.3,185.0 330.0,236.7 380.0,270.0 C430.0,303.3 472.5,327.5 500.0,350.0 C527.5,372.5 537.5,395.8 545.0,405.0"/>
<path d="M545.0,405.0 C535.8,408.3 497.5,416.2 490.0,425.0 C482.5,433.8 488.3,450.5 500.0,458.0 C511.7,465.5 536.7,472.7 560.0,470.0 C583.3,467.3 611.7,449.5 640.0,442.0 C668.3,434.5 703.3,435.7 730.0,425.0 C756.7,414.3 788.3,385.8 800.0,378.0"/>
<path d="M800.0,372.0 C808.3,376.7 838.0,387.0 850.0,400.0 C862.0,413.0 867.0,433.3 872.0,450.0 C877.0,466.7 878.7,491.7 880.0,500.0"/>
<path d="M500.0,470.0 C496.7,485.0 478.3,531.7 480.0,560.0 C481.7,588.3 496.7,619.2 510.0,640.0 C523.3,660.8 540.8,676.3 560.0,685.0 C579.2,693.7 614.2,690.8 625.0,692.0"/>
<path d="M640.0,712.0 C640.0,702.5 631.7,667.0 640.0,655.0 C648.3,643.0 673.3,640.8 690.0,640.0 C706.7,639.2 726.7,656.7 740.0,650.0 C753.3,643.3 761.7,615.0 770.0,600.0 C778.3,585.0 786.7,566.7 790.0,560.0"/>
<path class="f" d="M830.0,540.0 L870.0,505.0 L912.0,545.0 L912.0,622.0 L872.0,648.0 L830.0,622.0 Z"/>
<path d="M870.0,505.0 L872.0,575.0 L912.0,545.0"/>
<path d="M872.0,575.0 L872.0,648.0"/>
<path d="M700.0,660.0 C705.8,680.0 725.8,726.7 735.0,780.0 C744.2,833.3 751.7,946.7 755.0,980.0"/>
<path d="M790.0,770.0 L805.0,970.0"/>
<path d="M890.0,720.0 L905.0,910.0"/>
<path d="M500.0,1130.0 L720.0,1010.0 L790.0,990.0 L800.0,990.0"/>
<path d="M790.0,985.0 L910.0,915.0 L1090.0,1080.0 L1070.0,1175.0"/>
<path d="M800.0,990.0 L985.0,1150.0"/>
<path d="M820.0,975.0 L1000.0,1135.0"/>
<path d="M500.0,1190.0 L650.0,1352.0"/>
<path d="M650.0,1355.0 L980.0,1180.0"/>
<path d="M800.0,1335.0 L895.0,1445.0"/>
<path d="M480.0,1745.0 C486.7,1695.8 506.7,1509.2 520.0,1450.0 C533.3,1390.8 541.7,1406.3 560.0,1390.0 C578.3,1373.7 563.3,1383.7 630.0,1352.0 C696.7,1320.3 896.7,1228.7 960.0,1200.0 C1023.3,1171.3 996.3,1173.3 1010.0,1180.0 C1023.7,1186.7 1045.3,1191.7 1042.0,1240.0 C1038.7,1288.3 1015.3,1426.3 990.0,1470.0 C964.7,1513.7 961.7,1463.7 890.0,1502.0 C818.3,1540.3 628.3,1658.7 560.0,1700.0 C491.7,1741.3 493.3,1741.7 480.0,1750.0"/>
<path d="M570.0,1600.0 C577.5,1568.3 553.3,1468.3 615.0,1410.0 C676.7,1351.7 882.2,1271.7 940.0,1250.0 C997.8,1228.3 965.3,1241.7 962.0,1280.0 C958.7,1318.3 980.3,1421.7 920.0,1480.0 C859.7,1538.3 658.3,1610.0 600.0,1630.0 C541.7,1650.0 575.0,1605.0 570.0,1600.0"/>
<ellipse cx="590" cy="1410" rx="18" ry="25" transform="rotate(-20 590 1410)"/>
<ellipse cx="930" cy="1460" rx="18" ry="25" transform="rotate(-20 930 1460)"/>
<ellipse cx="510" cy="1690" rx="18" ry="25" transform="rotate(-20 510 1690)"/>
<ellipse cx="1012" cy="1172" rx="12" ry="16" transform="rotate(-20 1012 1172)"/>
<path d="M350.0,1330.0 C355.0,1335.8 366.7,1352.5 380.0,1365.0 C393.3,1377.5 421.7,1398.3 430.0,1405.0"/>
<path d="M220.0,1560.0 L430.0,1450.0"/>
<path d="M360.0,1660.0 L430.0,1620.0"/>
<path d="M400.0,1700.0 L470.0,1760.0"/>
</g>
<g class="g" transform="translate(0,0) scale(1.00000)" stroke-width="3.80">
<path d="M2075.7,1642.8 L2122.7,1617.8"/>
<path d="M2066.3,1625.2 L2113.3,1600.2"/>
<ellipse class="f" cx="2071" cy="1634" rx="4.5" ry="10" transform="rotate(-28.009176708013836 2071 1634)"/>
<path d="M2081.8,1639.6 C2080.4,1638.5 2074.7,1635.8 2073.1,1632.9 C2071.6,1629.9 2072.5,1623.8 2072.4,1621.9"/>
<path d="M2087.9,1636.3 C2086.5,1635.2 2080.8,1632.6 2079.2,1629.6 C2077.7,1626.7 2078.6,1620.5 2078.5,1618.7"/>
<path d="M2094.0,1633.1 C2092.6,1632.0 2086.9,1629.3 2085.3,1626.4 C2083.8,1623.4 2084.7,1617.3 2084.6,1615.4"/>
<path d="M2100.1,1629.9 C2098.7,1628.7 2093.0,1626.1 2091.4,1623.1 C2089.9,1620.2 2090.8,1614.0 2090.7,1612.2"/>
<path d="M2106.2,1626.6 C2104.8,1625.5 2099.1,1622.8 2097.5,1619.9 C2096.0,1616.9 2096.9,1610.8 2096.8,1608.9"/>
<ellipse class="f" cx="2121.531489556797" cy="1607.1215481080867" rx="9.66" ry="23" transform="rotate(-28.009176708013836 2121.531489556797 1607.1215481080867)"/>
<path class="f" d="M2132.2,1623.0 L2144.6,1616.4 L2126.7,1582.8 L2114.4,1589.4 Z"/>
<ellipse class="f" cx="2135.6574477839854" cy="1599.6077405404333" rx="8.55" ry="19" transform="rotate(-28.009176708013836 2135.6574477839854 1599.6077405404333)"/>
<path d="M2137.5,1620.1 C2136.9,1616.9 2136.6,1606.3 2133.6,1600.7 C2130.7,1595.1 2122.0,1588.9 2119.7,1586.6"/>
</g>
<g class="g" transform="translate(1880,1540) scale(0.18484)" stroke-width="20.56">
<path class="f" d="M330.0,810.0 C355.0,749.2 351.7,756.3 380.0,735.0 C408.3,713.7 463.3,697.8 500.0,682.0 C536.7,666.2 573.3,651.7 600.0,640.0 C626.7,628.3 638.3,613.7 660.0,612.0 C681.7,610.3 715.8,615.3 730.0,630.0 C744.2,644.7 740.0,677.5 745.0,700.0 C750.0,722.5 750.8,748.3 760.0,765.0 C769.2,781.7 783.3,797.5 800.0,800.0 C816.7,802.5 843.3,796.7 860.0,780.0 C876.7,763.3 890.0,723.3 900.0,700.0 C910.0,676.7 903.3,649.7 920.0,640.0 C936.7,630.3 970.0,635.0 1000.0,642.0 C1030.0,649.0 1076.3,664.8 1100.0,682.0 C1123.7,699.2 1137.0,717.0 1142.0,745.0 C1147.0,773.0 1143.7,810.8 1130.0,850.0 C1116.3,889.2 1086.7,940.0 1060.0,980.0 C1033.3,1020.0 994.7,1058.3 970.0,1090.0 C945.3,1121.7 923.7,1138.3 912.0,1170.0 C900.3,1201.7 895.3,1245.0 900.0,1280.0 C904.7,1315.0 935.0,1353.3 940.0,1380.0 C945.0,1406.7 941.7,1423.0 930.0,1440.0 C918.3,1457.0 891.7,1471.7 870.0,1482.0 C848.3,1492.3 821.7,1505.3 800.0,1502.0 C778.3,1498.7 760.0,1478.7 740.0,1462.0 C720.0,1445.3 720.0,1409.0 680.0,1402.0 C640.0,1395.0 563.3,1437.0 500.0,1420.0 C436.7,1403.0 345.0,1353.3 300.0,1300.0 C255.0,1246.7 225.0,1181.7 230.0,1100.0 C235.0,1018.3 305.0,870.8 330.0,810.0 Z"/>
<path d="M330.0,815.0 C353.3,807.5 421.7,767.8 470.0,770.0 C518.3,772.2 571.7,796.3 620.0,828.0 C668.3,859.7 723.3,906.3 760.0,960.0 C796.7,1013.7 824.7,1093.3 840.0,1150.0 C855.3,1206.7 858.7,1260.8 852.0,1300.0 C845.3,1339.2 825.3,1367.5 800.0,1385.0 C774.7,1402.5 716.7,1401.7 700.0,1405.0"/>
<path d="M350.0,830.0 C370.0,825.0 428.3,796.7 470.0,800.0 C511.7,803.3 558.3,823.3 600.0,850.0 C641.7,876.7 686.7,913.3 720.0,960.0 C753.3,1006.7 784.2,1075.0 800.0,1130.0 C815.8,1185.0 820.0,1250.0 815.0,1290.0 C810.0,1330.0 777.5,1356.7 770.0,1370.0"/>
<path d="M400.0,840.0 C420.0,838.3 480.0,820.0 520.0,830.0 C560.0,840.0 603.3,866.7 640.0,900.0 C676.7,933.3 715.0,980.0 740.0,1030.0 C765.0,1080.0 783.3,1150.0 790.0,1200.0 C796.7,1250.0 788.3,1300.0 780.0,1330.0 C771.7,1360.0 746.7,1371.7 740.0,1380.0"/>
<path class="f" d="M215.0,1000.0 C220.0,958.3 237.5,906.7 260.0,880.0 C282.5,853.3 315.0,845.8 350.0,840.0 C385.0,834.2 431.7,831.7 470.0,845.0 C508.3,858.3 548.3,884.2 580.0,920.0 C611.7,955.8 641.7,1013.3 660.0,1060.0 C678.3,1106.7 686.7,1156.7 690.0,1200.0 C693.3,1243.3 691.7,1286.7 680.0,1320.0 C668.3,1353.3 646.7,1383.0 620.0,1400.0 C593.3,1417.0 556.7,1425.3 520.0,1422.0 C483.3,1418.7 436.7,1405.3 400.0,1380.0 C363.3,1354.7 328.3,1311.7 300.0,1270.0 C271.7,1228.3 244.2,1175.0 230.0,1130.0 C215.8,1085.0 210.0,1041.7 215.0,1000.0 Z"/>
<path d="M270.0,1000.0 C278.3,970.0 303.3,935.0 330.0,920.0 C356.7,905.0 395.0,901.7 430.0,910.0 C465.0,918.3 508.3,936.7 540.0,970.0 C571.7,1003.3 603.3,1063.3 620.0,1110.0 C636.7,1156.7 643.3,1211.7 640.0,1250.0 C636.7,1288.3 620.0,1320.8 600.0,1340.0 C580.0,1359.2 550.0,1368.3 520.0,1365.0 C490.0,1361.7 451.7,1344.2 420.0,1320.0 C388.3,1295.8 353.3,1256.7 330.0,1220.0 C306.7,1183.3 290.0,1136.7 280.0,1100.0 C270.0,1063.3 261.7,1030.0 270.0,1000.0 Z"/>
<ellipse cx="595" cy="745" rx="28" ry="36" transform="rotate(-20 595 745)"/>
<ellipse cx="782" cy="1420" rx="28" ry="36" transform="rotate(-20 782 1420)"/>
<path d="M640.0,690.0 L665.0,760.0 L672.0,805.0"/>
<path d="M840.0,1335.0 L880.0,1315.0"/>
</g>
<path class="ld" d="M592,1409 L841,1267"/>
<path class="ld" d="M1110,742 L1176,746"/>
<path class="ld" d="M1101,823 L1185,836"/>
<path class="ld" d="M955,901 L1017,954"/>
<path class="ld" d="M662,911 L680,1005"/>
<path class="ld" d="M767,947 L776,1050"/>
<path class="ld" d="M876,1023 L878,1099"/>
<path class="ld" d="M979,1064 L980,1170"/>
<path class="ld" d="M1052,1120 L1024,1192"/>
<path class="ld" d="M1305,1272 L1222,1287"/>
<path class="ld" d="M1300,1384 L1232,1367"/>
<path class="ld" d="M940,1477 L995,1419"/>
<path class="ld" d="M2287,572 L2427,612"/>
<path class="ld" d="M2224,707 L2332,755"/>
<path class="ld" d="M2214,892 L2330,887"/>
<path class="ld" d="M2825,817 L2757,697"/>
<path class="ld" d="M2163,1050 L2342,947"/>
<path class="ld" d="M2360,937 L2530,840"/>
<path class="ld" d="M2530,840 L2741.6,961"/>
<path class="ld" d="M2750,966 L2759.6,971.5"/>
<path class="ld" d="M2770.7,977.5 L3037,1131.4 L2829,1250.6"/>
<path class="ld" d="M2887,1345 L2810,1282"/>
<path class="ld" d="M2790,1512 L2685,1474"/>
<path class="ld" d="M2781,1676 L2687,1682"/>
<path class="ld" d="M2785,1760 L2682,1742"/>
<path class="ld" d="M2752,1850 L2670,1820"/>
<path class="ld" d="M2575,1867 L2630,1820"/>
<path class="ld" d="M2377,1852 L2392,1790"/>
<path class="ld" d="M2150,1322 L2172,1385"/>
<path class="ld" d="M2365,2011 L2457,1960 L2550,2011"/>
<path class="ld" d="M2089,1415 L2112,1580"/>
<path class="ld" d="M1936,1504 L1977,1665"/>
<path class="ld" d="M1820,1570 L1865,1742"/>
<path class="ld" d="M1707,1634 L1785,1812"/>
<path class="ld" d="M1614,1689 L1717,1850"/>
<path class="ld" d="M1522,1742 L1617,1877"/>
<path class="ld" d="M1382,1822 L1482,1950"/>
<path class="ld" d="M1068,1684 L1530,1417"/>
<path class="ld" d="M1557,1400 L2132,1067"/>
<path class="ld" d="M2141,1062 L2150,1057"/>
<path class="ld" d="M1127,1970 L1197,2150"/>
<path class="ld" d="M712,2209 L735,2385"/>
<path class="ld" d="M652,2505 L742,2455"/>
<path class="ld" d="M3067,2462 L3060,2390"/>
<path class="ld" d="M2177,2415 L2262,2490"/>
<path class="ld" d="M2066,2501 L2119,2580"/>
<path class="ld" d="M1966,2552 L2037,2627"/>
<path class="ld" d="M1846,2616 L1947,2689"/>
<path class="ld" d="M2420,2940 L2459,2874"/>
<path class="ld" d="M1071,2751 L1130,2717"/>
<path class="ld" d="M1140,2712 L1148,2707"/>
<path class="ld" d="M1162,2699 L2128,2147"/>
<path class="ld" d="M2136,2142 L2145,2137"/>
<path class="ld" d="M2156,2131 L2458,1958 L3048,2293 L2990,2327"/>
<path class="ld" d="M1542,2910 L1567,3077"/>
<path class="ld" d="M1451,2955 L1486,3122"/>
<path class="ld" d="M1339,3012 L1395,3172"/>
<path class="ld" d="M1247,3067 L1337,3225"/>
<path class="ld" d="M1902,3157 L1961,3245"/>
<path class="ld" d="M505,3219 L560,3277"/>
<path class="ld" d="M1102,3109 L1120,3175"/>
<path class="ld" d="M2552,3062 L2667,2975"/>
<path class="ld" d="M2686,3172 L2754,3089"/>
<path class="ld" d="M2942,3210 L2972,3042"/>
<path class="ld" d="M1340,3917 L1312,3832"/>
<path class="ld" d="M1590,3652 L1522,3690"/>
<path class="ld" d="M2302,2261 L2397,2327"/>
<path class="ld" d="M2461,2066 L2515,2119"/>
<path class="ld" d="M592,1410 L922,1599"/>
<path class="ld" d="M931,1604 L943,1611"/>
<path class="ld" d="M952,1616 L1068,1684"/>
<path class="ld" d="M652,2506 L1071,2751"/>
<path class="ld" d="M1042,1521 L1072,1470"/>
<path class="ld" d="M1080,3667 L1222,3587 L1222,3655"/>
<path class="ld" d="M1222,3670 L1222,3682"/>
<path class="ld" d="M1222,3695 L1222,3862 L1280,3830"/>
<path class="ld" d="M1000,3682 L1030,3665"/>
<path class="ld" d="M2972,2560 L3047.6,2627.6 L3032,2634"/>
<path class="ld" d="M3011,2647 L3019,2644.6"/>
<path class="ld" d="M3000.5,2655 L2807,2765"/>
<path class="ld" d="M2789,2772.6 L2798,2768.7"/>
<path class="ld" d="M2778,2780.5 L2739,2803"/>
<path class="ld" d="M2158,1640 L2203,1614"/>
<circle cx="2525" cy="1895" r="52" fill="none" stroke="#000" stroke-width="3"/>
<text x="2500" y="1916" style="font-size:70px">A</text>
<path d="M484.8,4102.6 L553.2,3996.9 L569.9,4007.2 L569.9,4018.3 L667.8,3963.6 L686.3,3972.8 L686.3,4055.3 L571.7,4121.1 L571.7,4151.4 Z" fill="none" stroke="#000" stroke-width="3.2" stroke-linejoin="miter"/>
<path d="M484.8,4102.6 L505.2,4107 L566.2,4014.6 L569.9,4007.2 M571.7,4027.5 L680.8,3977.6 L686.3,3972.8" fill="none" stroke="#000" stroke-width="2.2"/>
<text transform="translate(567,4109) skewY(-27.7) scale(0.565,1)" style="font-weight:bold;font-size:80px;font-style:normal">FWD</text>
<text x="383" y="4259" style="font-size:68px">F7K6100-0140</text>
<circle cx="1637" cy="3624" r="51.5" fill="none" stroke="#000" stroke-width="3"/>
<text x="1612" y="3648" style="font-size:70px">A</text>
<g fill="#cccccc"><rect x="331.0" y="2247.0" width="32.4" height="8.6"/><rect x="331.0" y="2254.9" width="9.0" height="8.6"/><rect x="362.2" y="2254.9" width="9.0" height="8.6"/><rect x="331.0" y="2262.9" width="9.0" height="8.6"/><rect x="362.2" y="2262.9" width="9.0" height="8.6"/><rect x="331.0" y="2270.8" width="9.0" height="8.6"/><rect x="362.2" y="2270.8" width="9.0" height="8.6"/><rect x="331.0" y="2278.8" width="9.0" height="8.6"/><rect x="362.2" y="2278.8" width="9.0" height="8.6"/><rect x="331.0" y="2286.8" width="32.4" height="8.6"/><rect x="331.0" y="2294.7" width="9.0" height="8.6"/><rect x="331.0" y="2302.7" width="9.0" height="8.6"/><rect x="331.0" y="2310.6" width="9.0" height="8.6"/><rect x="331.0" y="2318.6" width="9.0" height="8.6"/><rect x="380.5" y="2247.0" width="32.4" height="8.6"/><rect x="380.5" y="2254.9" width="9.0" height="8.6"/><rect x="411.7" y="2254.9" width="9.0" height="8.6"/><rect x="380.5" y="2262.9" width="9.0" height="8.6"/><rect x="411.7" y="2262.9" width="9.0" height="8.6"/><rect x="380.5" y="2270.8" width="9.0" height="8.6"/><rect x="411.7" y="2270.8" width="9.0" height="8.6"/><rect x="380.5" y="2278.8" width="9.0" height="8.6"/><rect x="411.7" y="2278.8" width="9.0" height="8.6"/><rect x="380.5" y="2286.8" width="32.4" height="8.6"/><rect x="380.5" y="2294.7" width="9.0" height="8.6"/><rect x="411.7" y="2294.7" width="9.0" height="8.6"/><rect x="380.5" y="2302.7" width="9.0" height="8.6"/><rect x="411.7" y="2302.7" width="9.0" height="8.6"/><rect x="380.5" y="2310.6" width="9.0" height="8.6"/><rect x="411.7" y="2310.6" width="9.0" height="8.6"/><rect x="380.5" y="2318.6" width="9.0" height="8.6"/><rect x="411.7" y="2318.6" width="9.0" height="8.6"/><rect x="436.3" y="2242.0" width="24.6" height="8.6"/><rect x="428.5" y="2249.9" width="9.0" height="8.6"/><rect x="459.7" y="2249.9" width="9.0" height="8.6"/><rect x="428.5" y="2257.9" width="9.0" height="8.6"/><rect x="459.7" y="2257.9" width="9.0" height="8.6"/><rect x="428.5" y="2265.8" width="9.0" height="8.6"/><rect x="459.7" y="2265.8" width="9.0" height="8.6"/><rect x="428.5" y="2273.8" width="9.0" height="8.6"/><rect x="459.7" y="2273.8" width="9.0" height="8.6"/><rect x="428.5" y="2281.8" width="9.0" height="8.6"/><rect x="459.7" y="2281.8" width="9.0" height="8.6"/><rect x="428.5" y="2289.7" width="9.0" height="8.6"/><rect x="459.7" y="2289.7" width="9.0" height="8.6"/><rect x="428.5" y="2297.7" width="9.0" height="8.6"/><rect x="459.7" y="2297.7" width="9.0" height="8.6"/><rect x="428.5" y="2305.6" width="9.0" height="8.6"/><rect x="459.7" y="2305.6" width="9.0" height="8.6"/><rect x="436.3" y="2313.6" width="24.6" height="8.6"/><rect x="481.5" y="2242.0" width="40.2" height="8.6"/><rect x="481.5" y="2249.9" width="9.0" height="8.6"/><rect x="497.1" y="2249.9" width="9.0" height="8.6"/><rect x="512.7" y="2249.9" width="9.0" height="8.6"/><rect x="481.5" y="2257.9" width="9.0" height="8.6"/><rect x="497.1" y="2257.9" width="9.0" height="8.6"/><rect x="512.7" y="2257.9" width="9.0" height="8.6"/><rect x="481.5" y="2265.8" width="9.0" height="8.6"/><rect x="497.1" y="2265.8" width="9.0" height="8.6"/><rect x="512.7" y="2265.8" width="9.0" height="8.6"/><rect x="481.5" y="2273.8" width="9.0" height="8.6"/><rect x="497.1" y="2273.8" width="9.0" height="8.6"/><rect x="512.7" y="2273.8" width="9.0" height="8.6"/><rect x="481.5" y="2281.8" width="9.0" height="8.6"/><rect x="497.1" y="2281.8" width="9.0" height="8.6"/><rect x="512.7" y="2281.8" width="9.0" height="8.6"/><rect x="481.5" y="2289.7" width="9.0" height="8.6"/><rect x="497.1" y="2289.7" width="9.0" height="8.6"/><rect x="512.7" y="2289.7" width="9.0" height="8.6"/><rect x="481.5" y="2297.7" width="9.0" height="8.6"/><rect x="497.1" y="2297.7" width="9.0" height="8.6"/><rect x="512.7" y="2297.7" width="9.0" height="8.6"/><rect x="481.5" y="2305.6" width="9.0" height="8.6"/><rect x="497.1" y="2305.6" width="9.0" height="8.6"/><rect x="512.7" y="2305.6" width="9.0" height="8.6"/><rect x="481.5" y="2313.6" width="9.0" height="8.6"/><rect x="497.1" y="2313.6" width="9.0" height="8.6"/><rect x="512.7" y="2313.6" width="9.0" height="8.6"/><rect x="542.3" y="2242.0" width="24.6" height="8.6"/><rect x="534.5" y="2249.9" width="9.0" height="8.6"/><rect x="565.7" y="2249.9" width="9.0" height="8.6"/><rect x="534.5" y="2257.9" width="9.0" height="8.6"/><rect x="565.7" y="2257.9" width="9.0" height="8.6"/><rect x="534.5" y="2265.8" width="9.0" height="8.6"/><rect x="565.7" y="2265.8" width="9.0" height="8.6"/><rect x="534.5" y="2273.8" width="9.0" height="8.6"/><rect x="565.7" y="2273.8" width="9.0" height="8.6"/><rect x="534.5" y="2281.8" width="9.0" height="8.6"/><rect x="565.7" y="2281.8" width="9.0" height="8.6"/><rect x="534.5" y="2289.7" width="9.0" height="8.6"/><rect x="565.7" y="2289.7" width="9.0" height="8.6"/><rect x="534.5" y="2297.7" width="9.0" height="8.6"/><rect x="565.7" y="2297.7" width="9.0" height="8.6"/><rect x="534.5" y="2305.6" width="9.0" height="8.6"/><rect x="565.7" y="2305.6" width="9.0" height="8.6"/><rect x="542.3" y="2313.6" width="24.6" height="8.6"/><rect x="587.5" y="2273.8" width="16.8" height="8.6"/><rect x="587.5" y="2281.8" width="16.8" height="8.6"/><rect x="645.8" y="2242.0" width="9.0" height="8.6"/><rect x="645.8" y="2249.9" width="9.0" height="8.6"/><rect x="645.8" y="2257.9" width="9.0" height="8.6"/><rect x="645.8" y="2265.8" width="9.0" height="8.6"/><rect x="645.8" y="2273.8" width="9.0" height="8.6"/><rect x="645.8" y="2281.8" width="9.0" height="8.6"/><rect x="645.8" y="2289.7" width="9.0" height="8.6"/><rect x="614.6" y="2297.7" width="9.0" height="8.6"/><rect x="645.8" y="2297.7" width="9.0" height="8.6"/><rect x="614.6" y="2305.6" width="9.0" height="8.6"/><rect x="645.8" y="2305.6" width="9.0" height="8.6"/><rect x="622.4" y="2313.6" width="24.6" height="8.6"/><rect x="667.0" y="2242.0" width="40.2" height="8.6"/><rect x="667.0" y="2249.9" width="9.0" height="8.6"/><rect x="667.0" y="2257.9" width="9.0" height="8.6"/><rect x="667.0" y="2265.8" width="9.0" height="8.6"/><rect x="667.0" y="2273.8" width="32.4" height="8.6"/><rect x="667.0" y="2281.8" width="9.0" height="8.6"/><rect x="667.0" y="2289.7" width="9.0" height="8.6"/><rect x="667.0" y="2297.7" width="9.0" height="8.6"/><rect x="667.0" y="2305.6" width="9.0" height="8.6"/><rect x="667.0" y="2313.6" width="40.2" height="8.6"/><rect x="709.0" y="2242.0" width="40.2" height="8.6"/><rect x="724.6" y="2249.9" width="9.0" height="8.6"/><rect x="724.6" y="2257.9" width="9.0" height="8.6"/><rect x="724.6" y="2265.8" width="9.0" height="8.6"/><rect x="724.6" y="2273.8" width="9.0" height="8.6"/><rect x="724.6" y="2281.8" width="9.0" height="8.6"/><rect x="724.6" y="2289.7" width="9.0" height="8.6"/><rect x="724.6" y="2297.7" width="9.0" height="8.6"/><rect x="724.6" y="2305.6" width="9.0" height="8.6"/><rect x="724.6" y="2313.6" width="9.0" height="8.6"/><rect x="763.8" y="2242.0" width="32.4" height="8.6"/><rect x="756.0" y="2249.9" width="9.0" height="8.6"/><rect x="756.0" y="2257.9" width="9.0" height="8.6"/><rect x="756.0" y="2265.8" width="9.0" height="8.6"/><rect x="763.8" y="2273.8" width="24.6" height="8.6"/><rect x="787.2" y="2281.8" width="9.0" height="8.6"/><rect x="787.2" y="2289.7" width="9.0" height="8.6"/><rect x="787.2" y="2297.7" width="9.0" height="8.6"/><rect x="787.2" y="2305.6" width="9.0" height="8.6"/><rect x="756.0" y="2313.6" width="32.4" height="8.6"/><rect x="808.0" y="2242.0" width="9.0" height="8.6"/><rect x="839.2" y="2242.0" width="9.0" height="8.6"/><rect x="808.0" y="2249.9" width="9.0" height="8.6"/><rect x="839.2" y="2249.9" width="9.0" height="8.6"/><rect x="808.0" y="2257.9" width="9.0" height="8.6"/><rect x="831.4" y="2257.9" width="9.0" height="8.6"/><rect x="808.0" y="2265.8" width="9.0" height="8.6"/><rect x="831.4" y="2265.8" width="9.0" height="8.6"/><rect x="808.0" y="2273.8" width="24.6" height="8.6"/><rect x="808.0" y="2281.8" width="9.0" height="8.6"/><rect x="831.4" y="2281.8" width="9.0" height="8.6"/><rect x="808.0" y="2289.7" width="9.0" height="8.6"/><rect x="831.4" y="2289.7" width="9.0" height="8.6"/><rect x="808.0" y="2297.7" width="9.0" height="8.6"/><rect x="839.2" y="2297.7" width="9.0" height="8.6"/><rect x="808.0" y="2305.6" width="9.0" height="8.6"/><rect x="839.2" y="2305.6" width="9.0" height="8.6"/><rect x="808.0" y="2313.6" width="9.0" height="8.6"/><rect x="839.2" y="2313.6" width="9.0" height="8.6"/><rect x="863.0" y="2242.0" width="9.0" height="8.6"/><rect x="863.0" y="2249.9" width="9.0" height="8.6"/><rect x="863.0" y="2257.9" width="9.0" height="8.6"/><rect x="863.0" y="2265.8" width="9.0" height="8.6"/><rect x="863.0" y="2273.8" width="9.0" height="8.6"/><rect x="863.0" y="2281.8" width="9.0" height="8.6"/><rect x="863.0" y="2289.7" width="9.0" height="8.6"/><rect x="863.0" y="2297.7" width="9.0" height="8.6"/><rect x="863.0" y="2305.6" width="9.0" height="8.6"/><rect x="863.0" y="2313.6" width="9.0" height="8.6"/><rect x="880.0" y="2305.6" width="9.0" height="8.6"/><rect x="880.0" y="2313.6" width="9.0" height="8.6"/><rect x="903.8" y="2242.0" width="32.4" height="8.6"/><rect x="896.0" y="2249.9" width="9.0" height="8.6"/><rect x="896.0" y="2257.9" width="9.0" height="8.6"/><rect x="896.0" y="2265.8" width="9.0" height="8.6"/><rect x="896.0" y="2273.8" width="9.0" height="8.6"/><rect x="896.0" y="2281.8" width="9.0" height="8.6"/><rect x="896.0" y="2289.7" width="9.0" height="8.6"/><rect x="896.0" y="2297.7" width="9.0" height="8.6"/><rect x="896.0" y="2305.6" width="9.0" height="8.6"/><rect x="903.8" y="2313.6" width="32.4" height="8.6"/><rect x="955.8" y="2242.0" width="24.6" height="8.6"/><rect x="948.0" y="2249.9" width="9.0" height="8.6"/><rect x="979.2" y="2249.9" width="9.0" height="8.6"/><rect x="948.0" y="2257.9" width="9.0" height="8.6"/><rect x="979.2" y="2257.9" width="9.0" height="8.6"/><rect x="948.0" y="2265.8" width="9.0" height="8.6"/><rect x="979.2" y="2265.8" width="9.0" height="8.6"/><rect x="948.0" y="2273.8" width="9.0" height="8.6"/><rect x="979.2" y="2273.8" width="9.0" height="8.6"/><rect x="948.0" y="2281.8" width="9.0" height="8.6"/><rect x="979.2" y="2281.8" width="9.0" height="8.6"/><rect x="948.0" y="2289.7" width="9.0" height="8.6"/><rect x="979.2" y="2289.7" width="9.0" height="8.6"/><rect x="948.0" y="2297.7" width="9.0" height="8.6"/><rect x="979.2" y="2297.7" width="9.0" height="8.6"/><rect x="948.0" y="2305.6" width="9.0" height="8.6"/><rect x="979.2" y="2305.6" width="9.0" height="8.6"/><rect x="955.8" y="2313.6" width="24.6" height="8.6"/><rect x="995.0" y="2242.0" width="40.2" height="8.6"/><rect x="995.0" y="2249.9" width="9.0" height="8.6"/><rect x="1010.6" y="2249.9" width="9.0" height="8.6"/><rect x="1026.2" y="2249.9" width="9.0" height="8.6"/><rect x="995.0" y="2257.9" width="9.0" height="8.6"/><rect x="1010.6" y="2257.9" width="9.0" height="8.6"/><rect x="1026.2" y="2257.9" width="9.0" height="8.6"/><rect x="995.0" y="2265.8" width="9.0" height="8.6"/><rect x="1010.6" y="2265.8" width="9.0" height="8.6"/><rect x="1026.2" y="2265.8" width="9.0" height="8.6"/><rect x="995.0" y="2273.8" width="9.0" height="8.6"/><rect x="1010.6" y="2273.8" width="9.0" height="8.6"/><rect x="1026.2" y="2273.8" width="9.0" height="8.6"/><rect x="995.0" y="2281.8" width="9.0" height="8.6"/><rect x="1010.6" y="2281.8" width="9.0" height="8.6"/><rect x="1026.2" y="2281.8" width="9.0" height="8.6"/><rect x="995.0" y="2289.7" width="9.0" height="8.6"/><rect x="1010.6" y="2289.7" width="9.0" height="8.6"/><rect x="1026.2" y="2289.7" width="9.0" height="8.6"/><rect x="995.0" y="2297.7" width="9.0" height="8.6"/><rect x="1010.6" y="2297.7" width="9.0" height="8.6"/><rect x="1026.2" y="2297.7" width="9.0" height="8.6"/><rect x="995.0" y="2305.6" width="9.0" height="8.6"/><rect x="1010.6" y="2305.6" width="9.0" height="8.6"/><rect x="1026.2" y="2305.6" width="9.0" height="8.6"/><rect x="995.0" y="2313.6" width="9.0" height="8.6"/><rect x="1010.6" y="2313.6" width="9.0" height="8.6"/><rect x="1026.2" y="2313.6" width="9.0" height="8.6"/></g>
<g fill="#cccccc"><rect x="1108.5" y="2234.4" width="32.4" height="8.6"/><rect x="1108.5" y="2242.3" width="9.0" height="8.6"/><rect x="1139.7" y="2242.3" width="9.0" height="8.6"/><rect x="1108.5" y="2250.3" width="9.0" height="8.6"/><rect x="1139.7" y="2250.3" width="9.0" height="8.6"/><rect x="1108.5" y="2258.2" width="9.0" height="8.6"/><rect x="1139.7" y="2258.2" width="9.0" height="8.6"/><rect x="1108.5" y="2266.2" width="9.0" height="8.6"/><rect x="1139.7" y="2266.2" width="9.0" height="8.6"/><rect x="1108.5" y="2274.2" width="32.4" height="8.6"/><rect x="1108.5" y="2282.1" width="9.0" height="8.6"/><rect x="1108.5" y="2290.1" width="9.0" height="8.6"/><rect x="1108.5" y="2298.0" width="9.0" height="8.6"/><rect x="1108.5" y="2306.0" width="9.0" height="8.6"/><rect x="1158.0" y="2234.4" width="32.4" height="8.6"/><rect x="1158.0" y="2242.3" width="9.0" height="8.6"/><rect x="1189.2" y="2242.3" width="9.0" height="8.6"/><rect x="1158.0" y="2250.3" width="9.0" height="8.6"/><rect x="1189.2" y="2250.3" width="9.0" height="8.6"/><rect x="1158.0" y="2258.2" width="9.0" height="8.6"/><rect x="1189.2" y="2258.2" width="9.0" height="8.6"/><rect x="1158.0" y="2266.2" width="9.0" height="8.6"/><rect x="1189.2" y="2266.2" width="9.0" height="8.6"/><rect x="1158.0" y="2274.2" width="32.4" height="8.6"/><rect x="1158.0" y="2282.1" width="9.0" height="8.6"/><rect x="1189.2" y="2282.1" width="9.0" height="8.6"/><rect x="1158.0" y="2290.1" width="9.0" height="8.6"/><rect x="1189.2" y="2290.1" width="9.0" height="8.6"/><rect x="1158.0" y="2298.0" width="9.0" height="8.6"/><rect x="1189.2" y="2298.0" width="9.0" height="8.6"/><rect x="1158.0" y="2306.0" width="9.0" height="8.6"/><rect x="1189.2" y="2306.0" width="9.0" height="8.6"/><rect x="1213.8" y="2229.4" width="24.6" height="8.6"/><rect x="1206.0" y="2237.3" width="9.0" height="8.6"/><rect x="1237.2" y="2237.3" width="9.0" height="8.6"/><rect x="1206.0" y="2245.3" width="9.0" height="8.6"/><rect x="1237.2" y="2245.3" width="9.0" height="8.6"/><rect x="1206.0" y="2253.2" width="9.0" height="8.6"/><rect x="1237.2" y="2253.2" width="9.0" height="8.6"/><rect x="1206.0" y="2261.2" width="9.0" height="8.6"/><rect x="1237.2" y="2261.2" width="9.0" height="8.6"/><rect x="1206.0" y="2269.2" width="9.0" height="8.6"/><rect x="1237.2" y="2269.2" width="9.0" height="8.6"/><rect x="1206.0" y="2277.1" width="9.0" height="8.6"/><rect x="1237.2" y="2277.1" width="9.0" height="8.6"/><rect x="1206.0" y="2285.1" width="9.0" height="8.6"/><rect x="1237.2" y="2285.1" width="9.0" height="8.6"/><rect x="1206.0" y="2293.0" width="9.0" height="8.6"/><rect x="1237.2" y="2293.0" width="9.0" height="8.6"/><rect x="1213.8" y="2301.0" width="24.6" height="8.6"/><rect x="1259.0" y="2229.4" width="40.2" height="8.6"/><rect x="1259.0" y="2237.3" width="9.0" height="8.6"/><rect x="1274.6" y="2237.3" width="9.0" height="8.6"/><rect x="1290.2" y="2237.3" width="9.0" height="8.6"/><rect x="1259.0" y="2245.3" width="9.0" height="8.6"/><rect x="1274.6" y="2245.3" width="9.0" height="8.6"/><rect x="1290.2" y="2245.3" width="9.0" height="8.6"/><rect x="1259.0" y="2253.2" width="9.0" height="8.6"/><rect x="1274.6" y="2253.2" width="9.0" height="8.6"/><rect x="1290.2" y="2253.2" width="9.0" height="8.6"/><rect x="1259.0" y="2261.2" width="9.0" height="8.6"/><rect x="1274.6" y="2261.2" width="9.0" height="8.6"/><rect x="1290.2" y="2261.2" width="9.0" height="8.6"/><rect x="1259.0" y="2269.2" width="9.0" height="8.6"/><rect x="1274.6" y="2269.2" width="9.0" height="8.6"/><rect x="1290.2" y="2269.2" width="9.0" height="8.6"/><rect x="1259.0" y="2277.1" width="9.0" height="8.6"/><rect x="1274.6" y="2277.1" width="9.0" height="8.6"/><rect x="1290.2" y="2277.1" width="9.0" height="8.6"/><rect x="1259.0" y="2285.1" width="9.0" height="8.6"/><rect x="1274.6" y="2285.1" width="9.0" height="8.6"/><rect x="1290.2" y="2285.1" width="9.0" height="8.6"/><rect x="1259.0" y="2293.0" width="9.0" height="8.6"/><rect x="1274.6" y="2293.0" width="9.0" height="8.6"/><rect x="1290.2" y="2293.0" width="9.0" height="8.6"/><rect x="1259.0" y="2301.0" width="9.0" height="8.6"/><rect x="1274.6" y="2301.0" width="9.0" height="8.6"/><rect x="1290.2" y="2301.0" width="9.0" height="8.6"/><rect x="1319.8" y="2229.4" width="24.6" height="8.6"/><rect x="1312.0" y="2237.3" width="9.0" height="8.6"/><rect x="1343.2" y="2237.3" width="9.0" height="8.6"/><rect x="1312.0" y="2245.3" width="9.0" height="8.6"/><rect x="1343.2" y="2245.3" width="9.0" height="8.6"/><rect x="1312.0" y="2253.2" width="9.0" height="8.6"/><rect x="1343.2" y="2253.2" width="9.0" height="8.6"/><rect x="1312.0" y="2261.2" width="9.0" height="8.6"/><rect x="1343.2" y="2261.2" width="9.0" height="8.6"/><rect x="1312.0" y="2269.2" width="9.0" height="8.6"/><rect x="1343.2" y="2269.2" width="9.0" height="8.6"/><rect x="1312.0" y="2277.1" width="9.0" height="8.6"/><rect x="1343.2" y="2277.1" width="9.0" height="8.6"/><rect x="1312.0" y="2285.1" width="9.0" height="8.6"/><rect x="1343.2" y="2285.1" width="9.0" height="8.6"/><rect x="1312.0" y="2293.0" width="9.0" height="8.6"/><rect x="1343.2" y="2293.0" width="9.0" height="8.6"/><rect x="1319.8" y="2301.0" width="24.6" height="8.6"/><rect x="1365.0" y="2261.2" width="16.8" height="8.6"/><rect x="1365.0" y="2269.2" width="16.8" height="8.6"/><rect x="1423.3" y="2229.4" width="9.0" height="8.6"/><rect x="1423.3" y="2237.3" width="9.0" height="8.6"/><rect x="1423.3" y="2245.3" width="9.0" height="8.6"/><rect x="1423.3" y="2253.2" width="9.0" height="8.6"/><rect x="1423.3" y="2261.2" width="9.0" height="8.6"/><rect x="1423.3" y="2269.2" width="9.0" height="8.6"/><rect x="1423.3" y="2277.1" width="9.0" height="8.6"/><rect x="1392.1" y="2285.1" width="9.0" height="8.6"/><rect x="1423.3" y="2285.1" width="9.0" height="8.6"/><rect x="1392.1" y="2293.0" width="9.0" height="8.6"/><rect x="1423.3" y="2293.0" width="9.0" height="8.6"/><rect x="1399.9" y="2301.0" width="24.6" height="8.6"/><rect x="1444.5" y="2229.4" width="40.2" height="8.6"/><rect x="1444.5" y="2237.3" width="9.0" height="8.6"/><rect x="1444.5" y="2245.3" width="9.0" height="8.6"/><rect x="1444.5" y="2253.2" width="9.0" height="8.6"/><rect x="1444.5" y="2261.2" width="32.4" height="8.6"/><rect x="1444.5" y="2269.2" width="9.0" height="8.6"/><rect x="1444.5" y="2277.1" width="9.0" height="8.6"/><rect x="1444.5" y="2285.1" width="9.0" height="8.6"/><rect x="1444.5" y="2293.0" width="9.0" height="8.6"/><rect x="1444.5" y="2301.0" width="40.2" height="8.6"/><rect x="1486.5" y="2229.4" width="40.2" height="8.6"/><rect x="1502.1" y="2237.3" width="9.0" height="8.6"/><rect x="1502.1" y="2245.3" width="9.0" height="8.6"/><rect x="1502.1" y="2253.2" width="9.0" height="8.6"/><rect x="1502.1" y="2261.2" width="9.0" height="8.6"/><rect x="1502.1" y="2269.2" width="9.0" height="8.6"/><rect x="1502.1" y="2277.1" width="9.0" height="8.6"/><rect x="1502.1" y="2285.1" width="9.0" height="8.6"/><rect x="1502.1" y="2293.0" width="9.0" height="8.6"/><rect x="1502.1" y="2301.0" width="9.0" height="8.6"/><rect x="1541.3" y="2229.4" width="32.4" height="8.6"/><rect x="1533.5" y="2237.3" width="9.0" height="8.6"/><rect x="1533.5" y="2245.3" width="9.0" height="8.6"/><rect x="1533.5" y="2253.2" width="9.0" height="8.6"/><rect x="1541.3" y="2261.2" width="24.6" height="8.6"/><rect x="1564.7" y="2269.2" width="9.0" height="8.6"/><rect x="1564.7" y="2277.1" width="9.0" height="8.6"/><rect x="1564.7" y="2285.1" width="9.0" height="8.6"/><rect x="1564.7" y="2293.0" width="9.0" height="8.6"/><rect x="1533.5" y="2301.0" width="32.4" height="8.6"/><rect x="1585.5" y="2229.4" width="9.0" height="8.6"/><rect x="1616.7" y="2229.4" width="9.0" height="8.6"/><rect x="1585.5" y="2237.3" width="9.0" height="8.6"/><rect x="1616.7" y="2237.3" width="9.0" height="8.6"/><rect x="1585.5" y="2245.3" width="9.0" height="8.6"/><rect x="1608.9" y="2245.3" width="9.0" height="8.6"/><rect x="1585.5" y="2253.2" width="9.0" height="8.6"/><rect x="1608.9" y="2253.2" width="9.0" height="8.6"/><rect x="1585.5" y="2261.2" width="24.6" height="8.6"/><rect x="1585.5" y="2269.2" width="9.0" height="8.6"/><rect x="1608.9" y="2269.2" width="9.0" height="8.6"/><rect x="1585.5" y="2277.1" width="9.0" height="8.6"/><rect x="1608.9" y="2277.1" width="9.0" height="8.6"/><rect x="1585.5" y="2285.1" width="9.0" height="8.6"/><rect x="1616.7" y="2285.1" width="9.0" height="8.6"/><rect x="1585.5" y="2293.0" width="9.0" height="8.6"/><rect x="1616.7" y="2293.0" width="9.0" height="8.6"/><rect x="1585.5" y="2301.0" width="9.0" height="8.6"/><rect x="1616.7" y="2301.0" width="9.0" height="8.6"/><rect x="1640.5" y="2229.4" width="9.0" height="8.6"/><rect x="1640.5" y="2237.3" width="9.0" height="8.6"/><rect x="1640.5" y="2245.3" width="9.0" height="8.6"/><rect x="1640.5" y="2253.2" width="9.0" height="8.6"/><rect x="1640.5" y="2261.2" width="9.0" height="8.6"/><rect x="1640.5" y="2269.2" width="9.0" height="8.6"/><rect x="1640.5" y="2277.1" width="9.0" height="8.6"/><rect x="1640.5" y="2285.1" width="9.0" height="8.6"/><rect x="1640.5" y="2293.0" width="9.0" height="8.6"/><rect x="1640.5" y="2301.0" width="9.0" height="8.6"/><rect x="1657.5" y="2293.0" width="9.0" height="8.6"/><rect x="1657.5" y="2301.0" width="9.0" height="8.6"/><rect x="1681.3" y="2229.4" width="32.4" height="8.6"/><rect x="1673.5" y="2237.3" width="9.0" height="8.6"/><rect x="1673.5" y="2245.3" width="9.0" height="8.6"/><rect x="1673.5" y="2253.2" width="9.0" height="8.6"/><rect x="1673.5" y="2261.2" width="9.0" height="8.6"/><rect x="1673.5" y="2269.2" width="9.0" height="8.6"/><rect x="1673.5" y="2277.1" width="9.0" height="8.6"/><rect x="1673.5" y="2285.1" width="9.0" height="8.6"/><rect x="1673.5" y="2293.0" width="9.0" height="8.6"/><rect x="1681.3" y="2301.0" width="32.4" height="8.6"/><rect x="1733.3" y="2229.4" width="24.6" height="8.6"/><rect x="1725.5" y="2237.3" width="9.0" height="8.6"/><rect x="1756.7" y="2237.3" width="9.0" height="8.6"/><rect x="1725.5" y="2245.3" width="9.0" height="8.6"/><rect x="1756.7" y="2245.3" width="9.0" height="8.6"/><rect x="1725.5" y="2253.2" width="9.0" height="8.6"/><rect x="1756.7" y="2253.2" width="9.0" height="8.6"/><rect x="1725.5" y="2261.2" width="9.0" height="8.6"/><rect x="1756.7" y="2261.2" width="9.0" height="8.6"/><rect x="1725.5" y="2269.2" width="9.0" height="8.6"/><rect x="1756.7" y="2269.2" width="9.0" height="8.6"/><rect x="1725.5" y="2277.1" width="9.0" height="8.6"/><rect x="1756.7" y="2277.1" width="9.0" height="8.6"/><rect x="1725.5" y="2285.1" width="9.0" height="8.6"/><rect x="1756.7" y="2285.1" width="9.0" height="8.6"/><rect x="1725.5" y="2293.0" width="9.0" height="8.6"/><rect x="1756.7" y="2293.0" width="9.0" height="8.6"/><rect x="1733.3" y="2301.0" width="24.6" height="8.6"/><rect x="1772.5" y="2229.4" width="40.2" height="8.6"/><rect x="1772.5" y="2237.3" width="9.0" height="8.6"/><rect x="1788.1" y="2237.3" width="9.0" height="8.6"/><rect x="1803.7" y="2237.3" width="9.0" height="8.6"/><rect x="1772.5" y="2245.3" width="9.0" height="8.6"/><rect x="1788.1" y="2245.3" width="9.0" height="8.6"/><rect x="1803.7" y="2245.3" width="9.0" height="8.6"/><rect x="1772.5" y="2253.2" width="9.0" height="8.6"/><rect x="1788.1" y="2253.2" width="9.0" height="8.6"/><rect x="1803.7" y="2253.2" width="9.0" height="8.6"/><rect x="1772.5" y="2261.2" width="9.0" height="8.6"/><rect x="1788.1" y="2261.2" width="9.0" height="8.6"/><rect x="1803.7" y="2261.2" width="9.0" height="8.6"/><rect x="1772.5" y="2269.2" width="9.0" height="8.6"/><rect x="1788.1" y="2269.2" width="9.0" height="8.6"/><rect x="1803.7" y="2269.2" width="9.0" height="8.6"/><rect x="1772.5" y="2277.1" width="9.0" height="8.6"/><rect x="1788.1" y="2277.1" width="9.0" height="8.6"/><rect x="1803.7" y="2277.1" width="9.0" height="8.6"/><rect x="1772.5" y="2285.1" width="9.0" height="8.6"/><rect x="1788.1" y="2285.1" width="9.0" height="8.6"/><rect x="1803.7" y="2285.1" width="9.0" height="8.6"/><rect x="1772.5" y="2293.0" width="9.0" height="8.6"/><rect x="1788.1" y="2293.0" width="9.0" height="8.6"/><rect x="1803.7" y="2293.0" width="9.0" height="8.6"/><rect x="1772.5" y="2301.0" width="9.0" height="8.6"/><rect x="1788.1" y="2301.0" width="9.0" height="8.6"/><rect x="1803.7" y="2301.0" width="9.0" height="8.6"/></g>
<g fill="#cccccc"><rect x="1884.6" y="2228.0" width="32.4" height="8.6"/><rect x="1884.6" y="2235.9" width="9.0" height="8.6"/><rect x="1915.8" y="2235.9" width="9.0" height="8.6"/><rect x="1884.6" y="2243.9" width="9.0" height="8.6"/><rect x="1915.8" y="2243.9" width="9.0" height="8.6"/><rect x="1884.6" y="2251.8" width="9.0" height="8.6"/><rect x="1915.8" y="2251.8" width="9.0" height="8.6"/><rect x="1884.6" y="2259.8" width="9.0" height="8.6"/><rect x="1915.8" y="2259.8" width="9.0" height="8.6"/><rect x="1884.6" y="2267.8" width="32.4" height="8.6"/><rect x="1884.6" y="2275.7" width="9.0" height="8.6"/><rect x="1884.6" y="2283.7" width="9.0" height="8.6"/><rect x="1884.6" y="2291.6" width="9.0" height="8.6"/><rect x="1884.6" y="2299.6" width="9.0" height="8.6"/><rect x="1934.1" y="2228.0" width="32.4" height="8.6"/><rect x="1934.1" y="2235.9" width="9.0" height="8.6"/><rect x="1965.3" y="2235.9" width="9.0" height="8.6"/><rect x="1934.1" y="2243.9" width="9.0" height="8.6"/><rect x="1965.3" y="2243.9" width="9.0" height="8.6"/><rect x="1934.1" y="2251.8" width="9.0" height="8.6"/><rect x="1965.3" y="2251.8" width="9.0" height="8.6"/><rect x="1934.1" y="2259.8" width="9.0" height="8.6"/><rect x="1965.3" y="2259.8" width="9.0" height="8.6"/><rect x="1934.1" y="2267.8" width="32.4" height="8.6"/><rect x="1934.1" y="2275.7" width="9.0" height="8.6"/><rect x="1965.3" y="2275.7" width="9.0" height="8.6"/><rect x="1934.1" y="2283.7" width="9.0" height="8.6"/><rect x="1965.3" y="2283.7" width="9.0" height="8.6"/><rect x="1934.1" y="2291.6" width="9.0" height="8.6"/><rect x="1965.3" y="2291.6" width="9.0" height="8.6"/><rect x="1934.1" y="2299.6" width="9.0" height="8.6"/><rect x="1965.3" y="2299.6" width="9.0" height="8.6"/><rect x="1989.9" y="2223.0" width="24.6" height="8.6"/><rect x="1982.1" y="2230.9" width="9.0" height="8.6"/><rect x="2013.3" y="2230.9" width="9.0" height="8.6"/><rect x="1982.1" y="2238.9" width="9.0" height="8.6"/><rect x="2013.3" y="2238.9" width="9.0" height="8.6"/><rect x="1982.1" y="2246.8" width="9.0" height="8.6"/><rect x="2013.3" y="2246.8" width="9.0" height="8.6"/><rect x="1982.1" y="2254.8" width="9.0" height="8.6"/><rect x="2013.3" y="2254.8" width="9.0" height="8.6"/><rect x="1982.1" y="2262.8" width="9.0" height="8.6"/><rect x="2013.3" y="2262.8" width="9.0" height="8.6"/><rect x="1982.1" y="2270.7" width="9.0" height="8.6"/><rect x="2013.3" y="2270.7" width="9.0" height="8.6"/><rect x="1982.1" y="2278.7" width="9.0" height="8.6"/><rect x="2013.3" y="2278.7" width="9.0" height="8.6"/><rect x="1982.1" y="2286.6" width="9.0" height="8.6"/><rect x="2013.3" y="2286.6" width="9.0" height="8.6"/><rect x="1989.9" y="2294.6" width="24.6" height="8.6"/><rect x="2035.1" y="2223.0" width="40.2" height="8.6"/><rect x="2035.1" y="2230.9" width="9.0" height="8.6"/><rect x="2050.7" y="2230.9" width="9.0" height="8.6"/><rect x="2066.3" y="2230.9" width="9.0" height="8.6"/><rect x="2035.1" y="2238.9" width="9.0" height="8.6"/><rect x="2050.7" y="2238.9" width="9.0" height="8.6"/><rect x="2066.3" y="2238.9" width="9.0" height="8.6"/><rect x="2035.1" y="2246.8" width="9.0" height="8.6"/><rect x="2050.7" y="2246.8" width="9.0" height="8.6"/><rect x="2066.3" y="2246.8" width="9.0" height="8.6"/><rect x="2035.1" y="2254.8" width="9.0" height="8.6"/><rect x="2050.7" y="2254.8" width="9.0" height="8.6"/><rect x="2066.3" y="2254.8" width="9.0" height="8.6"/><rect x="2035.1" y="2262.8" width="9.0" height="8.6"/><rect x="2050.7" y="2262.8" width="9.0" height="8.6"/><rect x="2066.3" y="2262.8" width="9.0" height="8.6"/><rect x="2035.1" y="2270.7" width="9.0" height="8.6"/><rect x="2050.7" y="2270.7" width="9.0" height="8.6"/><rect x="2066.3" y="2270.7" width="9.0" height="8.6"/><rect x="2035.1" y="2278.7" width="9.0" height="8.6"/><rect x="2050.7" y="2278.7" width="9.0" height="8.6"/><rect x="2066.3" y="2278.7" width="9.0" height="8.6"/><rect x="2035.1" y="2286.6" width="9.0" height="8.6"/><rect x="2050.7" y="2286.6" width="9.0" height="8.6"/><rect x="2066.3" y="2286.6" width="9.0" height="8.6"/><rect x="2035.1" y="2294.6" width="9.0" height="8.6"/><rect x="2050.7" y="2294.6" width="9.0" height="8.6"/><rect x="2066.3" y="2294.6" width="9.0" height="8.6"/><rect x="2095.9" y="2223.0" width="24.6" height="8.6"/><rect x="2088.1" y="2230.9" width="9.0" height="8.6"/><rect x="2119.3" y="2230.9" width="9.0" height="8.6"/><rect x="2088.1" y="2238.9" width="9.0" height="8.6"/><rect x="2119.3" y="2238.9" width="9.0" height="8.6"/><rect x="2088.1" y="2246.8" width="9.0" height="8.6"/><rect x="2119.3" y="2246.8" width="9.0" height="8.6"/><rect x="2088.1" y="2254.8" width="9.0" height="8.6"/><rect x="2119.3" y="2254.8" width="9.0" height="8.6"/><rect x="2088.1" y="2262.8" width="9.0" height="8.6"/><rect x="2119.3" y="2262.8" width="9.0" height="8.6"/><rect x="2088.1" y="2270.7" width="9.0" height="8.6"/><rect x="2119.3" y="2270.7" width="9.0" height="8.6"/><rect x="2088.1" y="2278.7" width="9.0" height="8.6"/><rect x="2119.3" y="2278.7" width="9.0" height="8.6"/><rect x="2088.1" y="2286.6" width="9.0" height="8.6"/><rect x="2119.3" y="2286.6" width="9.0" height="8.6"/><rect x="2095.9" y="2294.6" width="24.6" height="8.6"/><rect x="2141.1" y="2254.8" width="16.8" height="8.6"/><rect x="2141.1" y="2262.8" width="16.8" height="8.6"/><rect x="2199.4" y="2223.0" width="9.0" height="8.6"/><rect x="2199.4" y="2230.9" width="9.0" height="8.6"/><rect x="2199.4" y="2238.9" width="9.0" height="8.6"/><rect x="2199.4" y="2246.8" width="9.0" height="8.6"/><rect x="2199.4" y="2254.8" width="9.0" height="8.6"/><rect x="2199.4" y="2262.8" width="9.0" height="8.6"/><rect x="2199.4" y="2270.7" width="9.0" height="8.6"/><rect x="2168.2" y="2278.7" width="9.0" height="8.6"/><rect x="2199.4" y="2278.7" width="9.0" height="8.6"/><rect x="2168.2" y="2286.6" width="9.0" height="8.6"/><rect x="2199.4" y="2286.6" width="9.0" height="8.6"/><rect x="2176.0" y="2294.6" width="24.6" height="8.6"/><rect x="2220.6" y="2223.0" width="40.2" height="8.6"/><rect x="2220.6" y="2230.9" width="9.0" height="8.6"/><rect x="2220.6" y="2238.9" width="9.0" height="8.6"/><rect x="2220.6" y="2246.8" width="9.0" height="8.6"/><rect x="2220.6" y="2254.8" width="32.4" height="8.6"/><rect x="2220.6" y="2262.8" width="9.0" height="8.6"/><rect x="2220.6" y="2270.7" width="9.0" height="8.6"/><rect x="2220.6" y="2278.7" width="9.0" height="8.6"/><rect x="2220.6" y="2286.6" width="9.0" height="8.6"/><rect x="2220.6" y="2294.6" width="40.2" height="8.6"/><rect x="2262.6" y="2223.0" width="40.2" height="8.6"/><rect x="2278.2" y="2230.9" width="9.0" height="8.6"/><rect x="2278.2" y="2238.9" width="9.0" height="8.6"/><rect x="2278.2" y="2246.8" width="9.0" height="8.6"/><rect x="2278.2" y="2254.8" width="9.0" height="8.6"/><rect x="2278.2" y="2262.8" width="9.0" height="8.6"/><rect x="2278.2" y="2270.7" width="9.0" height="8.6"/><rect x="2278.2" y="2278.7" width="9.0" height="8.6"/><rect x="2278.2" y="2286.6" width="9.0" height="8.6"/><rect x="2278.2" y="2294.6" width="9.0" height="8.6"/><rect x="2317.4" y="2223.0" width="32.4" height="8.6"/><rect x="2309.6" y="2230.9" width="9.0" height="8.6"/><rect x="2309.6" y="2238.9" width="9.0" height="8.6"/><rect x="2309.6" y="2246.8" width="9.0" height="8.6"/><rect x="2317.4" y="2254.8" width="24.6" height="8.6"/><rect x="2340.8" y="2262.8" width="9.0" height="8.6"/><rect x="2340.8" y="2270.7" width="9.0" height="8.6"/><rect x="2340.8" y="2278.7" width="9.0" height="8.6"/><rect x="2340.8" y="2286.6" width="9.0" height="8.6"/><rect x="2309.6" y="2294.6" width="32.4" height="8.6"/><rect x="2361.6" y="2223.0" width="9.0" height="8.6"/><rect x="2392.8" y="2223.0" width="9.0" height="8.6"/><rect x="2361.6" y="2230.9" width="9.0" height="8.6"/><rect x="2392.8" y="2230.9" width="9.0" height="8.6"/><rect x="2361.6" y="2238.9" width="9.0" height="8.6"/><rect x="2385.0" y="2238.9" width="9.0" height="8.6"/><rect x="2361.6" y="2246.8" width="9.0" height="8.6"/><rect x="2385.0" y="2246.8" width="9.0" height="8.6"/><rect x="2361.6" y="2254.8" width="24.6" height="8.6"/><rect x="2361.6" y="2262.8" width="9.0" height="8.6"/><rect x="2385.0" y="2262.8" width="9.0" height="8.6"/><rect x="2361.6" y="2270.7" width="9.0" height="8.6"/><rect x="2385.0" y="2270.7" width="9.0" height="8.6"/><rect x="2361.6" y="2278.7" width="9.0" height="8.6"/><rect x="2392.8" y="2278.7" width="9.0" height="8.6"/><rect x="2361.6" y="2286.6" width="9.0" height="8.6"/><rect x="2392.8" y="2286.6" width="9.0" height="8.6"/><rect x="2361.6" y="2294.6" width="9.0" height="8.6"/><rect x="2392.8" y="2294.6" width="9.0" height="8.6"/><rect x="2416.6" y="2223.0" width="9.0" height="8.6"/><rect x="2416.6" y="2230.9" width="9.0" height="8.6"/><rect x="2416.6" y="2238.9" width="9.0" height="8.6"/><rect x="2416.6" y="2246.8" width="9.0" height="8.6"/><rect x="2416.6" y="2254.8" width="9.0" height="8.6"/><rect x="2416.6" y="2262.8" width="9.0" height="8.6"/><rect x="2416.6" y="2270.7" width="9.0" height="8.6"/><rect x="2416.6" y="2278.7" width="9.0" height="8.6"/><rect x="2416.6" y="2286.6" width="9.0" height="8.6"/><rect x="2416.6" y="2294.6" width="9.0" height="8.6"/><rect x="2433.6" y="2286.6" width="9.0" height="8.6"/><rect x="2433.6" y="2294.6" width="9.0" height="8.6"/><rect x="2457.4" y="2223.0" width="32.4" height="8.6"/><rect x="2449.6" y="2230.9" width="9.0" height="8.6"/><rect x="2449.6" y="2238.9" width="9.0" height="8.6"/><rect x="2449.6" y="2246.8" width="9.0" height="8.6"/><rect x="2449.6" y="2254.8" width="9.0" height="8.6"/><rect x="2449.6" y="2262.8" width="9.0" height="8.6"/><rect x="2449.6" y="2270.7" width="9.0" height="8.6"/><rect x="2449.6" y="2278.7" width="9.0" height="8.6"/><rect x="2449.6" y="2286.6" width="9.0" height="8.6"/><rect x="2457.4" y="2294.6" width="32.4" height="8.6"/><rect x="2509.4" y="2223.0" width="24.6" height="8.6"/><rect x="2501.6" y="2230.9" width="9.0" height="8.6"/><rect x="2532.8" y="2230.9" width="9.0" height="8.6"/><rect x="2501.6" y="2238.9" width="9.0" height="8.6"/><rect x="2532.8" y="2238.9" width="9.0" height="8.6"/><rect x="2501.6" y="2246.8" width="9.0" height="8.6"/><rect x="2532.8" y="2246.8" width="9.0" height="8.6"/><rect x="2501.6" y="2254.8" width="9.0" height="8.6"/><rect x="2532.8" y="2254.8" width="9.0" height="8.6"/><rect x="2501.6" y="2262.8" width="9.0" height="8.6"/><rect x="2532.8" y="2262.8" width="9.0" height="8.6"/><rect x="2501.6" y="2270.7" width="9.0" height="8.6"/><rect x="2532.8" y="2270.7" width="9.0" height="8.6"/><rect x="2501.6" y="2278.7" width="9.0" height="8.6"/><rect x="2532.8" y="2278.7" width="9.0" height="8.6"/><rect x="2501.6" y="2286.6" width="9.0" height="8.6"/><rect x="2532.8" y="2286.6" width="9.0" height="8.6"/><rect x="2509.4" y="2294.6" width="24.6" height="8.6"/><rect x="2548.6" y="2223.0" width="40.2" height="8.6"/><rect x="2548.6" y="2230.9" width="9.0" height="8.6"/><rect x="2564.2" y="2230.9" width="9.0" height="8.6"/><rect x="2579.8" y="2230.9" width="9.0" height="8.6"/><rect x="2548.6" y="2238.9" width="9.0" height="8.6"/><rect x="2564.2" y="2238.9" width="9.0" height="8.6"/><rect x="2579.8" y="2238.9" width="9.0" height="8.6"/><rect x="2548.6" y="2246.8" width="9.0" height="8.6"/><rect x="2564.2" y="2246.8" width="9.0" height="8.6"/><rect x="2579.8" y="2246.8" width="9.0" height="8.6"/><rect x="2548.6" y="2254.8" width="9.0" height="8.6"/><rect x="2564.2" y="2254.8" width="9.0" height="8.6"/><rect x="2579.8" y="2254.8" width="9.0" height="8.6"/><rect x="2548.6" y="2262.8" width="9.0" height="8.6"/><rect x="2564.2" y="2262.8" width="9.0" height="8.6"/><rect x="2579.8" y="2262.8" width="9.0" height="8.6"/><rect x="2548.6" y="2270.7" width="9.0" height="8.6"/><rect x="2564.2" y="2270.7" width="9.0" height="8.6"/><rect x="2579.8" y="2270.7" width="9.0" height="8.6"/><rect x="2548.6" y="2278.7" width="9.0" height="8.6"/><rect x="2564.2" y="2278.7" width="9.0" height="8.6"/><rect x="2579.8" y="2278.7" width="9.0" height="8.6"/><rect x="2548.6" y="2286.6" width="9.0" height="8.6"/><rect x="2564.2" y="2286.6" width="9.0" height="8.6"/><rect x="2579.8" y="2286.6" width="9.0" height="8.6"/><rect x="2548.6" y="2294.6" width="9.0" height="8.6"/><rect x="2564.2" y="2294.6" width="9.0" height="8.6"/><rect x="2579.8" y="2294.6" width="9.0" height="8.6"/></g>
<g fill="#cccccc"><rect x="2680.7" y="2221.8" width="32.4" height="8.6"/><rect x="2680.7" y="2229.8" width="9.0" height="8.6"/><rect x="2711.9" y="2229.8" width="9.0" height="8.6"/><rect x="2680.7" y="2237.7" width="9.0" height="8.6"/><rect x="2711.9" y="2237.7" width="9.0" height="8.6"/><rect x="2680.7" y="2245.7" width="9.0" height="8.6"/><rect x="2711.9" y="2245.7" width="9.0" height="8.6"/><rect x="2680.7" y="2253.6" width="9.0" height="8.6"/><rect x="2711.9" y="2253.6" width="9.0" height="8.6"/><rect x="2680.7" y="2261.6" width="32.4" height="8.6"/><rect x="2680.7" y="2269.5" width="9.0" height="8.6"/><rect x="2680.7" y="2277.5" width="9.0" height="8.6"/><rect x="2680.7" y="2285.4" width="9.0" height="8.6"/><rect x="2680.7" y="2293.4" width="9.0" height="8.6"/><rect x="2730.2" y="2221.8" width="32.4" height="8.6"/><rect x="2730.2" y="2229.8" width="9.0" height="8.6"/><rect x="2761.4" y="2229.8" width="9.0" height="8.6"/><rect x="2730.2" y="2237.7" width="9.0" height="8.6"/><rect x="2761.4" y="2237.7" width="9.0" height="8.6"/><rect x="2730.2" y="2245.7" width="9.0" height="8.6"/><rect x="2761.4" y="2245.7" width="9.0" height="8.6"/><rect x="2730.2" y="2253.6" width="9.0" height="8.6"/><rect x="2761.4" y="2253.6" width="9.0" height="8.6"/><rect x="2730.2" y="2261.6" width="32.4" height="8.6"/><rect x="2730.2" y="2269.5" width="9.0" height="8.6"/><rect x="2761.4" y="2269.5" width="9.0" height="8.6"/><rect x="2730.2" y="2277.5" width="9.0" height="8.6"/><rect x="2761.4" y="2277.5" width="9.0" height="8.6"/><rect x="2730.2" y="2285.4" width="9.0" height="8.6"/><rect x="2761.4" y="2285.4" width="9.0" height="8.6"/><rect x="2730.2" y="2293.4" width="9.0" height="8.6"/><rect x="2761.4" y="2293.4" width="9.0" height="8.6"/><rect x="2786.0" y="2216.8" width="24.6" height="8.6"/><rect x="2778.2" y="2224.8" width="9.0" height="8.6"/><rect x="2809.4" y="2224.8" width="9.0" height="8.6"/><rect x="2778.2" y="2232.7" width="9.0" height="8.6"/><rect x="2809.4" y="2232.7" width="9.0" height="8.6"/><rect x="2778.2" y="2240.7" width="9.0" height="8.6"/><rect x="2809.4" y="2240.7" width="9.0" height="8.6"/><rect x="2778.2" y="2248.6" width="9.0" height="8.6"/><rect x="2809.4" y="2248.6" width="9.0" height="8.6"/><rect x="2778.2" y="2256.6" width="9.0" height="8.6"/><rect x="2809.4" y="2256.6" width="9.0" height="8.6"/><rect x="2778.2" y="2264.5" width="9.0" height="8.6"/><rect x="2809.4" y="2264.5" width="9.0" height="8.6"/><rect x="2778.2" y="2272.5" width="9.0" height="8.6"/><rect x="2809.4" y="2272.5" width="9.0" height="8.6"/><rect x="2778.2" y="2280.4" width="9.0" height="8.6"/><rect x="2809.4" y="2280.4" width="9.0" height="8.6"/><rect x="2786.0" y="2288.4" width="24.6" height="8.6"/><rect x="2831.2" y="2216.8" width="40.2" height="8.6"/><rect x="2831.2" y="2224.8" width="9.0" height="8.6"/><rect x="2846.8" y="2224.8" width="9.0" height="8.6"/><rect x="2862.4" y="2224.8" width="9.0" height="8.6"/><rect x="2831.2" y="2232.7" width="9.0" height="8.6"/><rect x="2846.8" y="2232.7" width="9.0" height="8.6"/><rect x="2862.4" y="2232.7" width="9.0" height="8.6"/><rect x="2831.2" y="2240.7" width="9.0" height="8.6"/><rect x="2846.8" y="2240.7" width="9.0" height="8.6"/><rect x="2862.4" y="2240.7" width="9.0" height="8.6"/><rect x="2831.2" y="2248.6" width="9.0" height="8.6"/><rect x="2846.8" y="2248.6" width="9.0" height="8.6"/><rect x="2862.4" y="2248.6" width="9.0" height="8.6"/><rect x="2831.2" y="2256.6" width="9.0" height="8.6"/><rect x="2846.8" y="2256.6" width="9.0" height="8.6"/><rect x="2862.4" y="2256.6" width="9.0" height="8.6"/><rect x="2831.2" y="2264.5" width="9.0" height="8.6"/><rect x="2846.8" y="2264.5" width="9.0" height="8.6"/><rect x="2862.4" y="2264.5" width="9.0" height="8.6"/><rect x="2831.2" y="2272.5" width="9.0" height="8.6"/><rect x="2846.8" y="2272.5" width="9.0" height="8.6"/><rect x="2862.4" y="2272.5" width="9.0" height="8.6"/><rect x="2831.2" y="2280.4" width="9.0" height="8.6"/><rect x="2846.8" y="2280.4" width="9.0" height="8.6"/><rect x="2862.4" y="2280.4" width="9.0" height="8.6"/><rect x="2831.2" y="2288.4" width="9.0" height="8.6"/><rect x="2846.8" y="2288.4" width="9.0" height="8.6"/><rect x="2862.4" y="2288.4" width="9.0" height="8.6"/><rect x="2892.0" y="2216.8" width="24.6" height="8.6"/><rect x="2884.2" y="2224.8" width="9.0" height="8.6"/><rect x="2915.4" y="2224.8" width="9.0" height="8.6"/><rect x="2884.2" y="2232.7" width="9.0" height="8.6"/><rect x="2915.4" y="2232.7" width="9.0" height="8.6"/><rect x="2884.2" y="2240.7" width="9.0" height="8.6"/><rect x="2915.4" y="2240.7" width="9.0" height="8.6"/><rect x="2884.2" y="2248.6" width="9.0" height="8.6"/><rect x="2915.4" y="2248.6" width="9.0" height="8.6"/><rect x="2884.2" y="2256.6" width="9.0" height="8.6"/><rect x="2915.4" y="2256.6" width="9.0" height="8.6"/><rect x="2884.2" y="2264.5" width="9.0" height="8.6"/><rect x="2915.4" y="2264.5" width="9.0" height="8.6"/><rect x="2884.2" y="2272.5" width="9.0" height="8.6"/><rect x="2915.4" y="2272.5" width="9.0" height="8.6"/><rect x="2884.2" y="2280.4" width="9.0" height="8.6"/><rect x="2915.4" y="2280.4" width="9.0" height="8.6"/><rect x="2892.0" y="2288.4" width="24.6" height="8.6"/><rect x="2937.2" y="2248.6" width="16.8" height="8.6"/><rect x="2937.2" y="2256.6" width="16.8" height="8.6"/><rect x="2964.3" y="2272.5" width="9.0" height="8.6"/><rect x="2964.3" y="2280.4" width="9.0" height="8.6"/><rect x="2972.1" y="2288.4" width="9.1" height="8.6"/></g>
<text x="1011" y="763">34</text>
<text x="1005" y="847">35</text>
<text x="874" y="893">33</text>
<text x="622" y="900">37</text>
<text x="724" y="931">38</text>
<text x="843" y="1006">36</text>
<text x="946" y="1051">38</text>
<text x="1017" y="1108">39</text>
<text x="1317" y="1288">35</text>
<text x="1309" y="1406">34</text>
<text x="2193" y="583">43</text>
<text x="2812" y="886">32</text>
<text x="2133" y="717">26</text>
<text x="2125" y="914">27</text>
<text x="2892" y="1393">42</text>
<text x="2803" y="1541">25</text>
<text x="2793" y="1697">29</text>
<text x="2792" y="1788">28</text>
<text x="2767" y="1888">30</text>
<text x="2328" y="1923">31</text>
<text x="2047" y="1401">21</text>
<text x="1892" y="1490">19</text>
<text x="1768" y="1553">20</text>
<text x="1653" y="1622">18</text>
<text x="1553" y="1679">17</text>
<text x="1456" y="1727">13</text>
<text x="1077" y="1953">16</text>
<text x="667" y="2193">11</text>
<text x="1307" y="1811">12</text>
<text x="2087" y="1286">31</text>
<text x="3052" y="2526">5</text>
<text x="2132" y="2407">2</text>
<text x="2029" y="2486">7</text>
<text x="1916" y="2552">7</text>
<text x="1797" y="2626">7</text>
<text x="2384" y="3003">2</text>
<text x="1495" y="2893">15</text>
<text x="1395" y="2943">14</text>
<text x="1288" y="3001">23</text>
<text x="1174" y="3056">24</text>
<text x="471" y="3211">1</text>
<text x="1056" y="3096">22</text>
<text x="2507" y="3113">9</text>
<text x="2647" y="3231">8</text>
<text x="2894" y="3278">10</text>
<text x="1322" y="3988">29</text>
<text x="2415" y="2067">3</text>
<text x="2253" y="2264">4</text>
<text x="1973" y="3315">6</text>
<text x="847" y="1514">41</text>
<text x="969" y="1584">40</text>
</svg>
</body></html>
